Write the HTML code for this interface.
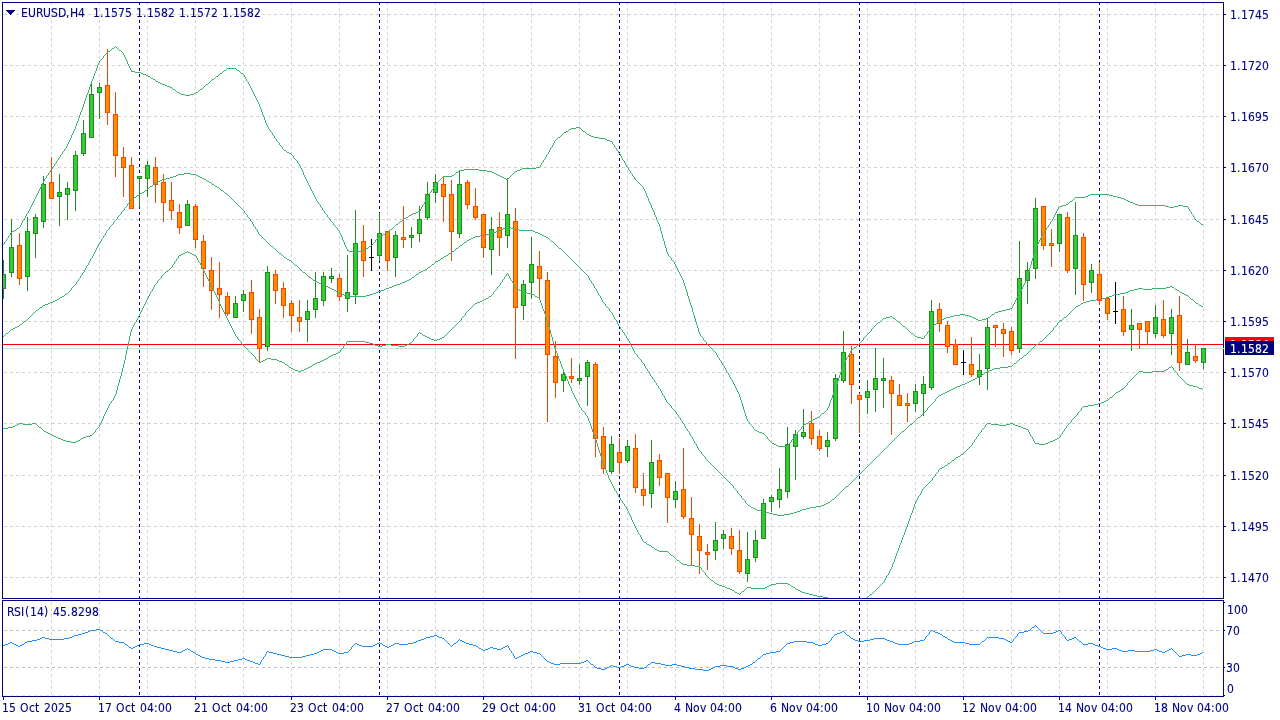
<!DOCTYPE html>
<html lang="en"><head><meta charset="utf-8"><title>EURUSD,H4</title>
<style>html,body{margin:0;padding:0;background:#fff;overflow:hidden}svg{display:block}</style>
</head><body><svg width="1280" height="720" viewBox="0 0 1280 720" shape-rendering="crispEdges"><rect width="1280" height="720" fill="#fff"/><path fill="#d3d3d3" d="M51 3h1v2h-1zM51 8h1v3h-1zM51 14h1v3h-1zM51 20h1v3h-1zM51 26h1v3h-1zM51 32h1v3h-1zM51 38h1v3h-1zM51 44h1v3h-1zM51 50h1v3h-1zM51 56h1v3h-1zM51 62h1v3h-1zM51 68h1v3h-1zM51 74h1v3h-1zM51 80h1v3h-1zM51 86h1v3h-1zM51 92h1v3h-1zM51 98h1v3h-1zM51 104h1v3h-1zM51 110h1v3h-1zM51 116h1v3h-1zM51 122h1v3h-1zM51 128h1v3h-1zM51 134h1v3h-1zM51 140h1v3h-1zM51 146h1v3h-1zM51 152h1v3h-1zM51 158h1v3h-1zM51 164h1v3h-1zM51 170h1v3h-1zM51 176h1v3h-1zM51 182h1v3h-1zM51 188h1v3h-1zM51 194h1v3h-1zM51 200h1v3h-1zM51 206h1v3h-1zM51 212h1v3h-1zM51 218h1v3h-1zM51 224h1v3h-1zM51 230h1v3h-1zM51 236h1v3h-1zM51 242h1v3h-1zM51 248h1v3h-1zM51 254h1v3h-1zM51 260h1v3h-1zM51 266h1v3h-1zM51 272h1v3h-1zM51 278h1v3h-1zM51 284h1v3h-1zM51 290h1v3h-1zM51 296h1v3h-1zM51 302h1v3h-1zM51 308h1v3h-1zM51 314h1v3h-1zM51 320h1v3h-1zM51 326h1v3h-1zM51 332h1v3h-1zM51 338h1v3h-1zM51 344h1v3h-1zM51 350h1v3h-1zM51 356h1v3h-1zM51 362h1v3h-1zM51 368h1v3h-1zM51 374h1v3h-1zM51 380h1v3h-1zM51 386h1v3h-1zM51 392h1v3h-1zM51 398h1v3h-1zM51 404h1v3h-1zM51 410h1v3h-1zM51 416h1v3h-1zM51 422h1v3h-1zM51 428h1v3h-1zM51 434h1v3h-1zM51 440h1v3h-1zM51 446h1v3h-1zM51 452h1v3h-1zM51 458h1v3h-1zM51 464h1v3h-1zM51 470h1v3h-1zM51 476h1v3h-1zM51 482h1v3h-1zM51 488h1v3h-1zM51 494h1v3h-1zM51 500h1v3h-1zM51 506h1v3h-1zM51 512h1v3h-1zM51 518h1v3h-1zM51 524h1v3h-1zM51 530h1v3h-1zM51 536h1v3h-1zM51 542h1v3h-1zM51 548h1v3h-1zM51 554h1v3h-1zM51 560h1v3h-1zM51 566h1v3h-1zM51 572h1v3h-1zM51 578h1v3h-1zM51 584h1v3h-1zM51 590h1v3h-1zM51 596h1v2h-1zM51 602h1v3h-1zM51 608h1v3h-1zM51 614h1v3h-1zM51 620h1v3h-1zM51 626h1v3h-1zM51 632h1v3h-1zM51 638h1v3h-1zM51 644h1v3h-1zM51 650h1v3h-1zM51 656h1v3h-1zM51 662h1v3h-1zM51 668h1v3h-1zM51 674h1v3h-1zM51 680h1v3h-1zM51 686h1v3h-1zM51 692h1v3h-1zM99 3h1v2h-1zM99 8h1v3h-1zM99 14h1v3h-1zM99 20h1v3h-1zM99 26h1v3h-1zM99 32h1v3h-1zM99 38h1v3h-1zM99 44h1v3h-1zM99 50h1v3h-1zM99 56h1v3h-1zM99 62h1v3h-1zM99 68h1v3h-1zM99 74h1v3h-1zM99 80h1v3h-1zM99 86h1v3h-1zM99 92h1v3h-1zM99 98h1v3h-1zM99 104h1v3h-1zM99 110h1v3h-1zM99 116h1v3h-1zM99 122h1v3h-1zM99 128h1v3h-1zM99 134h1v3h-1zM99 140h1v3h-1zM99 146h1v3h-1zM99 152h1v3h-1zM99 158h1v3h-1zM99 164h1v3h-1zM99 170h1v3h-1zM99 176h1v3h-1zM99 182h1v3h-1zM99 188h1v3h-1zM99 194h1v3h-1zM99 200h1v3h-1zM99 206h1v3h-1zM99 212h1v3h-1zM99 218h1v3h-1zM99 224h1v3h-1zM99 230h1v3h-1zM99 236h1v3h-1zM99 242h1v3h-1zM99 248h1v3h-1zM99 254h1v3h-1zM99 260h1v3h-1zM99 266h1v3h-1zM99 272h1v3h-1zM99 278h1v3h-1zM99 284h1v3h-1zM99 290h1v3h-1zM99 296h1v3h-1zM99 302h1v3h-1zM99 308h1v3h-1zM99 314h1v3h-1zM99 320h1v3h-1zM99 326h1v3h-1zM99 332h1v3h-1zM99 338h1v3h-1zM99 344h1v3h-1zM99 350h1v3h-1zM99 356h1v3h-1zM99 362h1v3h-1zM99 368h1v3h-1zM99 374h1v3h-1zM99 380h1v3h-1zM99 386h1v3h-1zM99 392h1v3h-1zM99 398h1v3h-1zM99 404h1v3h-1zM99 410h1v3h-1zM99 416h1v3h-1zM99 422h1v3h-1zM99 428h1v3h-1zM99 434h1v3h-1zM99 440h1v3h-1zM99 446h1v3h-1zM99 452h1v3h-1zM99 458h1v3h-1zM99 464h1v3h-1zM99 470h1v3h-1zM99 476h1v3h-1zM99 482h1v3h-1zM99 488h1v3h-1zM99 494h1v3h-1zM99 500h1v3h-1zM99 506h1v3h-1zM99 512h1v3h-1zM99 518h1v3h-1zM99 524h1v3h-1zM99 530h1v3h-1zM99 536h1v3h-1zM99 542h1v3h-1zM99 548h1v3h-1zM99 554h1v3h-1zM99 560h1v3h-1zM99 566h1v3h-1zM99 572h1v3h-1zM99 578h1v3h-1zM99 584h1v3h-1zM99 590h1v3h-1zM99 596h1v2h-1zM99 602h1v3h-1zM99 608h1v3h-1zM99 614h1v3h-1zM99 620h1v3h-1zM99 626h1v3h-1zM99 632h1v3h-1zM99 638h1v3h-1zM99 644h1v3h-1zM99 650h1v3h-1zM99 656h1v3h-1zM99 662h1v3h-1zM99 668h1v3h-1zM99 674h1v3h-1zM99 680h1v3h-1zM99 686h1v3h-1zM99 692h1v3h-1zM147 3h1v2h-1zM147 8h1v3h-1zM147 14h1v3h-1zM147 20h1v3h-1zM147 26h1v3h-1zM147 32h1v3h-1zM147 38h1v3h-1zM147 44h1v3h-1zM147 50h1v3h-1zM147 56h1v3h-1zM147 62h1v3h-1zM147 68h1v3h-1zM147 74h1v3h-1zM147 80h1v3h-1zM147 86h1v3h-1zM147 92h1v3h-1zM147 98h1v3h-1zM147 104h1v3h-1zM147 110h1v3h-1zM147 116h1v3h-1zM147 122h1v3h-1zM147 128h1v3h-1zM147 134h1v3h-1zM147 140h1v3h-1zM147 146h1v3h-1zM147 152h1v3h-1zM147 158h1v3h-1zM147 164h1v3h-1zM147 170h1v3h-1zM147 176h1v3h-1zM147 182h1v3h-1zM147 188h1v3h-1zM147 194h1v3h-1zM147 200h1v3h-1zM147 206h1v3h-1zM147 212h1v3h-1zM147 218h1v3h-1zM147 224h1v3h-1zM147 230h1v3h-1zM147 236h1v3h-1zM147 242h1v3h-1zM147 248h1v3h-1zM147 254h1v3h-1zM147 260h1v3h-1zM147 266h1v3h-1zM147 272h1v3h-1zM147 278h1v3h-1zM147 284h1v3h-1zM147 290h1v3h-1zM147 296h1v3h-1zM147 302h1v3h-1zM147 308h1v3h-1zM147 314h1v3h-1zM147 320h1v3h-1zM147 326h1v3h-1zM147 332h1v3h-1zM147 338h1v3h-1zM147 344h1v3h-1zM147 350h1v3h-1zM147 356h1v3h-1zM147 362h1v3h-1zM147 368h1v3h-1zM147 374h1v3h-1zM147 380h1v3h-1zM147 386h1v3h-1zM147 392h1v3h-1zM147 398h1v3h-1zM147 404h1v3h-1zM147 410h1v3h-1zM147 416h1v3h-1zM147 422h1v3h-1zM147 428h1v3h-1zM147 434h1v3h-1zM147 440h1v3h-1zM147 446h1v3h-1zM147 452h1v3h-1zM147 458h1v3h-1zM147 464h1v3h-1zM147 470h1v3h-1zM147 476h1v3h-1zM147 482h1v3h-1zM147 488h1v3h-1zM147 494h1v3h-1zM147 500h1v3h-1zM147 506h1v3h-1zM147 512h1v3h-1zM147 518h1v3h-1zM147 524h1v3h-1zM147 530h1v3h-1zM147 536h1v3h-1zM147 542h1v3h-1zM147 548h1v3h-1zM147 554h1v3h-1zM147 560h1v3h-1zM147 566h1v3h-1zM147 572h1v3h-1zM147 578h1v3h-1zM147 584h1v3h-1zM147 590h1v3h-1zM147 596h1v2h-1zM147 602h1v3h-1zM147 608h1v3h-1zM147 614h1v3h-1zM147 620h1v3h-1zM147 626h1v3h-1zM147 632h1v3h-1zM147 638h1v3h-1zM147 644h1v3h-1zM147 650h1v3h-1zM147 656h1v3h-1zM147 662h1v3h-1zM147 668h1v3h-1zM147 674h1v3h-1zM147 680h1v3h-1zM147 686h1v3h-1zM147 692h1v3h-1zM195 3h1v2h-1zM195 8h1v3h-1zM195 14h1v3h-1zM195 20h1v3h-1zM195 26h1v3h-1zM195 32h1v3h-1zM195 38h1v3h-1zM195 44h1v3h-1zM195 50h1v3h-1zM195 56h1v3h-1zM195 62h1v3h-1zM195 68h1v3h-1zM195 74h1v3h-1zM195 80h1v3h-1zM195 86h1v3h-1zM195 92h1v3h-1zM195 98h1v3h-1zM195 104h1v3h-1zM195 110h1v3h-1zM195 116h1v3h-1zM195 122h1v3h-1zM195 128h1v3h-1zM195 134h1v3h-1zM195 140h1v3h-1zM195 146h1v3h-1zM195 152h1v3h-1zM195 158h1v3h-1zM195 164h1v3h-1zM195 170h1v3h-1zM195 176h1v3h-1zM195 182h1v3h-1zM195 188h1v3h-1zM195 194h1v3h-1zM195 200h1v3h-1zM195 206h1v3h-1zM195 212h1v3h-1zM195 218h1v3h-1zM195 224h1v3h-1zM195 230h1v3h-1zM195 236h1v3h-1zM195 242h1v3h-1zM195 248h1v3h-1zM195 254h1v3h-1zM195 260h1v3h-1zM195 266h1v3h-1zM195 272h1v3h-1zM195 278h1v3h-1zM195 284h1v3h-1zM195 290h1v3h-1zM195 296h1v3h-1zM195 302h1v3h-1zM195 308h1v3h-1zM195 314h1v3h-1zM195 320h1v3h-1zM195 326h1v3h-1zM195 332h1v3h-1zM195 338h1v3h-1zM195 344h1v3h-1zM195 350h1v3h-1zM195 356h1v3h-1zM195 362h1v3h-1zM195 368h1v3h-1zM195 374h1v3h-1zM195 380h1v3h-1zM195 386h1v3h-1zM195 392h1v3h-1zM195 398h1v3h-1zM195 404h1v3h-1zM195 410h1v3h-1zM195 416h1v3h-1zM195 422h1v3h-1zM195 428h1v3h-1zM195 434h1v3h-1zM195 440h1v3h-1zM195 446h1v3h-1zM195 452h1v3h-1zM195 458h1v3h-1zM195 464h1v3h-1zM195 470h1v3h-1zM195 476h1v3h-1zM195 482h1v3h-1zM195 488h1v3h-1zM195 494h1v3h-1zM195 500h1v3h-1zM195 506h1v3h-1zM195 512h1v3h-1zM195 518h1v3h-1zM195 524h1v3h-1zM195 530h1v3h-1zM195 536h1v3h-1zM195 542h1v3h-1zM195 548h1v3h-1zM195 554h1v3h-1zM195 560h1v3h-1zM195 566h1v3h-1zM195 572h1v3h-1zM195 578h1v3h-1zM195 584h1v3h-1zM195 590h1v3h-1zM195 596h1v2h-1zM195 602h1v3h-1zM195 608h1v3h-1zM195 614h1v3h-1zM195 620h1v3h-1zM195 626h1v3h-1zM195 632h1v3h-1zM195 638h1v3h-1zM195 644h1v3h-1zM195 650h1v3h-1zM195 656h1v3h-1zM195 662h1v3h-1zM195 668h1v3h-1zM195 674h1v3h-1zM195 680h1v3h-1zM195 686h1v3h-1zM195 692h1v3h-1zM243 3h1v2h-1zM243 8h1v3h-1zM243 14h1v3h-1zM243 20h1v3h-1zM243 26h1v3h-1zM243 32h1v3h-1zM243 38h1v3h-1zM243 44h1v3h-1zM243 50h1v3h-1zM243 56h1v3h-1zM243 62h1v3h-1zM243 68h1v3h-1zM243 74h1v3h-1zM243 80h1v3h-1zM243 86h1v3h-1zM243 92h1v3h-1zM243 98h1v3h-1zM243 104h1v3h-1zM243 110h1v3h-1zM243 116h1v3h-1zM243 122h1v3h-1zM243 128h1v3h-1zM243 134h1v3h-1zM243 140h1v3h-1zM243 146h1v3h-1zM243 152h1v3h-1zM243 158h1v3h-1zM243 164h1v3h-1zM243 170h1v3h-1zM243 176h1v3h-1zM243 182h1v3h-1zM243 188h1v3h-1zM243 194h1v3h-1zM243 200h1v3h-1zM243 206h1v3h-1zM243 212h1v3h-1zM243 218h1v3h-1zM243 224h1v3h-1zM243 230h1v3h-1zM243 236h1v3h-1zM243 242h1v3h-1zM243 248h1v3h-1zM243 254h1v3h-1zM243 260h1v3h-1zM243 266h1v3h-1zM243 272h1v3h-1zM243 278h1v3h-1zM243 284h1v3h-1zM243 290h1v3h-1zM243 296h1v3h-1zM243 302h1v3h-1zM243 308h1v3h-1zM243 314h1v3h-1zM243 320h1v3h-1zM243 326h1v3h-1zM243 332h1v3h-1zM243 338h1v3h-1zM243 344h1v3h-1zM243 350h1v3h-1zM243 356h1v3h-1zM243 362h1v3h-1zM243 368h1v3h-1zM243 374h1v3h-1zM243 380h1v3h-1zM243 386h1v3h-1zM243 392h1v3h-1zM243 398h1v3h-1zM243 404h1v3h-1zM243 410h1v3h-1zM243 416h1v3h-1zM243 422h1v3h-1zM243 428h1v3h-1zM243 434h1v3h-1zM243 440h1v3h-1zM243 446h1v3h-1zM243 452h1v3h-1zM243 458h1v3h-1zM243 464h1v3h-1zM243 470h1v3h-1zM243 476h1v3h-1zM243 482h1v3h-1zM243 488h1v3h-1zM243 494h1v3h-1zM243 500h1v3h-1zM243 506h1v3h-1zM243 512h1v3h-1zM243 518h1v3h-1zM243 524h1v3h-1zM243 530h1v3h-1zM243 536h1v3h-1zM243 542h1v3h-1zM243 548h1v3h-1zM243 554h1v3h-1zM243 560h1v3h-1zM243 566h1v3h-1zM243 572h1v3h-1zM243 578h1v3h-1zM243 584h1v3h-1zM243 590h1v3h-1zM243 596h1v2h-1zM243 602h1v3h-1zM243 608h1v3h-1zM243 614h1v3h-1zM243 620h1v3h-1zM243 626h1v3h-1zM243 632h1v3h-1zM243 638h1v3h-1zM243 644h1v3h-1zM243 650h1v3h-1zM243 656h1v3h-1zM243 662h1v3h-1zM243 668h1v3h-1zM243 674h1v3h-1zM243 680h1v3h-1zM243 686h1v3h-1zM243 692h1v3h-1zM291 3h1v2h-1zM291 8h1v3h-1zM291 14h1v3h-1zM291 20h1v3h-1zM291 26h1v3h-1zM291 32h1v3h-1zM291 38h1v3h-1zM291 44h1v3h-1zM291 50h1v3h-1zM291 56h1v3h-1zM291 62h1v3h-1zM291 68h1v3h-1zM291 74h1v3h-1zM291 80h1v3h-1zM291 86h1v3h-1zM291 92h1v3h-1zM291 98h1v3h-1zM291 104h1v3h-1zM291 110h1v3h-1zM291 116h1v3h-1zM291 122h1v3h-1zM291 128h1v3h-1zM291 134h1v3h-1zM291 140h1v3h-1zM291 146h1v3h-1zM291 152h1v3h-1zM291 158h1v3h-1zM291 164h1v3h-1zM291 170h1v3h-1zM291 176h1v3h-1zM291 182h1v3h-1zM291 188h1v3h-1zM291 194h1v3h-1zM291 200h1v3h-1zM291 206h1v3h-1zM291 212h1v3h-1zM291 218h1v3h-1zM291 224h1v3h-1zM291 230h1v3h-1zM291 236h1v3h-1zM291 242h1v3h-1zM291 248h1v3h-1zM291 254h1v3h-1zM291 260h1v3h-1zM291 266h1v3h-1zM291 272h1v3h-1zM291 278h1v3h-1zM291 284h1v3h-1zM291 290h1v3h-1zM291 296h1v3h-1zM291 302h1v3h-1zM291 308h1v3h-1zM291 314h1v3h-1zM291 320h1v3h-1zM291 326h1v3h-1zM291 332h1v3h-1zM291 338h1v3h-1zM291 344h1v3h-1zM291 350h1v3h-1zM291 356h1v3h-1zM291 362h1v3h-1zM291 368h1v3h-1zM291 374h1v3h-1zM291 380h1v3h-1zM291 386h1v3h-1zM291 392h1v3h-1zM291 398h1v3h-1zM291 404h1v3h-1zM291 410h1v3h-1zM291 416h1v3h-1zM291 422h1v3h-1zM291 428h1v3h-1zM291 434h1v3h-1zM291 440h1v3h-1zM291 446h1v3h-1zM291 452h1v3h-1zM291 458h1v3h-1zM291 464h1v3h-1zM291 470h1v3h-1zM291 476h1v3h-1zM291 482h1v3h-1zM291 488h1v3h-1zM291 494h1v3h-1zM291 500h1v3h-1zM291 506h1v3h-1zM291 512h1v3h-1zM291 518h1v3h-1zM291 524h1v3h-1zM291 530h1v3h-1zM291 536h1v3h-1zM291 542h1v3h-1zM291 548h1v3h-1zM291 554h1v3h-1zM291 560h1v3h-1zM291 566h1v3h-1zM291 572h1v3h-1zM291 578h1v3h-1zM291 584h1v3h-1zM291 590h1v3h-1zM291 596h1v2h-1zM291 602h1v3h-1zM291 608h1v3h-1zM291 614h1v3h-1zM291 620h1v3h-1zM291 626h1v3h-1zM291 632h1v3h-1zM291 638h1v3h-1zM291 644h1v3h-1zM291 650h1v3h-1zM291 656h1v3h-1zM291 662h1v3h-1zM291 668h1v3h-1zM291 674h1v3h-1zM291 680h1v3h-1zM291 686h1v3h-1zM291 692h1v3h-1zM339 3h1v2h-1zM339 8h1v3h-1zM339 14h1v3h-1zM339 20h1v3h-1zM339 26h1v3h-1zM339 32h1v3h-1zM339 38h1v3h-1zM339 44h1v3h-1zM339 50h1v3h-1zM339 56h1v3h-1zM339 62h1v3h-1zM339 68h1v3h-1zM339 74h1v3h-1zM339 80h1v3h-1zM339 86h1v3h-1zM339 92h1v3h-1zM339 98h1v3h-1zM339 104h1v3h-1zM339 110h1v3h-1zM339 116h1v3h-1zM339 122h1v3h-1zM339 128h1v3h-1zM339 134h1v3h-1zM339 140h1v3h-1zM339 146h1v3h-1zM339 152h1v3h-1zM339 158h1v3h-1zM339 164h1v3h-1zM339 170h1v3h-1zM339 176h1v3h-1zM339 182h1v3h-1zM339 188h1v3h-1zM339 194h1v3h-1zM339 200h1v3h-1zM339 206h1v3h-1zM339 212h1v3h-1zM339 218h1v3h-1zM339 224h1v3h-1zM339 230h1v3h-1zM339 236h1v3h-1zM339 242h1v3h-1zM339 248h1v3h-1zM339 254h1v3h-1zM339 260h1v3h-1zM339 266h1v3h-1zM339 272h1v3h-1zM339 278h1v3h-1zM339 284h1v3h-1zM339 290h1v3h-1zM339 296h1v3h-1zM339 302h1v3h-1zM339 308h1v3h-1zM339 314h1v3h-1zM339 320h1v3h-1zM339 326h1v3h-1zM339 332h1v3h-1zM339 338h1v3h-1zM339 344h1v3h-1zM339 350h1v3h-1zM339 356h1v3h-1zM339 362h1v3h-1zM339 368h1v3h-1zM339 374h1v3h-1zM339 380h1v3h-1zM339 386h1v3h-1zM339 392h1v3h-1zM339 398h1v3h-1zM339 404h1v3h-1zM339 410h1v3h-1zM339 416h1v3h-1zM339 422h1v3h-1zM339 428h1v3h-1zM339 434h1v3h-1zM339 440h1v3h-1zM339 446h1v3h-1zM339 452h1v3h-1zM339 458h1v3h-1zM339 464h1v3h-1zM339 470h1v3h-1zM339 476h1v3h-1zM339 482h1v3h-1zM339 488h1v3h-1zM339 494h1v3h-1zM339 500h1v3h-1zM339 506h1v3h-1zM339 512h1v3h-1zM339 518h1v3h-1zM339 524h1v3h-1zM339 530h1v3h-1zM339 536h1v3h-1zM339 542h1v3h-1zM339 548h1v3h-1zM339 554h1v3h-1zM339 560h1v3h-1zM339 566h1v3h-1zM339 572h1v3h-1zM339 578h1v3h-1zM339 584h1v3h-1zM339 590h1v3h-1zM339 596h1v2h-1zM339 602h1v3h-1zM339 608h1v3h-1zM339 614h1v3h-1zM339 620h1v3h-1zM339 626h1v3h-1zM339 632h1v3h-1zM339 638h1v3h-1zM339 644h1v3h-1zM339 650h1v3h-1zM339 656h1v3h-1zM339 662h1v3h-1zM339 668h1v3h-1zM339 674h1v3h-1zM339 680h1v3h-1zM339 686h1v3h-1zM339 692h1v3h-1zM387 3h1v2h-1zM387 8h1v3h-1zM387 14h1v3h-1zM387 20h1v3h-1zM387 26h1v3h-1zM387 32h1v3h-1zM387 38h1v3h-1zM387 44h1v3h-1zM387 50h1v3h-1zM387 56h1v3h-1zM387 62h1v3h-1zM387 68h1v3h-1zM387 74h1v3h-1zM387 80h1v3h-1zM387 86h1v3h-1zM387 92h1v3h-1zM387 98h1v3h-1zM387 104h1v3h-1zM387 110h1v3h-1zM387 116h1v3h-1zM387 122h1v3h-1zM387 128h1v3h-1zM387 134h1v3h-1zM387 140h1v3h-1zM387 146h1v3h-1zM387 152h1v3h-1zM387 158h1v3h-1zM387 164h1v3h-1zM387 170h1v3h-1zM387 176h1v3h-1zM387 182h1v3h-1zM387 188h1v3h-1zM387 194h1v3h-1zM387 200h1v3h-1zM387 206h1v3h-1zM387 212h1v3h-1zM387 218h1v3h-1zM387 224h1v3h-1zM387 230h1v3h-1zM387 236h1v3h-1zM387 242h1v3h-1zM387 248h1v3h-1zM387 254h1v3h-1zM387 260h1v3h-1zM387 266h1v3h-1zM387 272h1v3h-1zM387 278h1v3h-1zM387 284h1v3h-1zM387 290h1v3h-1zM387 296h1v3h-1zM387 302h1v3h-1zM387 308h1v3h-1zM387 314h1v3h-1zM387 320h1v3h-1zM387 326h1v3h-1zM387 332h1v3h-1zM387 338h1v3h-1zM387 344h1v3h-1zM387 350h1v3h-1zM387 356h1v3h-1zM387 362h1v3h-1zM387 368h1v3h-1zM387 374h1v3h-1zM387 380h1v3h-1zM387 386h1v3h-1zM387 392h1v3h-1zM387 398h1v3h-1zM387 404h1v3h-1zM387 410h1v3h-1zM387 416h1v3h-1zM387 422h1v3h-1zM387 428h1v3h-1zM387 434h1v3h-1zM387 440h1v3h-1zM387 446h1v3h-1zM387 452h1v3h-1zM387 458h1v3h-1zM387 464h1v3h-1zM387 470h1v3h-1zM387 476h1v3h-1zM387 482h1v3h-1zM387 488h1v3h-1zM387 494h1v3h-1zM387 500h1v3h-1zM387 506h1v3h-1zM387 512h1v3h-1zM387 518h1v3h-1zM387 524h1v3h-1zM387 530h1v3h-1zM387 536h1v3h-1zM387 542h1v3h-1zM387 548h1v3h-1zM387 554h1v3h-1zM387 560h1v3h-1zM387 566h1v3h-1zM387 572h1v3h-1zM387 578h1v3h-1zM387 584h1v3h-1zM387 590h1v3h-1zM387 596h1v2h-1zM387 602h1v3h-1zM387 608h1v3h-1zM387 614h1v3h-1zM387 620h1v3h-1zM387 626h1v3h-1zM387 632h1v3h-1zM387 638h1v3h-1zM387 644h1v3h-1zM387 650h1v3h-1zM387 656h1v3h-1zM387 662h1v3h-1zM387 668h1v3h-1zM387 674h1v3h-1zM387 680h1v3h-1zM387 686h1v3h-1zM387 692h1v3h-1zM435 3h1v2h-1zM435 8h1v3h-1zM435 14h1v3h-1zM435 20h1v3h-1zM435 26h1v3h-1zM435 32h1v3h-1zM435 38h1v3h-1zM435 44h1v3h-1zM435 50h1v3h-1zM435 56h1v3h-1zM435 62h1v3h-1zM435 68h1v3h-1zM435 74h1v3h-1zM435 80h1v3h-1zM435 86h1v3h-1zM435 92h1v3h-1zM435 98h1v3h-1zM435 104h1v3h-1zM435 110h1v3h-1zM435 116h1v3h-1zM435 122h1v3h-1zM435 128h1v3h-1zM435 134h1v3h-1zM435 140h1v3h-1zM435 146h1v3h-1zM435 152h1v3h-1zM435 158h1v3h-1zM435 164h1v3h-1zM435 170h1v3h-1zM435 176h1v3h-1zM435 182h1v3h-1zM435 188h1v3h-1zM435 194h1v3h-1zM435 200h1v3h-1zM435 206h1v3h-1zM435 212h1v3h-1zM435 218h1v3h-1zM435 224h1v3h-1zM435 230h1v3h-1zM435 236h1v3h-1zM435 242h1v3h-1zM435 248h1v3h-1zM435 254h1v3h-1zM435 260h1v3h-1zM435 266h1v3h-1zM435 272h1v3h-1zM435 278h1v3h-1zM435 284h1v3h-1zM435 290h1v3h-1zM435 296h1v3h-1zM435 302h1v3h-1zM435 308h1v3h-1zM435 314h1v3h-1zM435 320h1v3h-1zM435 326h1v3h-1zM435 332h1v3h-1zM435 338h1v3h-1zM435 344h1v3h-1zM435 350h1v3h-1zM435 356h1v3h-1zM435 362h1v3h-1zM435 368h1v3h-1zM435 374h1v3h-1zM435 380h1v3h-1zM435 386h1v3h-1zM435 392h1v3h-1zM435 398h1v3h-1zM435 404h1v3h-1zM435 410h1v3h-1zM435 416h1v3h-1zM435 422h1v3h-1zM435 428h1v3h-1zM435 434h1v3h-1zM435 440h1v3h-1zM435 446h1v3h-1zM435 452h1v3h-1zM435 458h1v3h-1zM435 464h1v3h-1zM435 470h1v3h-1zM435 476h1v3h-1zM435 482h1v3h-1zM435 488h1v3h-1zM435 494h1v3h-1zM435 500h1v3h-1zM435 506h1v3h-1zM435 512h1v3h-1zM435 518h1v3h-1zM435 524h1v3h-1zM435 530h1v3h-1zM435 536h1v3h-1zM435 542h1v3h-1zM435 548h1v3h-1zM435 554h1v3h-1zM435 560h1v3h-1zM435 566h1v3h-1zM435 572h1v3h-1zM435 578h1v3h-1zM435 584h1v3h-1zM435 590h1v3h-1zM435 596h1v2h-1zM435 602h1v3h-1zM435 608h1v3h-1zM435 614h1v3h-1zM435 620h1v3h-1zM435 626h1v3h-1zM435 632h1v3h-1zM435 638h1v3h-1zM435 644h1v3h-1zM435 650h1v3h-1zM435 656h1v3h-1zM435 662h1v3h-1zM435 668h1v3h-1zM435 674h1v3h-1zM435 680h1v3h-1zM435 686h1v3h-1zM435 692h1v3h-1zM483 3h1v2h-1zM483 8h1v3h-1zM483 14h1v3h-1zM483 20h1v3h-1zM483 26h1v3h-1zM483 32h1v3h-1zM483 38h1v3h-1zM483 44h1v3h-1zM483 50h1v3h-1zM483 56h1v3h-1zM483 62h1v3h-1zM483 68h1v3h-1zM483 74h1v3h-1zM483 80h1v3h-1zM483 86h1v3h-1zM483 92h1v3h-1zM483 98h1v3h-1zM483 104h1v3h-1zM483 110h1v3h-1zM483 116h1v3h-1zM483 122h1v3h-1zM483 128h1v3h-1zM483 134h1v3h-1zM483 140h1v3h-1zM483 146h1v3h-1zM483 152h1v3h-1zM483 158h1v3h-1zM483 164h1v3h-1zM483 170h1v3h-1zM483 176h1v3h-1zM483 182h1v3h-1zM483 188h1v3h-1zM483 194h1v3h-1zM483 200h1v3h-1zM483 206h1v3h-1zM483 212h1v3h-1zM483 218h1v3h-1zM483 224h1v3h-1zM483 230h1v3h-1zM483 236h1v3h-1zM483 242h1v3h-1zM483 248h1v3h-1zM483 254h1v3h-1zM483 260h1v3h-1zM483 266h1v3h-1zM483 272h1v3h-1zM483 278h1v3h-1zM483 284h1v3h-1zM483 290h1v3h-1zM483 296h1v3h-1zM483 302h1v3h-1zM483 308h1v3h-1zM483 314h1v3h-1zM483 320h1v3h-1zM483 326h1v3h-1zM483 332h1v3h-1zM483 338h1v3h-1zM483 344h1v3h-1zM483 350h1v3h-1zM483 356h1v3h-1zM483 362h1v3h-1zM483 368h1v3h-1zM483 374h1v3h-1zM483 380h1v3h-1zM483 386h1v3h-1zM483 392h1v3h-1zM483 398h1v3h-1zM483 404h1v3h-1zM483 410h1v3h-1zM483 416h1v3h-1zM483 422h1v3h-1zM483 428h1v3h-1zM483 434h1v3h-1zM483 440h1v3h-1zM483 446h1v3h-1zM483 452h1v3h-1zM483 458h1v3h-1zM483 464h1v3h-1zM483 470h1v3h-1zM483 476h1v3h-1zM483 482h1v3h-1zM483 488h1v3h-1zM483 494h1v3h-1zM483 500h1v3h-1zM483 506h1v3h-1zM483 512h1v3h-1zM483 518h1v3h-1zM483 524h1v3h-1zM483 530h1v3h-1zM483 536h1v3h-1zM483 542h1v3h-1zM483 548h1v3h-1zM483 554h1v3h-1zM483 560h1v3h-1zM483 566h1v3h-1zM483 572h1v3h-1zM483 578h1v3h-1zM483 584h1v3h-1zM483 590h1v3h-1zM483 596h1v2h-1zM483 602h1v3h-1zM483 608h1v3h-1zM483 614h1v3h-1zM483 620h1v3h-1zM483 626h1v3h-1zM483 632h1v3h-1zM483 638h1v3h-1zM483 644h1v3h-1zM483 650h1v3h-1zM483 656h1v3h-1zM483 662h1v3h-1zM483 668h1v3h-1zM483 674h1v3h-1zM483 680h1v3h-1zM483 686h1v3h-1zM483 692h1v3h-1zM531 3h1v2h-1zM531 8h1v3h-1zM531 14h1v3h-1zM531 20h1v3h-1zM531 26h1v3h-1zM531 32h1v3h-1zM531 38h1v3h-1zM531 44h1v3h-1zM531 50h1v3h-1zM531 56h1v3h-1zM531 62h1v3h-1zM531 68h1v3h-1zM531 74h1v3h-1zM531 80h1v3h-1zM531 86h1v3h-1zM531 92h1v3h-1zM531 98h1v3h-1zM531 104h1v3h-1zM531 110h1v3h-1zM531 116h1v3h-1zM531 122h1v3h-1zM531 128h1v3h-1zM531 134h1v3h-1zM531 140h1v3h-1zM531 146h1v3h-1zM531 152h1v3h-1zM531 158h1v3h-1zM531 164h1v3h-1zM531 170h1v3h-1zM531 176h1v3h-1zM531 182h1v3h-1zM531 188h1v3h-1zM531 194h1v3h-1zM531 200h1v3h-1zM531 206h1v3h-1zM531 212h1v3h-1zM531 218h1v3h-1zM531 224h1v3h-1zM531 230h1v3h-1zM531 236h1v3h-1zM531 242h1v3h-1zM531 248h1v3h-1zM531 254h1v3h-1zM531 260h1v3h-1zM531 266h1v3h-1zM531 272h1v3h-1zM531 278h1v3h-1zM531 284h1v3h-1zM531 290h1v3h-1zM531 296h1v3h-1zM531 302h1v3h-1zM531 308h1v3h-1zM531 314h1v3h-1zM531 320h1v3h-1zM531 326h1v3h-1zM531 332h1v3h-1zM531 338h1v3h-1zM531 344h1v3h-1zM531 350h1v3h-1zM531 356h1v3h-1zM531 362h1v3h-1zM531 368h1v3h-1zM531 374h1v3h-1zM531 380h1v3h-1zM531 386h1v3h-1zM531 392h1v3h-1zM531 398h1v3h-1zM531 404h1v3h-1zM531 410h1v3h-1zM531 416h1v3h-1zM531 422h1v3h-1zM531 428h1v3h-1zM531 434h1v3h-1zM531 440h1v3h-1zM531 446h1v3h-1zM531 452h1v3h-1zM531 458h1v3h-1zM531 464h1v3h-1zM531 470h1v3h-1zM531 476h1v3h-1zM531 482h1v3h-1zM531 488h1v3h-1zM531 494h1v3h-1zM531 500h1v3h-1zM531 506h1v3h-1zM531 512h1v3h-1zM531 518h1v3h-1zM531 524h1v3h-1zM531 530h1v3h-1zM531 536h1v3h-1zM531 542h1v3h-1zM531 548h1v3h-1zM531 554h1v3h-1zM531 560h1v3h-1zM531 566h1v3h-1zM531 572h1v3h-1zM531 578h1v3h-1zM531 584h1v3h-1zM531 590h1v3h-1zM531 596h1v2h-1zM531 602h1v3h-1zM531 608h1v3h-1zM531 614h1v3h-1zM531 620h1v3h-1zM531 626h1v3h-1zM531 632h1v3h-1zM531 638h1v3h-1zM531 644h1v3h-1zM531 650h1v3h-1zM531 656h1v3h-1zM531 662h1v3h-1zM531 668h1v3h-1zM531 674h1v3h-1zM531 680h1v3h-1zM531 686h1v3h-1zM531 692h1v3h-1zM579 3h1v2h-1zM579 8h1v3h-1zM579 14h1v3h-1zM579 20h1v3h-1zM579 26h1v3h-1zM579 32h1v3h-1zM579 38h1v3h-1zM579 44h1v3h-1zM579 50h1v3h-1zM579 56h1v3h-1zM579 62h1v3h-1zM579 68h1v3h-1zM579 74h1v3h-1zM579 80h1v3h-1zM579 86h1v3h-1zM579 92h1v3h-1zM579 98h1v3h-1zM579 104h1v3h-1zM579 110h1v3h-1zM579 116h1v3h-1zM579 122h1v3h-1zM579 128h1v3h-1zM579 134h1v3h-1zM579 140h1v3h-1zM579 146h1v3h-1zM579 152h1v3h-1zM579 158h1v3h-1zM579 164h1v3h-1zM579 170h1v3h-1zM579 176h1v3h-1zM579 182h1v3h-1zM579 188h1v3h-1zM579 194h1v3h-1zM579 200h1v3h-1zM579 206h1v3h-1zM579 212h1v3h-1zM579 218h1v3h-1zM579 224h1v3h-1zM579 230h1v3h-1zM579 236h1v3h-1zM579 242h1v3h-1zM579 248h1v3h-1zM579 254h1v3h-1zM579 260h1v3h-1zM579 266h1v3h-1zM579 272h1v3h-1zM579 278h1v3h-1zM579 284h1v3h-1zM579 290h1v3h-1zM579 296h1v3h-1zM579 302h1v3h-1zM579 308h1v3h-1zM579 314h1v3h-1zM579 320h1v3h-1zM579 326h1v3h-1zM579 332h1v3h-1zM579 338h1v3h-1zM579 344h1v3h-1zM579 350h1v3h-1zM579 356h1v3h-1zM579 362h1v3h-1zM579 368h1v3h-1zM579 374h1v3h-1zM579 380h1v3h-1zM579 386h1v3h-1zM579 392h1v3h-1zM579 398h1v3h-1zM579 404h1v3h-1zM579 410h1v3h-1zM579 416h1v3h-1zM579 422h1v3h-1zM579 428h1v3h-1zM579 434h1v3h-1zM579 440h1v3h-1zM579 446h1v3h-1zM579 452h1v3h-1zM579 458h1v3h-1zM579 464h1v3h-1zM579 470h1v3h-1zM579 476h1v3h-1zM579 482h1v3h-1zM579 488h1v3h-1zM579 494h1v3h-1zM579 500h1v3h-1zM579 506h1v3h-1zM579 512h1v3h-1zM579 518h1v3h-1zM579 524h1v3h-1zM579 530h1v3h-1zM579 536h1v3h-1zM579 542h1v3h-1zM579 548h1v3h-1zM579 554h1v3h-1zM579 560h1v3h-1zM579 566h1v3h-1zM579 572h1v3h-1zM579 578h1v3h-1zM579 584h1v3h-1zM579 590h1v3h-1zM579 596h1v2h-1zM579 602h1v3h-1zM579 608h1v3h-1zM579 614h1v3h-1zM579 620h1v3h-1zM579 626h1v3h-1zM579 632h1v3h-1zM579 638h1v3h-1zM579 644h1v3h-1zM579 650h1v3h-1zM579 656h1v3h-1zM579 662h1v3h-1zM579 668h1v3h-1zM579 674h1v3h-1zM579 680h1v3h-1zM579 686h1v3h-1zM579 692h1v3h-1zM627 3h1v2h-1zM627 8h1v3h-1zM627 14h1v3h-1zM627 20h1v3h-1zM627 26h1v3h-1zM627 32h1v3h-1zM627 38h1v3h-1zM627 44h1v3h-1zM627 50h1v3h-1zM627 56h1v3h-1zM627 62h1v3h-1zM627 68h1v3h-1zM627 74h1v3h-1zM627 80h1v3h-1zM627 86h1v3h-1zM627 92h1v3h-1zM627 98h1v3h-1zM627 104h1v3h-1zM627 110h1v3h-1zM627 116h1v3h-1zM627 122h1v3h-1zM627 128h1v3h-1zM627 134h1v3h-1zM627 140h1v3h-1zM627 146h1v3h-1zM627 152h1v3h-1zM627 158h1v3h-1zM627 164h1v3h-1zM627 170h1v3h-1zM627 176h1v3h-1zM627 182h1v3h-1zM627 188h1v3h-1zM627 194h1v3h-1zM627 200h1v3h-1zM627 206h1v3h-1zM627 212h1v3h-1zM627 218h1v3h-1zM627 224h1v3h-1zM627 230h1v3h-1zM627 236h1v3h-1zM627 242h1v3h-1zM627 248h1v3h-1zM627 254h1v3h-1zM627 260h1v3h-1zM627 266h1v3h-1zM627 272h1v3h-1zM627 278h1v3h-1zM627 284h1v3h-1zM627 290h1v3h-1zM627 296h1v3h-1zM627 302h1v3h-1zM627 308h1v3h-1zM627 314h1v3h-1zM627 320h1v3h-1zM627 326h1v3h-1zM627 332h1v3h-1zM627 338h1v3h-1zM627 344h1v3h-1zM627 350h1v3h-1zM627 356h1v3h-1zM627 362h1v3h-1zM627 368h1v3h-1zM627 374h1v3h-1zM627 380h1v3h-1zM627 386h1v3h-1zM627 392h1v3h-1zM627 398h1v3h-1zM627 404h1v3h-1zM627 410h1v3h-1zM627 416h1v3h-1zM627 422h1v3h-1zM627 428h1v3h-1zM627 434h1v3h-1zM627 440h1v3h-1zM627 446h1v3h-1zM627 452h1v3h-1zM627 458h1v3h-1zM627 464h1v3h-1zM627 470h1v3h-1zM627 476h1v3h-1zM627 482h1v3h-1zM627 488h1v3h-1zM627 494h1v3h-1zM627 500h1v3h-1zM627 506h1v3h-1zM627 512h1v3h-1zM627 518h1v3h-1zM627 524h1v3h-1zM627 530h1v3h-1zM627 536h1v3h-1zM627 542h1v3h-1zM627 548h1v3h-1zM627 554h1v3h-1zM627 560h1v3h-1zM627 566h1v3h-1zM627 572h1v3h-1zM627 578h1v3h-1zM627 584h1v3h-1zM627 590h1v3h-1zM627 596h1v2h-1zM627 602h1v3h-1zM627 608h1v3h-1zM627 614h1v3h-1zM627 620h1v3h-1zM627 626h1v3h-1zM627 632h1v3h-1zM627 638h1v3h-1zM627 644h1v3h-1zM627 650h1v3h-1zM627 656h1v3h-1zM627 662h1v3h-1zM627 668h1v3h-1zM627 674h1v3h-1zM627 680h1v3h-1zM627 686h1v3h-1zM627 692h1v3h-1zM675 3h1v2h-1zM675 8h1v3h-1zM675 14h1v3h-1zM675 20h1v3h-1zM675 26h1v3h-1zM675 32h1v3h-1zM675 38h1v3h-1zM675 44h1v3h-1zM675 50h1v3h-1zM675 56h1v3h-1zM675 62h1v3h-1zM675 68h1v3h-1zM675 74h1v3h-1zM675 80h1v3h-1zM675 86h1v3h-1zM675 92h1v3h-1zM675 98h1v3h-1zM675 104h1v3h-1zM675 110h1v3h-1zM675 116h1v3h-1zM675 122h1v3h-1zM675 128h1v3h-1zM675 134h1v3h-1zM675 140h1v3h-1zM675 146h1v3h-1zM675 152h1v3h-1zM675 158h1v3h-1zM675 164h1v3h-1zM675 170h1v3h-1zM675 176h1v3h-1zM675 182h1v3h-1zM675 188h1v3h-1zM675 194h1v3h-1zM675 200h1v3h-1zM675 206h1v3h-1zM675 212h1v3h-1zM675 218h1v3h-1zM675 224h1v3h-1zM675 230h1v3h-1zM675 236h1v3h-1zM675 242h1v3h-1zM675 248h1v3h-1zM675 254h1v3h-1zM675 260h1v3h-1zM675 266h1v3h-1zM675 272h1v3h-1zM675 278h1v3h-1zM675 284h1v3h-1zM675 290h1v3h-1zM675 296h1v3h-1zM675 302h1v3h-1zM675 308h1v3h-1zM675 314h1v3h-1zM675 320h1v3h-1zM675 326h1v3h-1zM675 332h1v3h-1zM675 338h1v3h-1zM675 344h1v3h-1zM675 350h1v3h-1zM675 356h1v3h-1zM675 362h1v3h-1zM675 368h1v3h-1zM675 374h1v3h-1zM675 380h1v3h-1zM675 386h1v3h-1zM675 392h1v3h-1zM675 398h1v3h-1zM675 404h1v3h-1zM675 410h1v3h-1zM675 416h1v3h-1zM675 422h1v3h-1zM675 428h1v3h-1zM675 434h1v3h-1zM675 440h1v3h-1zM675 446h1v3h-1zM675 452h1v3h-1zM675 458h1v3h-1zM675 464h1v3h-1zM675 470h1v3h-1zM675 476h1v3h-1zM675 482h1v3h-1zM675 488h1v3h-1zM675 494h1v3h-1zM675 500h1v3h-1zM675 506h1v3h-1zM675 512h1v3h-1zM675 518h1v3h-1zM675 524h1v3h-1zM675 530h1v3h-1zM675 536h1v3h-1zM675 542h1v3h-1zM675 548h1v3h-1zM675 554h1v3h-1zM675 560h1v3h-1zM675 566h1v3h-1zM675 572h1v3h-1zM675 578h1v3h-1zM675 584h1v3h-1zM675 590h1v3h-1zM675 596h1v2h-1zM675 602h1v3h-1zM675 608h1v3h-1zM675 614h1v3h-1zM675 620h1v3h-1zM675 626h1v3h-1zM675 632h1v3h-1zM675 638h1v3h-1zM675 644h1v3h-1zM675 650h1v3h-1zM675 656h1v3h-1zM675 662h1v3h-1zM675 668h1v3h-1zM675 674h1v3h-1zM675 680h1v3h-1zM675 686h1v3h-1zM675 692h1v3h-1zM723 3h1v2h-1zM723 8h1v3h-1zM723 14h1v3h-1zM723 20h1v3h-1zM723 26h1v3h-1zM723 32h1v3h-1zM723 38h1v3h-1zM723 44h1v3h-1zM723 50h1v3h-1zM723 56h1v3h-1zM723 62h1v3h-1zM723 68h1v3h-1zM723 74h1v3h-1zM723 80h1v3h-1zM723 86h1v3h-1zM723 92h1v3h-1zM723 98h1v3h-1zM723 104h1v3h-1zM723 110h1v3h-1zM723 116h1v3h-1zM723 122h1v3h-1zM723 128h1v3h-1zM723 134h1v3h-1zM723 140h1v3h-1zM723 146h1v3h-1zM723 152h1v3h-1zM723 158h1v3h-1zM723 164h1v3h-1zM723 170h1v3h-1zM723 176h1v3h-1zM723 182h1v3h-1zM723 188h1v3h-1zM723 194h1v3h-1zM723 200h1v3h-1zM723 206h1v3h-1zM723 212h1v3h-1zM723 218h1v3h-1zM723 224h1v3h-1zM723 230h1v3h-1zM723 236h1v3h-1zM723 242h1v3h-1zM723 248h1v3h-1zM723 254h1v3h-1zM723 260h1v3h-1zM723 266h1v3h-1zM723 272h1v3h-1zM723 278h1v3h-1zM723 284h1v3h-1zM723 290h1v3h-1zM723 296h1v3h-1zM723 302h1v3h-1zM723 308h1v3h-1zM723 314h1v3h-1zM723 320h1v3h-1zM723 326h1v3h-1zM723 332h1v3h-1zM723 338h1v3h-1zM723 344h1v3h-1zM723 350h1v3h-1zM723 356h1v3h-1zM723 362h1v3h-1zM723 368h1v3h-1zM723 374h1v3h-1zM723 380h1v3h-1zM723 386h1v3h-1zM723 392h1v3h-1zM723 398h1v3h-1zM723 404h1v3h-1zM723 410h1v3h-1zM723 416h1v3h-1zM723 422h1v3h-1zM723 428h1v3h-1zM723 434h1v3h-1zM723 440h1v3h-1zM723 446h1v3h-1zM723 452h1v3h-1zM723 458h1v3h-1zM723 464h1v3h-1zM723 470h1v3h-1zM723 476h1v3h-1zM723 482h1v3h-1zM723 488h1v3h-1zM723 494h1v3h-1zM723 500h1v3h-1zM723 506h1v3h-1zM723 512h1v3h-1zM723 518h1v3h-1zM723 524h1v3h-1zM723 530h1v3h-1zM723 536h1v3h-1zM723 542h1v3h-1zM723 548h1v3h-1zM723 554h1v3h-1zM723 560h1v3h-1zM723 566h1v3h-1zM723 572h1v3h-1zM723 578h1v3h-1zM723 584h1v3h-1zM723 590h1v3h-1zM723 596h1v2h-1zM723 602h1v3h-1zM723 608h1v3h-1zM723 614h1v3h-1zM723 620h1v3h-1zM723 626h1v3h-1zM723 632h1v3h-1zM723 638h1v3h-1zM723 644h1v3h-1zM723 650h1v3h-1zM723 656h1v3h-1zM723 662h1v3h-1zM723 668h1v3h-1zM723 674h1v3h-1zM723 680h1v3h-1zM723 686h1v3h-1zM723 692h1v3h-1zM771 3h1v2h-1zM771 8h1v3h-1zM771 14h1v3h-1zM771 20h1v3h-1zM771 26h1v3h-1zM771 32h1v3h-1zM771 38h1v3h-1zM771 44h1v3h-1zM771 50h1v3h-1zM771 56h1v3h-1zM771 62h1v3h-1zM771 68h1v3h-1zM771 74h1v3h-1zM771 80h1v3h-1zM771 86h1v3h-1zM771 92h1v3h-1zM771 98h1v3h-1zM771 104h1v3h-1zM771 110h1v3h-1zM771 116h1v3h-1zM771 122h1v3h-1zM771 128h1v3h-1zM771 134h1v3h-1zM771 140h1v3h-1zM771 146h1v3h-1zM771 152h1v3h-1zM771 158h1v3h-1zM771 164h1v3h-1zM771 170h1v3h-1zM771 176h1v3h-1zM771 182h1v3h-1zM771 188h1v3h-1zM771 194h1v3h-1zM771 200h1v3h-1zM771 206h1v3h-1zM771 212h1v3h-1zM771 218h1v3h-1zM771 224h1v3h-1zM771 230h1v3h-1zM771 236h1v3h-1zM771 242h1v3h-1zM771 248h1v3h-1zM771 254h1v3h-1zM771 260h1v3h-1zM771 266h1v3h-1zM771 272h1v3h-1zM771 278h1v3h-1zM771 284h1v3h-1zM771 290h1v3h-1zM771 296h1v3h-1zM771 302h1v3h-1zM771 308h1v3h-1zM771 314h1v3h-1zM771 320h1v3h-1zM771 326h1v3h-1zM771 332h1v3h-1zM771 338h1v3h-1zM771 344h1v3h-1zM771 350h1v3h-1zM771 356h1v3h-1zM771 362h1v3h-1zM771 368h1v3h-1zM771 374h1v3h-1zM771 380h1v3h-1zM771 386h1v3h-1zM771 392h1v3h-1zM771 398h1v3h-1zM771 404h1v3h-1zM771 410h1v3h-1zM771 416h1v3h-1zM771 422h1v3h-1zM771 428h1v3h-1zM771 434h1v3h-1zM771 440h1v3h-1zM771 446h1v3h-1zM771 452h1v3h-1zM771 458h1v3h-1zM771 464h1v3h-1zM771 470h1v3h-1zM771 476h1v3h-1zM771 482h1v3h-1zM771 488h1v3h-1zM771 494h1v3h-1zM771 500h1v3h-1zM771 506h1v3h-1zM771 512h1v3h-1zM771 518h1v3h-1zM771 524h1v3h-1zM771 530h1v3h-1zM771 536h1v3h-1zM771 542h1v3h-1zM771 548h1v3h-1zM771 554h1v3h-1zM771 560h1v3h-1zM771 566h1v3h-1zM771 572h1v3h-1zM771 578h1v3h-1zM771 584h1v3h-1zM771 590h1v3h-1zM771 596h1v2h-1zM771 602h1v3h-1zM771 608h1v3h-1zM771 614h1v3h-1zM771 620h1v3h-1zM771 626h1v3h-1zM771 632h1v3h-1zM771 638h1v3h-1zM771 644h1v3h-1zM771 650h1v3h-1zM771 656h1v3h-1zM771 662h1v3h-1zM771 668h1v3h-1zM771 674h1v3h-1zM771 680h1v3h-1zM771 686h1v3h-1zM771 692h1v3h-1zM819 3h1v2h-1zM819 8h1v3h-1zM819 14h1v3h-1zM819 20h1v3h-1zM819 26h1v3h-1zM819 32h1v3h-1zM819 38h1v3h-1zM819 44h1v3h-1zM819 50h1v3h-1zM819 56h1v3h-1zM819 62h1v3h-1zM819 68h1v3h-1zM819 74h1v3h-1zM819 80h1v3h-1zM819 86h1v3h-1zM819 92h1v3h-1zM819 98h1v3h-1zM819 104h1v3h-1zM819 110h1v3h-1zM819 116h1v3h-1zM819 122h1v3h-1zM819 128h1v3h-1zM819 134h1v3h-1zM819 140h1v3h-1zM819 146h1v3h-1zM819 152h1v3h-1zM819 158h1v3h-1zM819 164h1v3h-1zM819 170h1v3h-1zM819 176h1v3h-1zM819 182h1v3h-1zM819 188h1v3h-1zM819 194h1v3h-1zM819 200h1v3h-1zM819 206h1v3h-1zM819 212h1v3h-1zM819 218h1v3h-1zM819 224h1v3h-1zM819 230h1v3h-1zM819 236h1v3h-1zM819 242h1v3h-1zM819 248h1v3h-1zM819 254h1v3h-1zM819 260h1v3h-1zM819 266h1v3h-1zM819 272h1v3h-1zM819 278h1v3h-1zM819 284h1v3h-1zM819 290h1v3h-1zM819 296h1v3h-1zM819 302h1v3h-1zM819 308h1v3h-1zM819 314h1v3h-1zM819 320h1v3h-1zM819 326h1v3h-1zM819 332h1v3h-1zM819 338h1v3h-1zM819 344h1v3h-1zM819 350h1v3h-1zM819 356h1v3h-1zM819 362h1v3h-1zM819 368h1v3h-1zM819 374h1v3h-1zM819 380h1v3h-1zM819 386h1v3h-1zM819 392h1v3h-1zM819 398h1v3h-1zM819 404h1v3h-1zM819 410h1v3h-1zM819 416h1v3h-1zM819 422h1v3h-1zM819 428h1v3h-1zM819 434h1v3h-1zM819 440h1v3h-1zM819 446h1v3h-1zM819 452h1v3h-1zM819 458h1v3h-1zM819 464h1v3h-1zM819 470h1v3h-1zM819 476h1v3h-1zM819 482h1v3h-1zM819 488h1v3h-1zM819 494h1v3h-1zM819 500h1v3h-1zM819 506h1v3h-1zM819 512h1v3h-1zM819 518h1v3h-1zM819 524h1v3h-1zM819 530h1v3h-1zM819 536h1v3h-1zM819 542h1v3h-1zM819 548h1v3h-1zM819 554h1v3h-1zM819 560h1v3h-1zM819 566h1v3h-1zM819 572h1v3h-1zM819 578h1v3h-1zM819 584h1v3h-1zM819 590h1v3h-1zM819 596h1v2h-1zM819 602h1v3h-1zM819 608h1v3h-1zM819 614h1v3h-1zM819 620h1v3h-1zM819 626h1v3h-1zM819 632h1v3h-1zM819 638h1v3h-1zM819 644h1v3h-1zM819 650h1v3h-1zM819 656h1v3h-1zM819 662h1v3h-1zM819 668h1v3h-1zM819 674h1v3h-1zM819 680h1v3h-1zM819 686h1v3h-1zM819 692h1v3h-1zM867 3h1v2h-1zM867 8h1v3h-1zM867 14h1v3h-1zM867 20h1v3h-1zM867 26h1v3h-1zM867 32h1v3h-1zM867 38h1v3h-1zM867 44h1v3h-1zM867 50h1v3h-1zM867 56h1v3h-1zM867 62h1v3h-1zM867 68h1v3h-1zM867 74h1v3h-1zM867 80h1v3h-1zM867 86h1v3h-1zM867 92h1v3h-1zM867 98h1v3h-1zM867 104h1v3h-1zM867 110h1v3h-1zM867 116h1v3h-1zM867 122h1v3h-1zM867 128h1v3h-1zM867 134h1v3h-1zM867 140h1v3h-1zM867 146h1v3h-1zM867 152h1v3h-1zM867 158h1v3h-1zM867 164h1v3h-1zM867 170h1v3h-1zM867 176h1v3h-1zM867 182h1v3h-1zM867 188h1v3h-1zM867 194h1v3h-1zM867 200h1v3h-1zM867 206h1v3h-1zM867 212h1v3h-1zM867 218h1v3h-1zM867 224h1v3h-1zM867 230h1v3h-1zM867 236h1v3h-1zM867 242h1v3h-1zM867 248h1v3h-1zM867 254h1v3h-1zM867 260h1v3h-1zM867 266h1v3h-1zM867 272h1v3h-1zM867 278h1v3h-1zM867 284h1v3h-1zM867 290h1v3h-1zM867 296h1v3h-1zM867 302h1v3h-1zM867 308h1v3h-1zM867 314h1v3h-1zM867 320h1v3h-1zM867 326h1v3h-1zM867 332h1v3h-1zM867 338h1v3h-1zM867 344h1v3h-1zM867 350h1v3h-1zM867 356h1v3h-1zM867 362h1v3h-1zM867 368h1v3h-1zM867 374h1v3h-1zM867 380h1v3h-1zM867 386h1v3h-1zM867 392h1v3h-1zM867 398h1v3h-1zM867 404h1v3h-1zM867 410h1v3h-1zM867 416h1v3h-1zM867 422h1v3h-1zM867 428h1v3h-1zM867 434h1v3h-1zM867 440h1v3h-1zM867 446h1v3h-1zM867 452h1v3h-1zM867 458h1v3h-1zM867 464h1v3h-1zM867 470h1v3h-1zM867 476h1v3h-1zM867 482h1v3h-1zM867 488h1v3h-1zM867 494h1v3h-1zM867 500h1v3h-1zM867 506h1v3h-1zM867 512h1v3h-1zM867 518h1v3h-1zM867 524h1v3h-1zM867 530h1v3h-1zM867 536h1v3h-1zM867 542h1v3h-1zM867 548h1v3h-1zM867 554h1v3h-1zM867 560h1v3h-1zM867 566h1v3h-1zM867 572h1v3h-1zM867 578h1v3h-1zM867 584h1v3h-1zM867 590h1v3h-1zM867 596h1v2h-1zM867 602h1v3h-1zM867 608h1v3h-1zM867 614h1v3h-1zM867 620h1v3h-1zM867 626h1v3h-1zM867 632h1v3h-1zM867 638h1v3h-1zM867 644h1v3h-1zM867 650h1v3h-1zM867 656h1v3h-1zM867 662h1v3h-1zM867 668h1v3h-1zM867 674h1v3h-1zM867 680h1v3h-1zM867 686h1v3h-1zM867 692h1v3h-1zM915 3h1v2h-1zM915 8h1v3h-1zM915 14h1v3h-1zM915 20h1v3h-1zM915 26h1v3h-1zM915 32h1v3h-1zM915 38h1v3h-1zM915 44h1v3h-1zM915 50h1v3h-1zM915 56h1v3h-1zM915 62h1v3h-1zM915 68h1v3h-1zM915 74h1v3h-1zM915 80h1v3h-1zM915 86h1v3h-1zM915 92h1v3h-1zM915 98h1v3h-1zM915 104h1v3h-1zM915 110h1v3h-1zM915 116h1v3h-1zM915 122h1v3h-1zM915 128h1v3h-1zM915 134h1v3h-1zM915 140h1v3h-1zM915 146h1v3h-1zM915 152h1v3h-1zM915 158h1v3h-1zM915 164h1v3h-1zM915 170h1v3h-1zM915 176h1v3h-1zM915 182h1v3h-1zM915 188h1v3h-1zM915 194h1v3h-1zM915 200h1v3h-1zM915 206h1v3h-1zM915 212h1v3h-1zM915 218h1v3h-1zM915 224h1v3h-1zM915 230h1v3h-1zM915 236h1v3h-1zM915 242h1v3h-1zM915 248h1v3h-1zM915 254h1v3h-1zM915 260h1v3h-1zM915 266h1v3h-1zM915 272h1v3h-1zM915 278h1v3h-1zM915 284h1v3h-1zM915 290h1v3h-1zM915 296h1v3h-1zM915 302h1v3h-1zM915 308h1v3h-1zM915 314h1v3h-1zM915 320h1v3h-1zM915 326h1v3h-1zM915 332h1v3h-1zM915 338h1v3h-1zM915 344h1v3h-1zM915 350h1v3h-1zM915 356h1v3h-1zM915 362h1v3h-1zM915 368h1v3h-1zM915 374h1v3h-1zM915 380h1v3h-1zM915 386h1v3h-1zM915 392h1v3h-1zM915 398h1v3h-1zM915 404h1v3h-1zM915 410h1v3h-1zM915 416h1v3h-1zM915 422h1v3h-1zM915 428h1v3h-1zM915 434h1v3h-1zM915 440h1v3h-1zM915 446h1v3h-1zM915 452h1v3h-1zM915 458h1v3h-1zM915 464h1v3h-1zM915 470h1v3h-1zM915 476h1v3h-1zM915 482h1v3h-1zM915 488h1v3h-1zM915 494h1v3h-1zM915 500h1v3h-1zM915 506h1v3h-1zM915 512h1v3h-1zM915 518h1v3h-1zM915 524h1v3h-1zM915 530h1v3h-1zM915 536h1v3h-1zM915 542h1v3h-1zM915 548h1v3h-1zM915 554h1v3h-1zM915 560h1v3h-1zM915 566h1v3h-1zM915 572h1v3h-1zM915 578h1v3h-1zM915 584h1v3h-1zM915 590h1v3h-1zM915 596h1v2h-1zM915 602h1v3h-1zM915 608h1v3h-1zM915 614h1v3h-1zM915 620h1v3h-1zM915 626h1v3h-1zM915 632h1v3h-1zM915 638h1v3h-1zM915 644h1v3h-1zM915 650h1v3h-1zM915 656h1v3h-1zM915 662h1v3h-1zM915 668h1v3h-1zM915 674h1v3h-1zM915 680h1v3h-1zM915 686h1v3h-1zM915 692h1v3h-1zM963 3h1v2h-1zM963 8h1v3h-1zM963 14h1v3h-1zM963 20h1v3h-1zM963 26h1v3h-1zM963 32h1v3h-1zM963 38h1v3h-1zM963 44h1v3h-1zM963 50h1v3h-1zM963 56h1v3h-1zM963 62h1v3h-1zM963 68h1v3h-1zM963 74h1v3h-1zM963 80h1v3h-1zM963 86h1v3h-1zM963 92h1v3h-1zM963 98h1v3h-1zM963 104h1v3h-1zM963 110h1v3h-1zM963 116h1v3h-1zM963 122h1v3h-1zM963 128h1v3h-1zM963 134h1v3h-1zM963 140h1v3h-1zM963 146h1v3h-1zM963 152h1v3h-1zM963 158h1v3h-1zM963 164h1v3h-1zM963 170h1v3h-1zM963 176h1v3h-1zM963 182h1v3h-1zM963 188h1v3h-1zM963 194h1v3h-1zM963 200h1v3h-1zM963 206h1v3h-1zM963 212h1v3h-1zM963 218h1v3h-1zM963 224h1v3h-1zM963 230h1v3h-1zM963 236h1v3h-1zM963 242h1v3h-1zM963 248h1v3h-1zM963 254h1v3h-1zM963 260h1v3h-1zM963 266h1v3h-1zM963 272h1v3h-1zM963 278h1v3h-1zM963 284h1v3h-1zM963 290h1v3h-1zM963 296h1v3h-1zM963 302h1v3h-1zM963 308h1v3h-1zM963 314h1v3h-1zM963 320h1v3h-1zM963 326h1v3h-1zM963 332h1v3h-1zM963 338h1v3h-1zM963 344h1v3h-1zM963 350h1v3h-1zM963 356h1v3h-1zM963 362h1v3h-1zM963 368h1v3h-1zM963 374h1v3h-1zM963 380h1v3h-1zM963 386h1v3h-1zM963 392h1v3h-1zM963 398h1v3h-1zM963 404h1v3h-1zM963 410h1v3h-1zM963 416h1v3h-1zM963 422h1v3h-1zM963 428h1v3h-1zM963 434h1v3h-1zM963 440h1v3h-1zM963 446h1v3h-1zM963 452h1v3h-1zM963 458h1v3h-1zM963 464h1v3h-1zM963 470h1v3h-1zM963 476h1v3h-1zM963 482h1v3h-1zM963 488h1v3h-1zM963 494h1v3h-1zM963 500h1v3h-1zM963 506h1v3h-1zM963 512h1v3h-1zM963 518h1v3h-1zM963 524h1v3h-1zM963 530h1v3h-1zM963 536h1v3h-1zM963 542h1v3h-1zM963 548h1v3h-1zM963 554h1v3h-1zM963 560h1v3h-1zM963 566h1v3h-1zM963 572h1v3h-1zM963 578h1v3h-1zM963 584h1v3h-1zM963 590h1v3h-1zM963 596h1v2h-1zM963 602h1v3h-1zM963 608h1v3h-1zM963 614h1v3h-1zM963 620h1v3h-1zM963 626h1v3h-1zM963 632h1v3h-1zM963 638h1v3h-1zM963 644h1v3h-1zM963 650h1v3h-1zM963 656h1v3h-1zM963 662h1v3h-1zM963 668h1v3h-1zM963 674h1v3h-1zM963 680h1v3h-1zM963 686h1v3h-1zM963 692h1v3h-1zM1011 3h1v2h-1zM1011 8h1v3h-1zM1011 14h1v3h-1zM1011 20h1v3h-1zM1011 26h1v3h-1zM1011 32h1v3h-1zM1011 38h1v3h-1zM1011 44h1v3h-1zM1011 50h1v3h-1zM1011 56h1v3h-1zM1011 62h1v3h-1zM1011 68h1v3h-1zM1011 74h1v3h-1zM1011 80h1v3h-1zM1011 86h1v3h-1zM1011 92h1v3h-1zM1011 98h1v3h-1zM1011 104h1v3h-1zM1011 110h1v3h-1zM1011 116h1v3h-1zM1011 122h1v3h-1zM1011 128h1v3h-1zM1011 134h1v3h-1zM1011 140h1v3h-1zM1011 146h1v3h-1zM1011 152h1v3h-1zM1011 158h1v3h-1zM1011 164h1v3h-1zM1011 170h1v3h-1zM1011 176h1v3h-1zM1011 182h1v3h-1zM1011 188h1v3h-1zM1011 194h1v3h-1zM1011 200h1v3h-1zM1011 206h1v3h-1zM1011 212h1v3h-1zM1011 218h1v3h-1zM1011 224h1v3h-1zM1011 230h1v3h-1zM1011 236h1v3h-1zM1011 242h1v3h-1zM1011 248h1v3h-1zM1011 254h1v3h-1zM1011 260h1v3h-1zM1011 266h1v3h-1zM1011 272h1v3h-1zM1011 278h1v3h-1zM1011 284h1v3h-1zM1011 290h1v3h-1zM1011 296h1v3h-1zM1011 302h1v3h-1zM1011 308h1v3h-1zM1011 314h1v3h-1zM1011 320h1v3h-1zM1011 326h1v3h-1zM1011 332h1v3h-1zM1011 338h1v3h-1zM1011 344h1v3h-1zM1011 350h1v3h-1zM1011 356h1v3h-1zM1011 362h1v3h-1zM1011 368h1v3h-1zM1011 374h1v3h-1zM1011 380h1v3h-1zM1011 386h1v3h-1zM1011 392h1v3h-1zM1011 398h1v3h-1zM1011 404h1v3h-1zM1011 410h1v3h-1zM1011 416h1v3h-1zM1011 422h1v3h-1zM1011 428h1v3h-1zM1011 434h1v3h-1zM1011 440h1v3h-1zM1011 446h1v3h-1zM1011 452h1v3h-1zM1011 458h1v3h-1zM1011 464h1v3h-1zM1011 470h1v3h-1zM1011 476h1v3h-1zM1011 482h1v3h-1zM1011 488h1v3h-1zM1011 494h1v3h-1zM1011 500h1v3h-1zM1011 506h1v3h-1zM1011 512h1v3h-1zM1011 518h1v3h-1zM1011 524h1v3h-1zM1011 530h1v3h-1zM1011 536h1v3h-1zM1011 542h1v3h-1zM1011 548h1v3h-1zM1011 554h1v3h-1zM1011 560h1v3h-1zM1011 566h1v3h-1zM1011 572h1v3h-1zM1011 578h1v3h-1zM1011 584h1v3h-1zM1011 590h1v3h-1zM1011 596h1v2h-1zM1011 602h1v3h-1zM1011 608h1v3h-1zM1011 614h1v3h-1zM1011 620h1v3h-1zM1011 626h1v3h-1zM1011 632h1v3h-1zM1011 638h1v3h-1zM1011 644h1v3h-1zM1011 650h1v3h-1zM1011 656h1v3h-1zM1011 662h1v3h-1zM1011 668h1v3h-1zM1011 674h1v3h-1zM1011 680h1v3h-1zM1011 686h1v3h-1zM1011 692h1v3h-1zM1059 3h1v2h-1zM1059 8h1v3h-1zM1059 14h1v3h-1zM1059 20h1v3h-1zM1059 26h1v3h-1zM1059 32h1v3h-1zM1059 38h1v3h-1zM1059 44h1v3h-1zM1059 50h1v3h-1zM1059 56h1v3h-1zM1059 62h1v3h-1zM1059 68h1v3h-1zM1059 74h1v3h-1zM1059 80h1v3h-1zM1059 86h1v3h-1zM1059 92h1v3h-1zM1059 98h1v3h-1zM1059 104h1v3h-1zM1059 110h1v3h-1zM1059 116h1v3h-1zM1059 122h1v3h-1zM1059 128h1v3h-1zM1059 134h1v3h-1zM1059 140h1v3h-1zM1059 146h1v3h-1zM1059 152h1v3h-1zM1059 158h1v3h-1zM1059 164h1v3h-1zM1059 170h1v3h-1zM1059 176h1v3h-1zM1059 182h1v3h-1zM1059 188h1v3h-1zM1059 194h1v3h-1zM1059 200h1v3h-1zM1059 206h1v3h-1zM1059 212h1v3h-1zM1059 218h1v3h-1zM1059 224h1v3h-1zM1059 230h1v3h-1zM1059 236h1v3h-1zM1059 242h1v3h-1zM1059 248h1v3h-1zM1059 254h1v3h-1zM1059 260h1v3h-1zM1059 266h1v3h-1zM1059 272h1v3h-1zM1059 278h1v3h-1zM1059 284h1v3h-1zM1059 290h1v3h-1zM1059 296h1v3h-1zM1059 302h1v3h-1zM1059 308h1v3h-1zM1059 314h1v3h-1zM1059 320h1v3h-1zM1059 326h1v3h-1zM1059 332h1v3h-1zM1059 338h1v3h-1zM1059 344h1v3h-1zM1059 350h1v3h-1zM1059 356h1v3h-1zM1059 362h1v3h-1zM1059 368h1v3h-1zM1059 374h1v3h-1zM1059 380h1v3h-1zM1059 386h1v3h-1zM1059 392h1v3h-1zM1059 398h1v3h-1zM1059 404h1v3h-1zM1059 410h1v3h-1zM1059 416h1v3h-1zM1059 422h1v3h-1zM1059 428h1v3h-1zM1059 434h1v3h-1zM1059 440h1v3h-1zM1059 446h1v3h-1zM1059 452h1v3h-1zM1059 458h1v3h-1zM1059 464h1v3h-1zM1059 470h1v3h-1zM1059 476h1v3h-1zM1059 482h1v3h-1zM1059 488h1v3h-1zM1059 494h1v3h-1zM1059 500h1v3h-1zM1059 506h1v3h-1zM1059 512h1v3h-1zM1059 518h1v3h-1zM1059 524h1v3h-1zM1059 530h1v3h-1zM1059 536h1v3h-1zM1059 542h1v3h-1zM1059 548h1v3h-1zM1059 554h1v3h-1zM1059 560h1v3h-1zM1059 566h1v3h-1zM1059 572h1v3h-1zM1059 578h1v3h-1zM1059 584h1v3h-1zM1059 590h1v3h-1zM1059 596h1v2h-1zM1059 602h1v3h-1zM1059 608h1v3h-1zM1059 614h1v3h-1zM1059 620h1v3h-1zM1059 626h1v3h-1zM1059 632h1v3h-1zM1059 638h1v3h-1zM1059 644h1v3h-1zM1059 650h1v3h-1zM1059 656h1v3h-1zM1059 662h1v3h-1zM1059 668h1v3h-1zM1059 674h1v3h-1zM1059 680h1v3h-1zM1059 686h1v3h-1zM1059 692h1v3h-1zM1107 3h1v2h-1zM1107 8h1v3h-1zM1107 14h1v3h-1zM1107 20h1v3h-1zM1107 26h1v3h-1zM1107 32h1v3h-1zM1107 38h1v3h-1zM1107 44h1v3h-1zM1107 50h1v3h-1zM1107 56h1v3h-1zM1107 62h1v3h-1zM1107 68h1v3h-1zM1107 74h1v3h-1zM1107 80h1v3h-1zM1107 86h1v3h-1zM1107 92h1v3h-1zM1107 98h1v3h-1zM1107 104h1v3h-1zM1107 110h1v3h-1zM1107 116h1v3h-1zM1107 122h1v3h-1zM1107 128h1v3h-1zM1107 134h1v3h-1zM1107 140h1v3h-1zM1107 146h1v3h-1zM1107 152h1v3h-1zM1107 158h1v3h-1zM1107 164h1v3h-1zM1107 170h1v3h-1zM1107 176h1v3h-1zM1107 182h1v3h-1zM1107 188h1v3h-1zM1107 194h1v3h-1zM1107 200h1v3h-1zM1107 206h1v3h-1zM1107 212h1v3h-1zM1107 218h1v3h-1zM1107 224h1v3h-1zM1107 230h1v3h-1zM1107 236h1v3h-1zM1107 242h1v3h-1zM1107 248h1v3h-1zM1107 254h1v3h-1zM1107 260h1v3h-1zM1107 266h1v3h-1zM1107 272h1v3h-1zM1107 278h1v3h-1zM1107 284h1v3h-1zM1107 290h1v3h-1zM1107 296h1v3h-1zM1107 302h1v3h-1zM1107 308h1v3h-1zM1107 314h1v3h-1zM1107 320h1v3h-1zM1107 326h1v3h-1zM1107 332h1v3h-1zM1107 338h1v3h-1zM1107 344h1v3h-1zM1107 350h1v3h-1zM1107 356h1v3h-1zM1107 362h1v3h-1zM1107 368h1v3h-1zM1107 374h1v3h-1zM1107 380h1v3h-1zM1107 386h1v3h-1zM1107 392h1v3h-1zM1107 398h1v3h-1zM1107 404h1v3h-1zM1107 410h1v3h-1zM1107 416h1v3h-1zM1107 422h1v3h-1zM1107 428h1v3h-1zM1107 434h1v3h-1zM1107 440h1v3h-1zM1107 446h1v3h-1zM1107 452h1v3h-1zM1107 458h1v3h-1zM1107 464h1v3h-1zM1107 470h1v3h-1zM1107 476h1v3h-1zM1107 482h1v3h-1zM1107 488h1v3h-1zM1107 494h1v3h-1zM1107 500h1v3h-1zM1107 506h1v3h-1zM1107 512h1v3h-1zM1107 518h1v3h-1zM1107 524h1v3h-1zM1107 530h1v3h-1zM1107 536h1v3h-1zM1107 542h1v3h-1zM1107 548h1v3h-1zM1107 554h1v3h-1zM1107 560h1v3h-1zM1107 566h1v3h-1zM1107 572h1v3h-1zM1107 578h1v3h-1zM1107 584h1v3h-1zM1107 590h1v3h-1zM1107 596h1v2h-1zM1107 602h1v3h-1zM1107 608h1v3h-1zM1107 614h1v3h-1zM1107 620h1v3h-1zM1107 626h1v3h-1zM1107 632h1v3h-1zM1107 638h1v3h-1zM1107 644h1v3h-1zM1107 650h1v3h-1zM1107 656h1v3h-1zM1107 662h1v3h-1zM1107 668h1v3h-1zM1107 674h1v3h-1zM1107 680h1v3h-1zM1107 686h1v3h-1zM1107 692h1v3h-1zM1155 3h1v2h-1zM1155 8h1v3h-1zM1155 14h1v3h-1zM1155 20h1v3h-1zM1155 26h1v3h-1zM1155 32h1v3h-1zM1155 38h1v3h-1zM1155 44h1v3h-1zM1155 50h1v3h-1zM1155 56h1v3h-1zM1155 62h1v3h-1zM1155 68h1v3h-1zM1155 74h1v3h-1zM1155 80h1v3h-1zM1155 86h1v3h-1zM1155 92h1v3h-1zM1155 98h1v3h-1zM1155 104h1v3h-1zM1155 110h1v3h-1zM1155 116h1v3h-1zM1155 122h1v3h-1zM1155 128h1v3h-1zM1155 134h1v3h-1zM1155 140h1v3h-1zM1155 146h1v3h-1zM1155 152h1v3h-1zM1155 158h1v3h-1zM1155 164h1v3h-1zM1155 170h1v3h-1zM1155 176h1v3h-1zM1155 182h1v3h-1zM1155 188h1v3h-1zM1155 194h1v3h-1zM1155 200h1v3h-1zM1155 206h1v3h-1zM1155 212h1v3h-1zM1155 218h1v3h-1zM1155 224h1v3h-1zM1155 230h1v3h-1zM1155 236h1v3h-1zM1155 242h1v3h-1zM1155 248h1v3h-1zM1155 254h1v3h-1zM1155 260h1v3h-1zM1155 266h1v3h-1zM1155 272h1v3h-1zM1155 278h1v3h-1zM1155 284h1v3h-1zM1155 290h1v3h-1zM1155 296h1v3h-1zM1155 302h1v3h-1zM1155 308h1v3h-1zM1155 314h1v3h-1zM1155 320h1v3h-1zM1155 326h1v3h-1zM1155 332h1v3h-1zM1155 338h1v3h-1zM1155 344h1v3h-1zM1155 350h1v3h-1zM1155 356h1v3h-1zM1155 362h1v3h-1zM1155 368h1v3h-1zM1155 374h1v3h-1zM1155 380h1v3h-1zM1155 386h1v3h-1zM1155 392h1v3h-1zM1155 398h1v3h-1zM1155 404h1v3h-1zM1155 410h1v3h-1zM1155 416h1v3h-1zM1155 422h1v3h-1zM1155 428h1v3h-1zM1155 434h1v3h-1zM1155 440h1v3h-1zM1155 446h1v3h-1zM1155 452h1v3h-1zM1155 458h1v3h-1zM1155 464h1v3h-1zM1155 470h1v3h-1zM1155 476h1v3h-1zM1155 482h1v3h-1zM1155 488h1v3h-1zM1155 494h1v3h-1zM1155 500h1v3h-1zM1155 506h1v3h-1zM1155 512h1v3h-1zM1155 518h1v3h-1zM1155 524h1v3h-1zM1155 530h1v3h-1zM1155 536h1v3h-1zM1155 542h1v3h-1zM1155 548h1v3h-1zM1155 554h1v3h-1zM1155 560h1v3h-1zM1155 566h1v3h-1zM1155 572h1v3h-1zM1155 578h1v3h-1zM1155 584h1v3h-1zM1155 590h1v3h-1zM1155 596h1v2h-1zM1155 602h1v3h-1zM1155 608h1v3h-1zM1155 614h1v3h-1zM1155 620h1v3h-1zM1155 626h1v3h-1zM1155 632h1v3h-1zM1155 638h1v3h-1zM1155 644h1v3h-1zM1155 650h1v3h-1zM1155 656h1v3h-1zM1155 662h1v3h-1zM1155 668h1v3h-1zM1155 674h1v3h-1zM1155 680h1v3h-1zM1155 686h1v3h-1zM1155 692h1v3h-1zM1203 3h1v2h-1zM1203 8h1v3h-1zM1203 14h1v3h-1zM1203 20h1v3h-1zM1203 26h1v3h-1zM1203 32h1v3h-1zM1203 38h1v3h-1zM1203 44h1v3h-1zM1203 50h1v3h-1zM1203 56h1v3h-1zM1203 62h1v3h-1zM1203 68h1v3h-1zM1203 74h1v3h-1zM1203 80h1v3h-1zM1203 86h1v3h-1zM1203 92h1v3h-1zM1203 98h1v3h-1zM1203 104h1v3h-1zM1203 110h1v3h-1zM1203 116h1v3h-1zM1203 122h1v3h-1zM1203 128h1v3h-1zM1203 134h1v3h-1zM1203 140h1v3h-1zM1203 146h1v3h-1zM1203 152h1v3h-1zM1203 158h1v3h-1zM1203 164h1v3h-1zM1203 170h1v3h-1zM1203 176h1v3h-1zM1203 182h1v3h-1zM1203 188h1v3h-1zM1203 194h1v3h-1zM1203 200h1v3h-1zM1203 206h1v3h-1zM1203 212h1v3h-1zM1203 218h1v3h-1zM1203 224h1v3h-1zM1203 230h1v3h-1zM1203 236h1v3h-1zM1203 242h1v3h-1zM1203 248h1v3h-1zM1203 254h1v3h-1zM1203 260h1v3h-1zM1203 266h1v3h-1zM1203 272h1v3h-1zM1203 278h1v3h-1zM1203 284h1v3h-1zM1203 290h1v3h-1zM1203 296h1v3h-1zM1203 302h1v3h-1zM1203 308h1v3h-1zM1203 314h1v3h-1zM1203 320h1v3h-1zM1203 326h1v3h-1zM1203 332h1v3h-1zM1203 338h1v3h-1zM1203 344h1v3h-1zM1203 350h1v3h-1zM1203 356h1v3h-1zM1203 362h1v3h-1zM1203 368h1v3h-1zM1203 374h1v3h-1zM1203 380h1v3h-1zM1203 386h1v3h-1zM1203 392h1v3h-1zM1203 398h1v3h-1zM1203 404h1v3h-1zM1203 410h1v3h-1zM1203 416h1v3h-1zM1203 422h1v3h-1zM1203 428h1v3h-1zM1203 434h1v3h-1zM1203 440h1v3h-1zM1203 446h1v3h-1zM1203 452h1v3h-1zM1203 458h1v3h-1zM1203 464h1v3h-1zM1203 470h1v3h-1zM1203 476h1v3h-1zM1203 482h1v3h-1zM1203 488h1v3h-1zM1203 494h1v3h-1zM1203 500h1v3h-1zM1203 506h1v3h-1zM1203 512h1v3h-1zM1203 518h1v3h-1zM1203 524h1v3h-1zM1203 530h1v3h-1zM1203 536h1v3h-1zM1203 542h1v3h-1zM1203 548h1v3h-1zM1203 554h1v3h-1zM1203 560h1v3h-1zM1203 566h1v3h-1zM1203 572h1v3h-1zM1203 578h1v3h-1zM1203 584h1v3h-1zM1203 590h1v3h-1zM1203 596h1v2h-1zM1203 602h1v3h-1zM1203 608h1v3h-1zM1203 614h1v3h-1zM1203 620h1v3h-1zM1203 626h1v3h-1zM1203 632h1v3h-1zM1203 638h1v3h-1zM1203 644h1v3h-1zM1203 650h1v3h-1zM1203 656h1v3h-1zM1203 662h1v3h-1zM1203 668h1v3h-1zM1203 674h1v3h-1zM1203 680h1v3h-1zM1203 686h1v3h-1zM1203 692h1v3h-1zM4 14h3v1h-3zM10 14h3v1h-3zM16 14h3v1h-3zM22 14h3v1h-3zM28 14h3v1h-3zM34 14h3v1h-3zM40 14h3v1h-3zM46 14h3v1h-3zM52 14h3v1h-3zM58 14h3v1h-3zM64 14h3v1h-3zM70 14h3v1h-3zM76 14h3v1h-3zM82 14h3v1h-3zM88 14h3v1h-3zM94 14h3v1h-3zM100 14h3v1h-3zM106 14h3v1h-3zM112 14h3v1h-3zM118 14h3v1h-3zM124 14h3v1h-3zM130 14h3v1h-3zM136 14h3v1h-3zM142 14h3v1h-3zM148 14h3v1h-3zM154 14h3v1h-3zM160 14h3v1h-3zM166 14h3v1h-3zM172 14h3v1h-3zM178 14h3v1h-3zM184 14h3v1h-3zM190 14h3v1h-3zM196 14h3v1h-3zM202 14h3v1h-3zM208 14h3v1h-3zM214 14h3v1h-3zM220 14h3v1h-3zM226 14h3v1h-3zM232 14h3v1h-3zM238 14h3v1h-3zM244 14h3v1h-3zM250 14h3v1h-3zM256 14h3v1h-3zM262 14h3v1h-3zM268 14h3v1h-3zM274 14h3v1h-3zM280 14h3v1h-3zM286 14h3v1h-3zM292 14h3v1h-3zM298 14h3v1h-3zM304 14h3v1h-3zM310 14h3v1h-3zM316 14h3v1h-3zM322 14h3v1h-3zM328 14h3v1h-3zM334 14h3v1h-3zM340 14h3v1h-3zM346 14h3v1h-3zM352 14h3v1h-3zM358 14h3v1h-3zM364 14h3v1h-3zM370 14h3v1h-3zM376 14h3v1h-3zM382 14h3v1h-3zM388 14h3v1h-3zM394 14h3v1h-3zM400 14h3v1h-3zM406 14h3v1h-3zM412 14h3v1h-3zM418 14h3v1h-3zM424 14h3v1h-3zM430 14h3v1h-3zM436 14h3v1h-3zM442 14h3v1h-3zM448 14h3v1h-3zM454 14h3v1h-3zM460 14h3v1h-3zM466 14h3v1h-3zM472 14h3v1h-3zM478 14h3v1h-3zM484 14h3v1h-3zM490 14h3v1h-3zM496 14h3v1h-3zM502 14h3v1h-3zM508 14h3v1h-3zM514 14h3v1h-3zM520 14h3v1h-3zM526 14h3v1h-3zM532 14h3v1h-3zM538 14h3v1h-3zM544 14h3v1h-3zM550 14h3v1h-3zM556 14h3v1h-3zM562 14h3v1h-3zM568 14h3v1h-3zM574 14h3v1h-3zM580 14h3v1h-3zM586 14h3v1h-3zM592 14h3v1h-3zM598 14h3v1h-3zM604 14h3v1h-3zM610 14h3v1h-3zM616 14h3v1h-3zM622 14h3v1h-3zM628 14h3v1h-3zM634 14h3v1h-3zM640 14h3v1h-3zM646 14h3v1h-3zM652 14h3v1h-3zM658 14h3v1h-3zM664 14h3v1h-3zM670 14h3v1h-3zM676 14h3v1h-3zM682 14h3v1h-3zM688 14h3v1h-3zM694 14h3v1h-3zM700 14h3v1h-3zM706 14h3v1h-3zM712 14h3v1h-3zM718 14h3v1h-3zM724 14h3v1h-3zM730 14h3v1h-3zM736 14h3v1h-3zM742 14h3v1h-3zM748 14h3v1h-3zM754 14h3v1h-3zM760 14h3v1h-3zM766 14h3v1h-3zM772 14h3v1h-3zM778 14h3v1h-3zM784 14h3v1h-3zM790 14h3v1h-3zM796 14h3v1h-3zM802 14h3v1h-3zM808 14h3v1h-3zM814 14h3v1h-3zM820 14h3v1h-3zM826 14h3v1h-3zM832 14h3v1h-3zM838 14h3v1h-3zM844 14h3v1h-3zM850 14h3v1h-3zM856 14h3v1h-3zM862 14h3v1h-3zM868 14h3v1h-3zM874 14h3v1h-3zM880 14h3v1h-3zM886 14h3v1h-3zM892 14h3v1h-3zM898 14h3v1h-3zM904 14h3v1h-3zM910 14h3v1h-3zM916 14h3v1h-3zM922 14h3v1h-3zM928 14h3v1h-3zM934 14h3v1h-3zM940 14h3v1h-3zM946 14h3v1h-3zM952 14h3v1h-3zM958 14h3v1h-3zM964 14h3v1h-3zM970 14h3v1h-3zM976 14h3v1h-3zM982 14h3v1h-3zM988 14h3v1h-3zM994 14h3v1h-3zM1000 14h3v1h-3zM1006 14h3v1h-3zM1012 14h3v1h-3zM1018 14h3v1h-3zM1024 14h3v1h-3zM1030 14h3v1h-3zM1036 14h3v1h-3zM1042 14h3v1h-3zM1048 14h3v1h-3zM1054 14h3v1h-3zM1060 14h3v1h-3zM1066 14h3v1h-3zM1072 14h3v1h-3zM1078 14h3v1h-3zM1084 14h3v1h-3zM1090 14h3v1h-3zM1096 14h3v1h-3zM1102 14h3v1h-3zM1108 14h3v1h-3zM1114 14h3v1h-3zM1120 14h3v1h-3zM1126 14h3v1h-3zM1132 14h3v1h-3zM1138 14h3v1h-3zM1144 14h3v1h-3zM1150 14h3v1h-3zM1156 14h3v1h-3zM1162 14h3v1h-3zM1168 14h3v1h-3zM1174 14h3v1h-3zM1180 14h3v1h-3zM1186 14h3v1h-3zM1192 14h3v1h-3zM1198 14h3v1h-3zM1204 14h3v1h-3zM1210 14h3v1h-3zM1216 14h3v1h-3zM4 65h3v1h-3zM10 65h3v1h-3zM16 65h3v1h-3zM22 65h3v1h-3zM28 65h3v1h-3zM34 65h3v1h-3zM40 65h3v1h-3zM46 65h3v1h-3zM52 65h3v1h-3zM58 65h3v1h-3zM64 65h3v1h-3zM70 65h3v1h-3zM76 65h3v1h-3zM82 65h3v1h-3zM88 65h3v1h-3zM94 65h3v1h-3zM100 65h3v1h-3zM106 65h3v1h-3zM112 65h3v1h-3zM118 65h3v1h-3zM124 65h3v1h-3zM130 65h3v1h-3zM136 65h3v1h-3zM142 65h3v1h-3zM148 65h3v1h-3zM154 65h3v1h-3zM160 65h3v1h-3zM166 65h3v1h-3zM172 65h3v1h-3zM178 65h3v1h-3zM184 65h3v1h-3zM190 65h3v1h-3zM196 65h3v1h-3zM202 65h3v1h-3zM208 65h3v1h-3zM214 65h3v1h-3zM220 65h3v1h-3zM226 65h3v1h-3zM232 65h3v1h-3zM238 65h3v1h-3zM244 65h3v1h-3zM250 65h3v1h-3zM256 65h3v1h-3zM262 65h3v1h-3zM268 65h3v1h-3zM274 65h3v1h-3zM280 65h3v1h-3zM286 65h3v1h-3zM292 65h3v1h-3zM298 65h3v1h-3zM304 65h3v1h-3zM310 65h3v1h-3zM316 65h3v1h-3zM322 65h3v1h-3zM328 65h3v1h-3zM334 65h3v1h-3zM340 65h3v1h-3zM346 65h3v1h-3zM352 65h3v1h-3zM358 65h3v1h-3zM364 65h3v1h-3zM370 65h3v1h-3zM376 65h3v1h-3zM382 65h3v1h-3zM388 65h3v1h-3zM394 65h3v1h-3zM400 65h3v1h-3zM406 65h3v1h-3zM412 65h3v1h-3zM418 65h3v1h-3zM424 65h3v1h-3zM430 65h3v1h-3zM436 65h3v1h-3zM442 65h3v1h-3zM448 65h3v1h-3zM454 65h3v1h-3zM460 65h3v1h-3zM466 65h3v1h-3zM472 65h3v1h-3zM478 65h3v1h-3zM484 65h3v1h-3zM490 65h3v1h-3zM496 65h3v1h-3zM502 65h3v1h-3zM508 65h3v1h-3zM514 65h3v1h-3zM520 65h3v1h-3zM526 65h3v1h-3zM532 65h3v1h-3zM538 65h3v1h-3zM544 65h3v1h-3zM550 65h3v1h-3zM556 65h3v1h-3zM562 65h3v1h-3zM568 65h3v1h-3zM574 65h3v1h-3zM580 65h3v1h-3zM586 65h3v1h-3zM592 65h3v1h-3zM598 65h3v1h-3zM604 65h3v1h-3zM610 65h3v1h-3zM616 65h3v1h-3zM622 65h3v1h-3zM628 65h3v1h-3zM634 65h3v1h-3zM640 65h3v1h-3zM646 65h3v1h-3zM652 65h3v1h-3zM658 65h3v1h-3zM664 65h3v1h-3zM670 65h3v1h-3zM676 65h3v1h-3zM682 65h3v1h-3zM688 65h3v1h-3zM694 65h3v1h-3zM700 65h3v1h-3zM706 65h3v1h-3zM712 65h3v1h-3zM718 65h3v1h-3zM724 65h3v1h-3zM730 65h3v1h-3zM736 65h3v1h-3zM742 65h3v1h-3zM748 65h3v1h-3zM754 65h3v1h-3zM760 65h3v1h-3zM766 65h3v1h-3zM772 65h3v1h-3zM778 65h3v1h-3zM784 65h3v1h-3zM790 65h3v1h-3zM796 65h3v1h-3zM802 65h3v1h-3zM808 65h3v1h-3zM814 65h3v1h-3zM820 65h3v1h-3zM826 65h3v1h-3zM832 65h3v1h-3zM838 65h3v1h-3zM844 65h3v1h-3zM850 65h3v1h-3zM856 65h3v1h-3zM862 65h3v1h-3zM868 65h3v1h-3zM874 65h3v1h-3zM880 65h3v1h-3zM886 65h3v1h-3zM892 65h3v1h-3zM898 65h3v1h-3zM904 65h3v1h-3zM910 65h3v1h-3zM916 65h3v1h-3zM922 65h3v1h-3zM928 65h3v1h-3zM934 65h3v1h-3zM940 65h3v1h-3zM946 65h3v1h-3zM952 65h3v1h-3zM958 65h3v1h-3zM964 65h3v1h-3zM970 65h3v1h-3zM976 65h3v1h-3zM982 65h3v1h-3zM988 65h3v1h-3zM994 65h3v1h-3zM1000 65h3v1h-3zM1006 65h3v1h-3zM1012 65h3v1h-3zM1018 65h3v1h-3zM1024 65h3v1h-3zM1030 65h3v1h-3zM1036 65h3v1h-3zM1042 65h3v1h-3zM1048 65h3v1h-3zM1054 65h3v1h-3zM1060 65h3v1h-3zM1066 65h3v1h-3zM1072 65h3v1h-3zM1078 65h3v1h-3zM1084 65h3v1h-3zM1090 65h3v1h-3zM1096 65h3v1h-3zM1102 65h3v1h-3zM1108 65h3v1h-3zM1114 65h3v1h-3zM1120 65h3v1h-3zM1126 65h3v1h-3zM1132 65h3v1h-3zM1138 65h3v1h-3zM1144 65h3v1h-3zM1150 65h3v1h-3zM1156 65h3v1h-3zM1162 65h3v1h-3zM1168 65h3v1h-3zM1174 65h3v1h-3zM1180 65h3v1h-3zM1186 65h3v1h-3zM1192 65h3v1h-3zM1198 65h3v1h-3zM1204 65h3v1h-3zM1210 65h3v1h-3zM1216 65h3v1h-3zM4 116h3v1h-3zM10 116h3v1h-3zM16 116h3v1h-3zM22 116h3v1h-3zM28 116h3v1h-3zM34 116h3v1h-3zM40 116h3v1h-3zM46 116h3v1h-3zM52 116h3v1h-3zM58 116h3v1h-3zM64 116h3v1h-3zM70 116h3v1h-3zM76 116h3v1h-3zM82 116h3v1h-3zM88 116h3v1h-3zM94 116h3v1h-3zM100 116h3v1h-3zM106 116h3v1h-3zM112 116h3v1h-3zM118 116h3v1h-3zM124 116h3v1h-3zM130 116h3v1h-3zM136 116h3v1h-3zM142 116h3v1h-3zM148 116h3v1h-3zM154 116h3v1h-3zM160 116h3v1h-3zM166 116h3v1h-3zM172 116h3v1h-3zM178 116h3v1h-3zM184 116h3v1h-3zM190 116h3v1h-3zM196 116h3v1h-3zM202 116h3v1h-3zM208 116h3v1h-3zM214 116h3v1h-3zM220 116h3v1h-3zM226 116h3v1h-3zM232 116h3v1h-3zM238 116h3v1h-3zM244 116h3v1h-3zM250 116h3v1h-3zM256 116h3v1h-3zM262 116h3v1h-3zM268 116h3v1h-3zM274 116h3v1h-3zM280 116h3v1h-3zM286 116h3v1h-3zM292 116h3v1h-3zM298 116h3v1h-3zM304 116h3v1h-3zM310 116h3v1h-3zM316 116h3v1h-3zM322 116h3v1h-3zM328 116h3v1h-3zM334 116h3v1h-3zM340 116h3v1h-3zM346 116h3v1h-3zM352 116h3v1h-3zM358 116h3v1h-3zM364 116h3v1h-3zM370 116h3v1h-3zM376 116h3v1h-3zM382 116h3v1h-3zM388 116h3v1h-3zM394 116h3v1h-3zM400 116h3v1h-3zM406 116h3v1h-3zM412 116h3v1h-3zM418 116h3v1h-3zM424 116h3v1h-3zM430 116h3v1h-3zM436 116h3v1h-3zM442 116h3v1h-3zM448 116h3v1h-3zM454 116h3v1h-3zM460 116h3v1h-3zM466 116h3v1h-3zM472 116h3v1h-3zM478 116h3v1h-3zM484 116h3v1h-3zM490 116h3v1h-3zM496 116h3v1h-3zM502 116h3v1h-3zM508 116h3v1h-3zM514 116h3v1h-3zM520 116h3v1h-3zM526 116h3v1h-3zM532 116h3v1h-3zM538 116h3v1h-3zM544 116h3v1h-3zM550 116h3v1h-3zM556 116h3v1h-3zM562 116h3v1h-3zM568 116h3v1h-3zM574 116h3v1h-3zM580 116h3v1h-3zM586 116h3v1h-3zM592 116h3v1h-3zM598 116h3v1h-3zM604 116h3v1h-3zM610 116h3v1h-3zM616 116h3v1h-3zM622 116h3v1h-3zM628 116h3v1h-3zM634 116h3v1h-3zM640 116h3v1h-3zM646 116h3v1h-3zM652 116h3v1h-3zM658 116h3v1h-3zM664 116h3v1h-3zM670 116h3v1h-3zM676 116h3v1h-3zM682 116h3v1h-3zM688 116h3v1h-3zM694 116h3v1h-3zM700 116h3v1h-3zM706 116h3v1h-3zM712 116h3v1h-3zM718 116h3v1h-3zM724 116h3v1h-3zM730 116h3v1h-3zM736 116h3v1h-3zM742 116h3v1h-3zM748 116h3v1h-3zM754 116h3v1h-3zM760 116h3v1h-3zM766 116h3v1h-3zM772 116h3v1h-3zM778 116h3v1h-3zM784 116h3v1h-3zM790 116h3v1h-3zM796 116h3v1h-3zM802 116h3v1h-3zM808 116h3v1h-3zM814 116h3v1h-3zM820 116h3v1h-3zM826 116h3v1h-3zM832 116h3v1h-3zM838 116h3v1h-3zM844 116h3v1h-3zM850 116h3v1h-3zM856 116h3v1h-3zM862 116h3v1h-3zM868 116h3v1h-3zM874 116h3v1h-3zM880 116h3v1h-3zM886 116h3v1h-3zM892 116h3v1h-3zM898 116h3v1h-3zM904 116h3v1h-3zM910 116h3v1h-3zM916 116h3v1h-3zM922 116h3v1h-3zM928 116h3v1h-3zM934 116h3v1h-3zM940 116h3v1h-3zM946 116h3v1h-3zM952 116h3v1h-3zM958 116h3v1h-3zM964 116h3v1h-3zM970 116h3v1h-3zM976 116h3v1h-3zM982 116h3v1h-3zM988 116h3v1h-3zM994 116h3v1h-3zM1000 116h3v1h-3zM1006 116h3v1h-3zM1012 116h3v1h-3zM1018 116h3v1h-3zM1024 116h3v1h-3zM1030 116h3v1h-3zM1036 116h3v1h-3zM1042 116h3v1h-3zM1048 116h3v1h-3zM1054 116h3v1h-3zM1060 116h3v1h-3zM1066 116h3v1h-3zM1072 116h3v1h-3zM1078 116h3v1h-3zM1084 116h3v1h-3zM1090 116h3v1h-3zM1096 116h3v1h-3zM1102 116h3v1h-3zM1108 116h3v1h-3zM1114 116h3v1h-3zM1120 116h3v1h-3zM1126 116h3v1h-3zM1132 116h3v1h-3zM1138 116h3v1h-3zM1144 116h3v1h-3zM1150 116h3v1h-3zM1156 116h3v1h-3zM1162 116h3v1h-3zM1168 116h3v1h-3zM1174 116h3v1h-3zM1180 116h3v1h-3zM1186 116h3v1h-3zM1192 116h3v1h-3zM1198 116h3v1h-3zM1204 116h3v1h-3zM1210 116h3v1h-3zM1216 116h3v1h-3zM4 167h3v1h-3zM10 167h3v1h-3zM16 167h3v1h-3zM22 167h3v1h-3zM28 167h3v1h-3zM34 167h3v1h-3zM40 167h3v1h-3zM46 167h3v1h-3zM52 167h3v1h-3zM58 167h3v1h-3zM64 167h3v1h-3zM70 167h3v1h-3zM76 167h3v1h-3zM82 167h3v1h-3zM88 167h3v1h-3zM94 167h3v1h-3zM100 167h3v1h-3zM106 167h3v1h-3zM112 167h3v1h-3zM118 167h3v1h-3zM124 167h3v1h-3zM130 167h3v1h-3zM136 167h3v1h-3zM142 167h3v1h-3zM148 167h3v1h-3zM154 167h3v1h-3zM160 167h3v1h-3zM166 167h3v1h-3zM172 167h3v1h-3zM178 167h3v1h-3zM184 167h3v1h-3zM190 167h3v1h-3zM196 167h3v1h-3zM202 167h3v1h-3zM208 167h3v1h-3zM214 167h3v1h-3zM220 167h3v1h-3zM226 167h3v1h-3zM232 167h3v1h-3zM238 167h3v1h-3zM244 167h3v1h-3zM250 167h3v1h-3zM256 167h3v1h-3zM262 167h3v1h-3zM268 167h3v1h-3zM274 167h3v1h-3zM280 167h3v1h-3zM286 167h3v1h-3zM292 167h3v1h-3zM298 167h3v1h-3zM304 167h3v1h-3zM310 167h3v1h-3zM316 167h3v1h-3zM322 167h3v1h-3zM328 167h3v1h-3zM334 167h3v1h-3zM340 167h3v1h-3zM346 167h3v1h-3zM352 167h3v1h-3zM358 167h3v1h-3zM364 167h3v1h-3zM370 167h3v1h-3zM376 167h3v1h-3zM382 167h3v1h-3zM388 167h3v1h-3zM394 167h3v1h-3zM400 167h3v1h-3zM406 167h3v1h-3zM412 167h3v1h-3zM418 167h3v1h-3zM424 167h3v1h-3zM430 167h3v1h-3zM436 167h3v1h-3zM442 167h3v1h-3zM448 167h3v1h-3zM454 167h3v1h-3zM460 167h3v1h-3zM466 167h3v1h-3zM472 167h3v1h-3zM478 167h3v1h-3zM484 167h3v1h-3zM490 167h3v1h-3zM496 167h3v1h-3zM502 167h3v1h-3zM508 167h3v1h-3zM514 167h3v1h-3zM520 167h3v1h-3zM526 167h3v1h-3zM532 167h3v1h-3zM538 167h3v1h-3zM544 167h3v1h-3zM550 167h3v1h-3zM556 167h3v1h-3zM562 167h3v1h-3zM568 167h3v1h-3zM574 167h3v1h-3zM580 167h3v1h-3zM586 167h3v1h-3zM592 167h3v1h-3zM598 167h3v1h-3zM604 167h3v1h-3zM610 167h3v1h-3zM616 167h3v1h-3zM622 167h3v1h-3zM628 167h3v1h-3zM634 167h3v1h-3zM640 167h3v1h-3zM646 167h3v1h-3zM652 167h3v1h-3zM658 167h3v1h-3zM664 167h3v1h-3zM670 167h3v1h-3zM676 167h3v1h-3zM682 167h3v1h-3zM688 167h3v1h-3zM694 167h3v1h-3zM700 167h3v1h-3zM706 167h3v1h-3zM712 167h3v1h-3zM718 167h3v1h-3zM724 167h3v1h-3zM730 167h3v1h-3zM736 167h3v1h-3zM742 167h3v1h-3zM748 167h3v1h-3zM754 167h3v1h-3zM760 167h3v1h-3zM766 167h3v1h-3zM772 167h3v1h-3zM778 167h3v1h-3zM784 167h3v1h-3zM790 167h3v1h-3zM796 167h3v1h-3zM802 167h3v1h-3zM808 167h3v1h-3zM814 167h3v1h-3zM820 167h3v1h-3zM826 167h3v1h-3zM832 167h3v1h-3zM838 167h3v1h-3zM844 167h3v1h-3zM850 167h3v1h-3zM856 167h3v1h-3zM862 167h3v1h-3zM868 167h3v1h-3zM874 167h3v1h-3zM880 167h3v1h-3zM886 167h3v1h-3zM892 167h3v1h-3zM898 167h3v1h-3zM904 167h3v1h-3zM910 167h3v1h-3zM916 167h3v1h-3zM922 167h3v1h-3zM928 167h3v1h-3zM934 167h3v1h-3zM940 167h3v1h-3zM946 167h3v1h-3zM952 167h3v1h-3zM958 167h3v1h-3zM964 167h3v1h-3zM970 167h3v1h-3zM976 167h3v1h-3zM982 167h3v1h-3zM988 167h3v1h-3zM994 167h3v1h-3zM1000 167h3v1h-3zM1006 167h3v1h-3zM1012 167h3v1h-3zM1018 167h3v1h-3zM1024 167h3v1h-3zM1030 167h3v1h-3zM1036 167h3v1h-3zM1042 167h3v1h-3zM1048 167h3v1h-3zM1054 167h3v1h-3zM1060 167h3v1h-3zM1066 167h3v1h-3zM1072 167h3v1h-3zM1078 167h3v1h-3zM1084 167h3v1h-3zM1090 167h3v1h-3zM1096 167h3v1h-3zM1102 167h3v1h-3zM1108 167h3v1h-3zM1114 167h3v1h-3zM1120 167h3v1h-3zM1126 167h3v1h-3zM1132 167h3v1h-3zM1138 167h3v1h-3zM1144 167h3v1h-3zM1150 167h3v1h-3zM1156 167h3v1h-3zM1162 167h3v1h-3zM1168 167h3v1h-3zM1174 167h3v1h-3zM1180 167h3v1h-3zM1186 167h3v1h-3zM1192 167h3v1h-3zM1198 167h3v1h-3zM1204 167h3v1h-3zM1210 167h3v1h-3zM1216 167h3v1h-3zM4 219h3v1h-3zM10 219h3v1h-3zM16 219h3v1h-3zM22 219h3v1h-3zM28 219h3v1h-3zM34 219h3v1h-3zM40 219h3v1h-3zM46 219h3v1h-3zM52 219h3v1h-3zM58 219h3v1h-3zM64 219h3v1h-3zM70 219h3v1h-3zM76 219h3v1h-3zM82 219h3v1h-3zM88 219h3v1h-3zM94 219h3v1h-3zM100 219h3v1h-3zM106 219h3v1h-3zM112 219h3v1h-3zM118 219h3v1h-3zM124 219h3v1h-3zM130 219h3v1h-3zM136 219h3v1h-3zM142 219h3v1h-3zM148 219h3v1h-3zM154 219h3v1h-3zM160 219h3v1h-3zM166 219h3v1h-3zM172 219h3v1h-3zM178 219h3v1h-3zM184 219h3v1h-3zM190 219h3v1h-3zM196 219h3v1h-3zM202 219h3v1h-3zM208 219h3v1h-3zM214 219h3v1h-3zM220 219h3v1h-3zM226 219h3v1h-3zM232 219h3v1h-3zM238 219h3v1h-3zM244 219h3v1h-3zM250 219h3v1h-3zM256 219h3v1h-3zM262 219h3v1h-3zM268 219h3v1h-3zM274 219h3v1h-3zM280 219h3v1h-3zM286 219h3v1h-3zM292 219h3v1h-3zM298 219h3v1h-3zM304 219h3v1h-3zM310 219h3v1h-3zM316 219h3v1h-3zM322 219h3v1h-3zM328 219h3v1h-3zM334 219h3v1h-3zM340 219h3v1h-3zM346 219h3v1h-3zM352 219h3v1h-3zM358 219h3v1h-3zM364 219h3v1h-3zM370 219h3v1h-3zM376 219h3v1h-3zM382 219h3v1h-3zM388 219h3v1h-3zM394 219h3v1h-3zM400 219h3v1h-3zM406 219h3v1h-3zM412 219h3v1h-3zM418 219h3v1h-3zM424 219h3v1h-3zM430 219h3v1h-3zM436 219h3v1h-3zM442 219h3v1h-3zM448 219h3v1h-3zM454 219h3v1h-3zM460 219h3v1h-3zM466 219h3v1h-3zM472 219h3v1h-3zM478 219h3v1h-3zM484 219h3v1h-3zM490 219h3v1h-3zM496 219h3v1h-3zM502 219h3v1h-3zM508 219h3v1h-3zM514 219h3v1h-3zM520 219h3v1h-3zM526 219h3v1h-3zM532 219h3v1h-3zM538 219h3v1h-3zM544 219h3v1h-3zM550 219h3v1h-3zM556 219h3v1h-3zM562 219h3v1h-3zM568 219h3v1h-3zM574 219h3v1h-3zM580 219h3v1h-3zM586 219h3v1h-3zM592 219h3v1h-3zM598 219h3v1h-3zM604 219h3v1h-3zM610 219h3v1h-3zM616 219h3v1h-3zM622 219h3v1h-3zM628 219h3v1h-3zM634 219h3v1h-3zM640 219h3v1h-3zM646 219h3v1h-3zM652 219h3v1h-3zM658 219h3v1h-3zM664 219h3v1h-3zM670 219h3v1h-3zM676 219h3v1h-3zM682 219h3v1h-3zM688 219h3v1h-3zM694 219h3v1h-3zM700 219h3v1h-3zM706 219h3v1h-3zM712 219h3v1h-3zM718 219h3v1h-3zM724 219h3v1h-3zM730 219h3v1h-3zM736 219h3v1h-3zM742 219h3v1h-3zM748 219h3v1h-3zM754 219h3v1h-3zM760 219h3v1h-3zM766 219h3v1h-3zM772 219h3v1h-3zM778 219h3v1h-3zM784 219h3v1h-3zM790 219h3v1h-3zM796 219h3v1h-3zM802 219h3v1h-3zM808 219h3v1h-3zM814 219h3v1h-3zM820 219h3v1h-3zM826 219h3v1h-3zM832 219h3v1h-3zM838 219h3v1h-3zM844 219h3v1h-3zM850 219h3v1h-3zM856 219h3v1h-3zM862 219h3v1h-3zM868 219h3v1h-3zM874 219h3v1h-3zM880 219h3v1h-3zM886 219h3v1h-3zM892 219h3v1h-3zM898 219h3v1h-3zM904 219h3v1h-3zM910 219h3v1h-3zM916 219h3v1h-3zM922 219h3v1h-3zM928 219h3v1h-3zM934 219h3v1h-3zM940 219h3v1h-3zM946 219h3v1h-3zM952 219h3v1h-3zM958 219h3v1h-3zM964 219h3v1h-3zM970 219h3v1h-3zM976 219h3v1h-3zM982 219h3v1h-3zM988 219h3v1h-3zM994 219h3v1h-3zM1000 219h3v1h-3zM1006 219h3v1h-3zM1012 219h3v1h-3zM1018 219h3v1h-3zM1024 219h3v1h-3zM1030 219h3v1h-3zM1036 219h3v1h-3zM1042 219h3v1h-3zM1048 219h3v1h-3zM1054 219h3v1h-3zM1060 219h3v1h-3zM1066 219h3v1h-3zM1072 219h3v1h-3zM1078 219h3v1h-3zM1084 219h3v1h-3zM1090 219h3v1h-3zM1096 219h3v1h-3zM1102 219h3v1h-3zM1108 219h3v1h-3zM1114 219h3v1h-3zM1120 219h3v1h-3zM1126 219h3v1h-3zM1132 219h3v1h-3zM1138 219h3v1h-3zM1144 219h3v1h-3zM1150 219h3v1h-3zM1156 219h3v1h-3zM1162 219h3v1h-3zM1168 219h3v1h-3zM1174 219h3v1h-3zM1180 219h3v1h-3zM1186 219h3v1h-3zM1192 219h3v1h-3zM1198 219h3v1h-3zM1204 219h3v1h-3zM1210 219h3v1h-3zM1216 219h3v1h-3zM4 270h3v1h-3zM10 270h3v1h-3zM16 270h3v1h-3zM22 270h3v1h-3zM28 270h3v1h-3zM34 270h3v1h-3zM40 270h3v1h-3zM46 270h3v1h-3zM52 270h3v1h-3zM58 270h3v1h-3zM64 270h3v1h-3zM70 270h3v1h-3zM76 270h3v1h-3zM82 270h3v1h-3zM88 270h3v1h-3zM94 270h3v1h-3zM100 270h3v1h-3zM106 270h3v1h-3zM112 270h3v1h-3zM118 270h3v1h-3zM124 270h3v1h-3zM130 270h3v1h-3zM136 270h3v1h-3zM142 270h3v1h-3zM148 270h3v1h-3zM154 270h3v1h-3zM160 270h3v1h-3zM166 270h3v1h-3zM172 270h3v1h-3zM178 270h3v1h-3zM184 270h3v1h-3zM190 270h3v1h-3zM196 270h3v1h-3zM202 270h3v1h-3zM208 270h3v1h-3zM214 270h3v1h-3zM220 270h3v1h-3zM226 270h3v1h-3zM232 270h3v1h-3zM238 270h3v1h-3zM244 270h3v1h-3zM250 270h3v1h-3zM256 270h3v1h-3zM262 270h3v1h-3zM268 270h3v1h-3zM274 270h3v1h-3zM280 270h3v1h-3zM286 270h3v1h-3zM292 270h3v1h-3zM298 270h3v1h-3zM304 270h3v1h-3zM310 270h3v1h-3zM316 270h3v1h-3zM322 270h3v1h-3zM328 270h3v1h-3zM334 270h3v1h-3zM340 270h3v1h-3zM346 270h3v1h-3zM352 270h3v1h-3zM358 270h3v1h-3zM364 270h3v1h-3zM370 270h3v1h-3zM376 270h3v1h-3zM382 270h3v1h-3zM388 270h3v1h-3zM394 270h3v1h-3zM400 270h3v1h-3zM406 270h3v1h-3zM412 270h3v1h-3zM418 270h3v1h-3zM424 270h3v1h-3zM430 270h3v1h-3zM436 270h3v1h-3zM442 270h3v1h-3zM448 270h3v1h-3zM454 270h3v1h-3zM460 270h3v1h-3zM466 270h3v1h-3zM472 270h3v1h-3zM478 270h3v1h-3zM484 270h3v1h-3zM490 270h3v1h-3zM496 270h3v1h-3zM502 270h3v1h-3zM508 270h3v1h-3zM514 270h3v1h-3zM520 270h3v1h-3zM526 270h3v1h-3zM532 270h3v1h-3zM538 270h3v1h-3zM544 270h3v1h-3zM550 270h3v1h-3zM556 270h3v1h-3zM562 270h3v1h-3zM568 270h3v1h-3zM574 270h3v1h-3zM580 270h3v1h-3zM586 270h3v1h-3zM592 270h3v1h-3zM598 270h3v1h-3zM604 270h3v1h-3zM610 270h3v1h-3zM616 270h3v1h-3zM622 270h3v1h-3zM628 270h3v1h-3zM634 270h3v1h-3zM640 270h3v1h-3zM646 270h3v1h-3zM652 270h3v1h-3zM658 270h3v1h-3zM664 270h3v1h-3zM670 270h3v1h-3zM676 270h3v1h-3zM682 270h3v1h-3zM688 270h3v1h-3zM694 270h3v1h-3zM700 270h3v1h-3zM706 270h3v1h-3zM712 270h3v1h-3zM718 270h3v1h-3zM724 270h3v1h-3zM730 270h3v1h-3zM736 270h3v1h-3zM742 270h3v1h-3zM748 270h3v1h-3zM754 270h3v1h-3zM760 270h3v1h-3zM766 270h3v1h-3zM772 270h3v1h-3zM778 270h3v1h-3zM784 270h3v1h-3zM790 270h3v1h-3zM796 270h3v1h-3zM802 270h3v1h-3zM808 270h3v1h-3zM814 270h3v1h-3zM820 270h3v1h-3zM826 270h3v1h-3zM832 270h3v1h-3zM838 270h3v1h-3zM844 270h3v1h-3zM850 270h3v1h-3zM856 270h3v1h-3zM862 270h3v1h-3zM868 270h3v1h-3zM874 270h3v1h-3zM880 270h3v1h-3zM886 270h3v1h-3zM892 270h3v1h-3zM898 270h3v1h-3zM904 270h3v1h-3zM910 270h3v1h-3zM916 270h3v1h-3zM922 270h3v1h-3zM928 270h3v1h-3zM934 270h3v1h-3zM940 270h3v1h-3zM946 270h3v1h-3zM952 270h3v1h-3zM958 270h3v1h-3zM964 270h3v1h-3zM970 270h3v1h-3zM976 270h3v1h-3zM982 270h3v1h-3zM988 270h3v1h-3zM994 270h3v1h-3zM1000 270h3v1h-3zM1006 270h3v1h-3zM1012 270h3v1h-3zM1018 270h3v1h-3zM1024 270h3v1h-3zM1030 270h3v1h-3zM1036 270h3v1h-3zM1042 270h3v1h-3zM1048 270h3v1h-3zM1054 270h3v1h-3zM1060 270h3v1h-3zM1066 270h3v1h-3zM1072 270h3v1h-3zM1078 270h3v1h-3zM1084 270h3v1h-3zM1090 270h3v1h-3zM1096 270h3v1h-3zM1102 270h3v1h-3zM1108 270h3v1h-3zM1114 270h3v1h-3zM1120 270h3v1h-3zM1126 270h3v1h-3zM1132 270h3v1h-3zM1138 270h3v1h-3zM1144 270h3v1h-3zM1150 270h3v1h-3zM1156 270h3v1h-3zM1162 270h3v1h-3zM1168 270h3v1h-3zM1174 270h3v1h-3zM1180 270h3v1h-3zM1186 270h3v1h-3zM1192 270h3v1h-3zM1198 270h3v1h-3zM1204 270h3v1h-3zM1210 270h3v1h-3zM1216 270h3v1h-3zM4 321h3v1h-3zM10 321h3v1h-3zM16 321h3v1h-3zM22 321h3v1h-3zM28 321h3v1h-3zM34 321h3v1h-3zM40 321h3v1h-3zM46 321h3v1h-3zM52 321h3v1h-3zM58 321h3v1h-3zM64 321h3v1h-3zM70 321h3v1h-3zM76 321h3v1h-3zM82 321h3v1h-3zM88 321h3v1h-3zM94 321h3v1h-3zM100 321h3v1h-3zM106 321h3v1h-3zM112 321h3v1h-3zM118 321h3v1h-3zM124 321h3v1h-3zM130 321h3v1h-3zM136 321h3v1h-3zM142 321h3v1h-3zM148 321h3v1h-3zM154 321h3v1h-3zM160 321h3v1h-3zM166 321h3v1h-3zM172 321h3v1h-3zM178 321h3v1h-3zM184 321h3v1h-3zM190 321h3v1h-3zM196 321h3v1h-3zM202 321h3v1h-3zM208 321h3v1h-3zM214 321h3v1h-3zM220 321h3v1h-3zM226 321h3v1h-3zM232 321h3v1h-3zM238 321h3v1h-3zM244 321h3v1h-3zM250 321h3v1h-3zM256 321h3v1h-3zM262 321h3v1h-3zM268 321h3v1h-3zM274 321h3v1h-3zM280 321h3v1h-3zM286 321h3v1h-3zM292 321h3v1h-3zM298 321h3v1h-3zM304 321h3v1h-3zM310 321h3v1h-3zM316 321h3v1h-3zM322 321h3v1h-3zM328 321h3v1h-3zM334 321h3v1h-3zM340 321h3v1h-3zM346 321h3v1h-3zM352 321h3v1h-3zM358 321h3v1h-3zM364 321h3v1h-3zM370 321h3v1h-3zM376 321h3v1h-3zM382 321h3v1h-3zM388 321h3v1h-3zM394 321h3v1h-3zM400 321h3v1h-3zM406 321h3v1h-3zM412 321h3v1h-3zM418 321h3v1h-3zM424 321h3v1h-3zM430 321h3v1h-3zM436 321h3v1h-3zM442 321h3v1h-3zM448 321h3v1h-3zM454 321h3v1h-3zM460 321h3v1h-3zM466 321h3v1h-3zM472 321h3v1h-3zM478 321h3v1h-3zM484 321h3v1h-3zM490 321h3v1h-3zM496 321h3v1h-3zM502 321h3v1h-3zM508 321h3v1h-3zM514 321h3v1h-3zM520 321h3v1h-3zM526 321h3v1h-3zM532 321h3v1h-3zM538 321h3v1h-3zM544 321h3v1h-3zM550 321h3v1h-3zM556 321h3v1h-3zM562 321h3v1h-3zM568 321h3v1h-3zM574 321h3v1h-3zM580 321h3v1h-3zM586 321h3v1h-3zM592 321h3v1h-3zM598 321h3v1h-3zM604 321h3v1h-3zM610 321h3v1h-3zM616 321h3v1h-3zM622 321h3v1h-3zM628 321h3v1h-3zM634 321h3v1h-3zM640 321h3v1h-3zM646 321h3v1h-3zM652 321h3v1h-3zM658 321h3v1h-3zM664 321h3v1h-3zM670 321h3v1h-3zM676 321h3v1h-3zM682 321h3v1h-3zM688 321h3v1h-3zM694 321h3v1h-3zM700 321h3v1h-3zM706 321h3v1h-3zM712 321h3v1h-3zM718 321h3v1h-3zM724 321h3v1h-3zM730 321h3v1h-3zM736 321h3v1h-3zM742 321h3v1h-3zM748 321h3v1h-3zM754 321h3v1h-3zM760 321h3v1h-3zM766 321h3v1h-3zM772 321h3v1h-3zM778 321h3v1h-3zM784 321h3v1h-3zM790 321h3v1h-3zM796 321h3v1h-3zM802 321h3v1h-3zM808 321h3v1h-3zM814 321h3v1h-3zM820 321h3v1h-3zM826 321h3v1h-3zM832 321h3v1h-3zM838 321h3v1h-3zM844 321h3v1h-3zM850 321h3v1h-3zM856 321h3v1h-3zM862 321h3v1h-3zM868 321h3v1h-3zM874 321h3v1h-3zM880 321h3v1h-3zM886 321h3v1h-3zM892 321h3v1h-3zM898 321h3v1h-3zM904 321h3v1h-3zM910 321h3v1h-3zM916 321h3v1h-3zM922 321h3v1h-3zM928 321h3v1h-3zM934 321h3v1h-3zM940 321h3v1h-3zM946 321h3v1h-3zM952 321h3v1h-3zM958 321h3v1h-3zM964 321h3v1h-3zM970 321h3v1h-3zM976 321h3v1h-3zM982 321h3v1h-3zM988 321h3v1h-3zM994 321h3v1h-3zM1000 321h3v1h-3zM1006 321h3v1h-3zM1012 321h3v1h-3zM1018 321h3v1h-3zM1024 321h3v1h-3zM1030 321h3v1h-3zM1036 321h3v1h-3zM1042 321h3v1h-3zM1048 321h3v1h-3zM1054 321h3v1h-3zM1060 321h3v1h-3zM1066 321h3v1h-3zM1072 321h3v1h-3zM1078 321h3v1h-3zM1084 321h3v1h-3zM1090 321h3v1h-3zM1096 321h3v1h-3zM1102 321h3v1h-3zM1108 321h3v1h-3zM1114 321h3v1h-3zM1120 321h3v1h-3zM1126 321h3v1h-3zM1132 321h3v1h-3zM1138 321h3v1h-3zM1144 321h3v1h-3zM1150 321h3v1h-3zM1156 321h3v1h-3zM1162 321h3v1h-3zM1168 321h3v1h-3zM1174 321h3v1h-3zM1180 321h3v1h-3zM1186 321h3v1h-3zM1192 321h3v1h-3zM1198 321h3v1h-3zM1204 321h3v1h-3zM1210 321h3v1h-3zM1216 321h3v1h-3zM4 372h3v1h-3zM10 372h3v1h-3zM16 372h3v1h-3zM22 372h3v1h-3zM28 372h3v1h-3zM34 372h3v1h-3zM40 372h3v1h-3zM46 372h3v1h-3zM52 372h3v1h-3zM58 372h3v1h-3zM64 372h3v1h-3zM70 372h3v1h-3zM76 372h3v1h-3zM82 372h3v1h-3zM88 372h3v1h-3zM94 372h3v1h-3zM100 372h3v1h-3zM106 372h3v1h-3zM112 372h3v1h-3zM118 372h3v1h-3zM124 372h3v1h-3zM130 372h3v1h-3zM136 372h3v1h-3zM142 372h3v1h-3zM148 372h3v1h-3zM154 372h3v1h-3zM160 372h3v1h-3zM166 372h3v1h-3zM172 372h3v1h-3zM178 372h3v1h-3zM184 372h3v1h-3zM190 372h3v1h-3zM196 372h3v1h-3zM202 372h3v1h-3zM208 372h3v1h-3zM214 372h3v1h-3zM220 372h3v1h-3zM226 372h3v1h-3zM232 372h3v1h-3zM238 372h3v1h-3zM244 372h3v1h-3zM250 372h3v1h-3zM256 372h3v1h-3zM262 372h3v1h-3zM268 372h3v1h-3zM274 372h3v1h-3zM280 372h3v1h-3zM286 372h3v1h-3zM292 372h3v1h-3zM298 372h3v1h-3zM304 372h3v1h-3zM310 372h3v1h-3zM316 372h3v1h-3zM322 372h3v1h-3zM328 372h3v1h-3zM334 372h3v1h-3zM340 372h3v1h-3zM346 372h3v1h-3zM352 372h3v1h-3zM358 372h3v1h-3zM364 372h3v1h-3zM370 372h3v1h-3zM376 372h3v1h-3zM382 372h3v1h-3zM388 372h3v1h-3zM394 372h3v1h-3zM400 372h3v1h-3zM406 372h3v1h-3zM412 372h3v1h-3zM418 372h3v1h-3zM424 372h3v1h-3zM430 372h3v1h-3zM436 372h3v1h-3zM442 372h3v1h-3zM448 372h3v1h-3zM454 372h3v1h-3zM460 372h3v1h-3zM466 372h3v1h-3zM472 372h3v1h-3zM478 372h3v1h-3zM484 372h3v1h-3zM490 372h3v1h-3zM496 372h3v1h-3zM502 372h3v1h-3zM508 372h3v1h-3zM514 372h3v1h-3zM520 372h3v1h-3zM526 372h3v1h-3zM532 372h3v1h-3zM538 372h3v1h-3zM544 372h3v1h-3zM550 372h3v1h-3zM556 372h3v1h-3zM562 372h3v1h-3zM568 372h3v1h-3zM574 372h3v1h-3zM580 372h3v1h-3zM586 372h3v1h-3zM592 372h3v1h-3zM598 372h3v1h-3zM604 372h3v1h-3zM610 372h3v1h-3zM616 372h3v1h-3zM622 372h3v1h-3zM628 372h3v1h-3zM634 372h3v1h-3zM640 372h3v1h-3zM646 372h3v1h-3zM652 372h3v1h-3zM658 372h3v1h-3zM664 372h3v1h-3zM670 372h3v1h-3zM676 372h3v1h-3zM682 372h3v1h-3zM688 372h3v1h-3zM694 372h3v1h-3zM700 372h3v1h-3zM706 372h3v1h-3zM712 372h3v1h-3zM718 372h3v1h-3zM724 372h3v1h-3zM730 372h3v1h-3zM736 372h3v1h-3zM742 372h3v1h-3zM748 372h3v1h-3zM754 372h3v1h-3zM760 372h3v1h-3zM766 372h3v1h-3zM772 372h3v1h-3zM778 372h3v1h-3zM784 372h3v1h-3zM790 372h3v1h-3zM796 372h3v1h-3zM802 372h3v1h-3zM808 372h3v1h-3zM814 372h3v1h-3zM820 372h3v1h-3zM826 372h3v1h-3zM832 372h3v1h-3zM838 372h3v1h-3zM844 372h3v1h-3zM850 372h3v1h-3zM856 372h3v1h-3zM862 372h3v1h-3zM868 372h3v1h-3zM874 372h3v1h-3zM880 372h3v1h-3zM886 372h3v1h-3zM892 372h3v1h-3zM898 372h3v1h-3zM904 372h3v1h-3zM910 372h3v1h-3zM916 372h3v1h-3zM922 372h3v1h-3zM928 372h3v1h-3zM934 372h3v1h-3zM940 372h3v1h-3zM946 372h3v1h-3zM952 372h3v1h-3zM958 372h3v1h-3zM964 372h3v1h-3zM970 372h3v1h-3zM976 372h3v1h-3zM982 372h3v1h-3zM988 372h3v1h-3zM994 372h3v1h-3zM1000 372h3v1h-3zM1006 372h3v1h-3zM1012 372h3v1h-3zM1018 372h3v1h-3zM1024 372h3v1h-3zM1030 372h3v1h-3zM1036 372h3v1h-3zM1042 372h3v1h-3zM1048 372h3v1h-3zM1054 372h3v1h-3zM1060 372h3v1h-3zM1066 372h3v1h-3zM1072 372h3v1h-3zM1078 372h3v1h-3zM1084 372h3v1h-3zM1090 372h3v1h-3zM1096 372h3v1h-3zM1102 372h3v1h-3zM1108 372h3v1h-3zM1114 372h3v1h-3zM1120 372h3v1h-3zM1126 372h3v1h-3zM1132 372h3v1h-3zM1138 372h3v1h-3zM1144 372h3v1h-3zM1150 372h3v1h-3zM1156 372h3v1h-3zM1162 372h3v1h-3zM1168 372h3v1h-3zM1174 372h3v1h-3zM1180 372h3v1h-3zM1186 372h3v1h-3zM1192 372h3v1h-3zM1198 372h3v1h-3zM1204 372h3v1h-3zM1210 372h3v1h-3zM1216 372h3v1h-3zM4 423h3v1h-3zM10 423h3v1h-3zM16 423h3v1h-3zM22 423h3v1h-3zM28 423h3v1h-3zM34 423h3v1h-3zM40 423h3v1h-3zM46 423h3v1h-3zM52 423h3v1h-3zM58 423h3v1h-3zM64 423h3v1h-3zM70 423h3v1h-3zM76 423h3v1h-3zM82 423h3v1h-3zM88 423h3v1h-3zM94 423h3v1h-3zM100 423h3v1h-3zM106 423h3v1h-3zM112 423h3v1h-3zM118 423h3v1h-3zM124 423h3v1h-3zM130 423h3v1h-3zM136 423h3v1h-3zM142 423h3v1h-3zM148 423h3v1h-3zM154 423h3v1h-3zM160 423h3v1h-3zM166 423h3v1h-3zM172 423h3v1h-3zM178 423h3v1h-3zM184 423h3v1h-3zM190 423h3v1h-3zM196 423h3v1h-3zM202 423h3v1h-3zM208 423h3v1h-3zM214 423h3v1h-3zM220 423h3v1h-3zM226 423h3v1h-3zM232 423h3v1h-3zM238 423h3v1h-3zM244 423h3v1h-3zM250 423h3v1h-3zM256 423h3v1h-3zM262 423h3v1h-3zM268 423h3v1h-3zM274 423h3v1h-3zM280 423h3v1h-3zM286 423h3v1h-3zM292 423h3v1h-3zM298 423h3v1h-3zM304 423h3v1h-3zM310 423h3v1h-3zM316 423h3v1h-3zM322 423h3v1h-3zM328 423h3v1h-3zM334 423h3v1h-3zM340 423h3v1h-3zM346 423h3v1h-3zM352 423h3v1h-3zM358 423h3v1h-3zM364 423h3v1h-3zM370 423h3v1h-3zM376 423h3v1h-3zM382 423h3v1h-3zM388 423h3v1h-3zM394 423h3v1h-3zM400 423h3v1h-3zM406 423h3v1h-3zM412 423h3v1h-3zM418 423h3v1h-3zM424 423h3v1h-3zM430 423h3v1h-3zM436 423h3v1h-3zM442 423h3v1h-3zM448 423h3v1h-3zM454 423h3v1h-3zM460 423h3v1h-3zM466 423h3v1h-3zM472 423h3v1h-3zM478 423h3v1h-3zM484 423h3v1h-3zM490 423h3v1h-3zM496 423h3v1h-3zM502 423h3v1h-3zM508 423h3v1h-3zM514 423h3v1h-3zM520 423h3v1h-3zM526 423h3v1h-3zM532 423h3v1h-3zM538 423h3v1h-3zM544 423h3v1h-3zM550 423h3v1h-3zM556 423h3v1h-3zM562 423h3v1h-3zM568 423h3v1h-3zM574 423h3v1h-3zM580 423h3v1h-3zM586 423h3v1h-3zM592 423h3v1h-3zM598 423h3v1h-3zM604 423h3v1h-3zM610 423h3v1h-3zM616 423h3v1h-3zM622 423h3v1h-3zM628 423h3v1h-3zM634 423h3v1h-3zM640 423h3v1h-3zM646 423h3v1h-3zM652 423h3v1h-3zM658 423h3v1h-3zM664 423h3v1h-3zM670 423h3v1h-3zM676 423h3v1h-3zM682 423h3v1h-3zM688 423h3v1h-3zM694 423h3v1h-3zM700 423h3v1h-3zM706 423h3v1h-3zM712 423h3v1h-3zM718 423h3v1h-3zM724 423h3v1h-3zM730 423h3v1h-3zM736 423h3v1h-3zM742 423h3v1h-3zM748 423h3v1h-3zM754 423h3v1h-3zM760 423h3v1h-3zM766 423h3v1h-3zM772 423h3v1h-3zM778 423h3v1h-3zM784 423h3v1h-3zM790 423h3v1h-3zM796 423h3v1h-3zM802 423h3v1h-3zM808 423h3v1h-3zM814 423h3v1h-3zM820 423h3v1h-3zM826 423h3v1h-3zM832 423h3v1h-3zM838 423h3v1h-3zM844 423h3v1h-3zM850 423h3v1h-3zM856 423h3v1h-3zM862 423h3v1h-3zM868 423h3v1h-3zM874 423h3v1h-3zM880 423h3v1h-3zM886 423h3v1h-3zM892 423h3v1h-3zM898 423h3v1h-3zM904 423h3v1h-3zM910 423h3v1h-3zM916 423h3v1h-3zM922 423h3v1h-3zM928 423h3v1h-3zM934 423h3v1h-3zM940 423h3v1h-3zM946 423h3v1h-3zM952 423h3v1h-3zM958 423h3v1h-3zM964 423h3v1h-3zM970 423h3v1h-3zM976 423h3v1h-3zM982 423h3v1h-3zM988 423h3v1h-3zM994 423h3v1h-3zM1000 423h3v1h-3zM1006 423h3v1h-3zM1012 423h3v1h-3zM1018 423h3v1h-3zM1024 423h3v1h-3zM1030 423h3v1h-3zM1036 423h3v1h-3zM1042 423h3v1h-3zM1048 423h3v1h-3zM1054 423h3v1h-3zM1060 423h3v1h-3zM1066 423h3v1h-3zM1072 423h3v1h-3zM1078 423h3v1h-3zM1084 423h3v1h-3zM1090 423h3v1h-3zM1096 423h3v1h-3zM1102 423h3v1h-3zM1108 423h3v1h-3zM1114 423h3v1h-3zM1120 423h3v1h-3zM1126 423h3v1h-3zM1132 423h3v1h-3zM1138 423h3v1h-3zM1144 423h3v1h-3zM1150 423h3v1h-3zM1156 423h3v1h-3zM1162 423h3v1h-3zM1168 423h3v1h-3zM1174 423h3v1h-3zM1180 423h3v1h-3zM1186 423h3v1h-3zM1192 423h3v1h-3zM1198 423h3v1h-3zM1204 423h3v1h-3zM1210 423h3v1h-3zM1216 423h3v1h-3zM4 475h3v1h-3zM10 475h3v1h-3zM16 475h3v1h-3zM22 475h3v1h-3zM28 475h3v1h-3zM34 475h3v1h-3zM40 475h3v1h-3zM46 475h3v1h-3zM52 475h3v1h-3zM58 475h3v1h-3zM64 475h3v1h-3zM70 475h3v1h-3zM76 475h3v1h-3zM82 475h3v1h-3zM88 475h3v1h-3zM94 475h3v1h-3zM100 475h3v1h-3zM106 475h3v1h-3zM112 475h3v1h-3zM118 475h3v1h-3zM124 475h3v1h-3zM130 475h3v1h-3zM136 475h3v1h-3zM142 475h3v1h-3zM148 475h3v1h-3zM154 475h3v1h-3zM160 475h3v1h-3zM166 475h3v1h-3zM172 475h3v1h-3zM178 475h3v1h-3zM184 475h3v1h-3zM190 475h3v1h-3zM196 475h3v1h-3zM202 475h3v1h-3zM208 475h3v1h-3zM214 475h3v1h-3zM220 475h3v1h-3zM226 475h3v1h-3zM232 475h3v1h-3zM238 475h3v1h-3zM244 475h3v1h-3zM250 475h3v1h-3zM256 475h3v1h-3zM262 475h3v1h-3zM268 475h3v1h-3zM274 475h3v1h-3zM280 475h3v1h-3zM286 475h3v1h-3zM292 475h3v1h-3zM298 475h3v1h-3zM304 475h3v1h-3zM310 475h3v1h-3zM316 475h3v1h-3zM322 475h3v1h-3zM328 475h3v1h-3zM334 475h3v1h-3zM340 475h3v1h-3zM346 475h3v1h-3zM352 475h3v1h-3zM358 475h3v1h-3zM364 475h3v1h-3zM370 475h3v1h-3zM376 475h3v1h-3zM382 475h3v1h-3zM388 475h3v1h-3zM394 475h3v1h-3zM400 475h3v1h-3zM406 475h3v1h-3zM412 475h3v1h-3zM418 475h3v1h-3zM424 475h3v1h-3zM430 475h3v1h-3zM436 475h3v1h-3zM442 475h3v1h-3zM448 475h3v1h-3zM454 475h3v1h-3zM460 475h3v1h-3zM466 475h3v1h-3zM472 475h3v1h-3zM478 475h3v1h-3zM484 475h3v1h-3zM490 475h3v1h-3zM496 475h3v1h-3zM502 475h3v1h-3zM508 475h3v1h-3zM514 475h3v1h-3zM520 475h3v1h-3zM526 475h3v1h-3zM532 475h3v1h-3zM538 475h3v1h-3zM544 475h3v1h-3zM550 475h3v1h-3zM556 475h3v1h-3zM562 475h3v1h-3zM568 475h3v1h-3zM574 475h3v1h-3zM580 475h3v1h-3zM586 475h3v1h-3zM592 475h3v1h-3zM598 475h3v1h-3zM604 475h3v1h-3zM610 475h3v1h-3zM616 475h3v1h-3zM622 475h3v1h-3zM628 475h3v1h-3zM634 475h3v1h-3zM640 475h3v1h-3zM646 475h3v1h-3zM652 475h3v1h-3zM658 475h3v1h-3zM664 475h3v1h-3zM670 475h3v1h-3zM676 475h3v1h-3zM682 475h3v1h-3zM688 475h3v1h-3zM694 475h3v1h-3zM700 475h3v1h-3zM706 475h3v1h-3zM712 475h3v1h-3zM718 475h3v1h-3zM724 475h3v1h-3zM730 475h3v1h-3zM736 475h3v1h-3zM742 475h3v1h-3zM748 475h3v1h-3zM754 475h3v1h-3zM760 475h3v1h-3zM766 475h3v1h-3zM772 475h3v1h-3zM778 475h3v1h-3zM784 475h3v1h-3zM790 475h3v1h-3zM796 475h3v1h-3zM802 475h3v1h-3zM808 475h3v1h-3zM814 475h3v1h-3zM820 475h3v1h-3zM826 475h3v1h-3zM832 475h3v1h-3zM838 475h3v1h-3zM844 475h3v1h-3zM850 475h3v1h-3zM856 475h3v1h-3zM862 475h3v1h-3zM868 475h3v1h-3zM874 475h3v1h-3zM880 475h3v1h-3zM886 475h3v1h-3zM892 475h3v1h-3zM898 475h3v1h-3zM904 475h3v1h-3zM910 475h3v1h-3zM916 475h3v1h-3zM922 475h3v1h-3zM928 475h3v1h-3zM934 475h3v1h-3zM940 475h3v1h-3zM946 475h3v1h-3zM952 475h3v1h-3zM958 475h3v1h-3zM964 475h3v1h-3zM970 475h3v1h-3zM976 475h3v1h-3zM982 475h3v1h-3zM988 475h3v1h-3zM994 475h3v1h-3zM1000 475h3v1h-3zM1006 475h3v1h-3zM1012 475h3v1h-3zM1018 475h3v1h-3zM1024 475h3v1h-3zM1030 475h3v1h-3zM1036 475h3v1h-3zM1042 475h3v1h-3zM1048 475h3v1h-3zM1054 475h3v1h-3zM1060 475h3v1h-3zM1066 475h3v1h-3zM1072 475h3v1h-3zM1078 475h3v1h-3zM1084 475h3v1h-3zM1090 475h3v1h-3zM1096 475h3v1h-3zM1102 475h3v1h-3zM1108 475h3v1h-3zM1114 475h3v1h-3zM1120 475h3v1h-3zM1126 475h3v1h-3zM1132 475h3v1h-3zM1138 475h3v1h-3zM1144 475h3v1h-3zM1150 475h3v1h-3zM1156 475h3v1h-3zM1162 475h3v1h-3zM1168 475h3v1h-3zM1174 475h3v1h-3zM1180 475h3v1h-3zM1186 475h3v1h-3zM1192 475h3v1h-3zM1198 475h3v1h-3zM1204 475h3v1h-3zM1210 475h3v1h-3zM1216 475h3v1h-3zM4 526h3v1h-3zM10 526h3v1h-3zM16 526h3v1h-3zM22 526h3v1h-3zM28 526h3v1h-3zM34 526h3v1h-3zM40 526h3v1h-3zM46 526h3v1h-3zM52 526h3v1h-3zM58 526h3v1h-3zM64 526h3v1h-3zM70 526h3v1h-3zM76 526h3v1h-3zM82 526h3v1h-3zM88 526h3v1h-3zM94 526h3v1h-3zM100 526h3v1h-3zM106 526h3v1h-3zM112 526h3v1h-3zM118 526h3v1h-3zM124 526h3v1h-3zM130 526h3v1h-3zM136 526h3v1h-3zM142 526h3v1h-3zM148 526h3v1h-3zM154 526h3v1h-3zM160 526h3v1h-3zM166 526h3v1h-3zM172 526h3v1h-3zM178 526h3v1h-3zM184 526h3v1h-3zM190 526h3v1h-3zM196 526h3v1h-3zM202 526h3v1h-3zM208 526h3v1h-3zM214 526h3v1h-3zM220 526h3v1h-3zM226 526h3v1h-3zM232 526h3v1h-3zM238 526h3v1h-3zM244 526h3v1h-3zM250 526h3v1h-3zM256 526h3v1h-3zM262 526h3v1h-3zM268 526h3v1h-3zM274 526h3v1h-3zM280 526h3v1h-3zM286 526h3v1h-3zM292 526h3v1h-3zM298 526h3v1h-3zM304 526h3v1h-3zM310 526h3v1h-3zM316 526h3v1h-3zM322 526h3v1h-3zM328 526h3v1h-3zM334 526h3v1h-3zM340 526h3v1h-3zM346 526h3v1h-3zM352 526h3v1h-3zM358 526h3v1h-3zM364 526h3v1h-3zM370 526h3v1h-3zM376 526h3v1h-3zM382 526h3v1h-3zM388 526h3v1h-3zM394 526h3v1h-3zM400 526h3v1h-3zM406 526h3v1h-3zM412 526h3v1h-3zM418 526h3v1h-3zM424 526h3v1h-3zM430 526h3v1h-3zM436 526h3v1h-3zM442 526h3v1h-3zM448 526h3v1h-3zM454 526h3v1h-3zM460 526h3v1h-3zM466 526h3v1h-3zM472 526h3v1h-3zM478 526h3v1h-3zM484 526h3v1h-3zM490 526h3v1h-3zM496 526h3v1h-3zM502 526h3v1h-3zM508 526h3v1h-3zM514 526h3v1h-3zM520 526h3v1h-3zM526 526h3v1h-3zM532 526h3v1h-3zM538 526h3v1h-3zM544 526h3v1h-3zM550 526h3v1h-3zM556 526h3v1h-3zM562 526h3v1h-3zM568 526h3v1h-3zM574 526h3v1h-3zM580 526h3v1h-3zM586 526h3v1h-3zM592 526h3v1h-3zM598 526h3v1h-3zM604 526h3v1h-3zM610 526h3v1h-3zM616 526h3v1h-3zM622 526h3v1h-3zM628 526h3v1h-3zM634 526h3v1h-3zM640 526h3v1h-3zM646 526h3v1h-3zM652 526h3v1h-3zM658 526h3v1h-3zM664 526h3v1h-3zM670 526h3v1h-3zM676 526h3v1h-3zM682 526h3v1h-3zM688 526h3v1h-3zM694 526h3v1h-3zM700 526h3v1h-3zM706 526h3v1h-3zM712 526h3v1h-3zM718 526h3v1h-3zM724 526h3v1h-3zM730 526h3v1h-3zM736 526h3v1h-3zM742 526h3v1h-3zM748 526h3v1h-3zM754 526h3v1h-3zM760 526h3v1h-3zM766 526h3v1h-3zM772 526h3v1h-3zM778 526h3v1h-3zM784 526h3v1h-3zM790 526h3v1h-3zM796 526h3v1h-3zM802 526h3v1h-3zM808 526h3v1h-3zM814 526h3v1h-3zM820 526h3v1h-3zM826 526h3v1h-3zM832 526h3v1h-3zM838 526h3v1h-3zM844 526h3v1h-3zM850 526h3v1h-3zM856 526h3v1h-3zM862 526h3v1h-3zM868 526h3v1h-3zM874 526h3v1h-3zM880 526h3v1h-3zM886 526h3v1h-3zM892 526h3v1h-3zM898 526h3v1h-3zM904 526h3v1h-3zM910 526h3v1h-3zM916 526h3v1h-3zM922 526h3v1h-3zM928 526h3v1h-3zM934 526h3v1h-3zM940 526h3v1h-3zM946 526h3v1h-3zM952 526h3v1h-3zM958 526h3v1h-3zM964 526h3v1h-3zM970 526h3v1h-3zM976 526h3v1h-3zM982 526h3v1h-3zM988 526h3v1h-3zM994 526h3v1h-3zM1000 526h3v1h-3zM1006 526h3v1h-3zM1012 526h3v1h-3zM1018 526h3v1h-3zM1024 526h3v1h-3zM1030 526h3v1h-3zM1036 526h3v1h-3zM1042 526h3v1h-3zM1048 526h3v1h-3zM1054 526h3v1h-3zM1060 526h3v1h-3zM1066 526h3v1h-3zM1072 526h3v1h-3zM1078 526h3v1h-3zM1084 526h3v1h-3zM1090 526h3v1h-3zM1096 526h3v1h-3zM1102 526h3v1h-3zM1108 526h3v1h-3zM1114 526h3v1h-3zM1120 526h3v1h-3zM1126 526h3v1h-3zM1132 526h3v1h-3zM1138 526h3v1h-3zM1144 526h3v1h-3zM1150 526h3v1h-3zM1156 526h3v1h-3zM1162 526h3v1h-3zM1168 526h3v1h-3zM1174 526h3v1h-3zM1180 526h3v1h-3zM1186 526h3v1h-3zM1192 526h3v1h-3zM1198 526h3v1h-3zM1204 526h3v1h-3zM1210 526h3v1h-3zM1216 526h3v1h-3zM4 577h3v1h-3zM10 577h3v1h-3zM16 577h3v1h-3zM22 577h3v1h-3zM28 577h3v1h-3zM34 577h3v1h-3zM40 577h3v1h-3zM46 577h3v1h-3zM52 577h3v1h-3zM58 577h3v1h-3zM64 577h3v1h-3zM70 577h3v1h-3zM76 577h3v1h-3zM82 577h3v1h-3zM88 577h3v1h-3zM94 577h3v1h-3zM100 577h3v1h-3zM106 577h3v1h-3zM112 577h3v1h-3zM118 577h3v1h-3zM124 577h3v1h-3zM130 577h3v1h-3zM136 577h3v1h-3zM142 577h3v1h-3zM148 577h3v1h-3zM154 577h3v1h-3zM160 577h3v1h-3zM166 577h3v1h-3zM172 577h3v1h-3zM178 577h3v1h-3zM184 577h3v1h-3zM190 577h3v1h-3zM196 577h3v1h-3zM202 577h3v1h-3zM208 577h3v1h-3zM214 577h3v1h-3zM220 577h3v1h-3zM226 577h3v1h-3zM232 577h3v1h-3zM238 577h3v1h-3zM244 577h3v1h-3zM250 577h3v1h-3zM256 577h3v1h-3zM262 577h3v1h-3zM268 577h3v1h-3zM274 577h3v1h-3zM280 577h3v1h-3zM286 577h3v1h-3zM292 577h3v1h-3zM298 577h3v1h-3zM304 577h3v1h-3zM310 577h3v1h-3zM316 577h3v1h-3zM322 577h3v1h-3zM328 577h3v1h-3zM334 577h3v1h-3zM340 577h3v1h-3zM346 577h3v1h-3zM352 577h3v1h-3zM358 577h3v1h-3zM364 577h3v1h-3zM370 577h3v1h-3zM376 577h3v1h-3zM382 577h3v1h-3zM388 577h3v1h-3zM394 577h3v1h-3zM400 577h3v1h-3zM406 577h3v1h-3zM412 577h3v1h-3zM418 577h3v1h-3zM424 577h3v1h-3zM430 577h3v1h-3zM436 577h3v1h-3zM442 577h3v1h-3zM448 577h3v1h-3zM454 577h3v1h-3zM460 577h3v1h-3zM466 577h3v1h-3zM472 577h3v1h-3zM478 577h3v1h-3zM484 577h3v1h-3zM490 577h3v1h-3zM496 577h3v1h-3zM502 577h3v1h-3zM508 577h3v1h-3zM514 577h3v1h-3zM520 577h3v1h-3zM526 577h3v1h-3zM532 577h3v1h-3zM538 577h3v1h-3zM544 577h3v1h-3zM550 577h3v1h-3zM556 577h3v1h-3zM562 577h3v1h-3zM568 577h3v1h-3zM574 577h3v1h-3zM580 577h3v1h-3zM586 577h3v1h-3zM592 577h3v1h-3zM598 577h3v1h-3zM604 577h3v1h-3zM610 577h3v1h-3zM616 577h3v1h-3zM622 577h3v1h-3zM628 577h3v1h-3zM634 577h3v1h-3zM640 577h3v1h-3zM646 577h3v1h-3zM652 577h3v1h-3zM658 577h3v1h-3zM664 577h3v1h-3zM670 577h3v1h-3zM676 577h3v1h-3zM682 577h3v1h-3zM688 577h3v1h-3zM694 577h3v1h-3zM700 577h3v1h-3zM706 577h3v1h-3zM712 577h3v1h-3zM718 577h3v1h-3zM724 577h3v1h-3zM730 577h3v1h-3zM736 577h3v1h-3zM742 577h3v1h-3zM748 577h3v1h-3zM754 577h3v1h-3zM760 577h3v1h-3zM766 577h3v1h-3zM772 577h3v1h-3zM778 577h3v1h-3zM784 577h3v1h-3zM790 577h3v1h-3zM796 577h3v1h-3zM802 577h3v1h-3zM808 577h3v1h-3zM814 577h3v1h-3zM820 577h3v1h-3zM826 577h3v1h-3zM832 577h3v1h-3zM838 577h3v1h-3zM844 577h3v1h-3zM850 577h3v1h-3zM856 577h3v1h-3zM862 577h3v1h-3zM868 577h3v1h-3zM874 577h3v1h-3zM880 577h3v1h-3zM886 577h3v1h-3zM892 577h3v1h-3zM898 577h3v1h-3zM904 577h3v1h-3zM910 577h3v1h-3zM916 577h3v1h-3zM922 577h3v1h-3zM928 577h3v1h-3zM934 577h3v1h-3zM940 577h3v1h-3zM946 577h3v1h-3zM952 577h3v1h-3zM958 577h3v1h-3zM964 577h3v1h-3zM970 577h3v1h-3zM976 577h3v1h-3zM982 577h3v1h-3zM988 577h3v1h-3zM994 577h3v1h-3zM1000 577h3v1h-3zM1006 577h3v1h-3zM1012 577h3v1h-3zM1018 577h3v1h-3zM1024 577h3v1h-3zM1030 577h3v1h-3zM1036 577h3v1h-3zM1042 577h3v1h-3zM1048 577h3v1h-3zM1054 577h3v1h-3zM1060 577h3v1h-3zM1066 577h3v1h-3zM1072 577h3v1h-3zM1078 577h3v1h-3zM1084 577h3v1h-3zM1090 577h3v1h-3zM1096 577h3v1h-3zM1102 577h3v1h-3zM1108 577h3v1h-3zM1114 577h3v1h-3zM1120 577h3v1h-3zM1126 577h3v1h-3zM1132 577h3v1h-3zM1138 577h3v1h-3zM1144 577h3v1h-3zM1150 577h3v1h-3zM1156 577h3v1h-3zM1162 577h3v1h-3zM1168 577h3v1h-3zM1174 577h3v1h-3zM1180 577h3v1h-3zM1186 577h3v1h-3zM1192 577h3v1h-3zM1198 577h3v1h-3zM1204 577h3v1h-3zM1210 577h3v1h-3zM1216 577h3v1h-3z"/><path fill="#c0c0c0" d="M4 630h3v1h-3zM10 630h3v1h-3zM16 630h3v1h-3zM22 630h3v1h-3zM28 630h3v1h-3zM34 630h3v1h-3zM40 630h3v1h-3zM46 630h3v1h-3zM52 630h3v1h-3zM58 630h3v1h-3zM64 630h3v1h-3zM70 630h3v1h-3zM76 630h3v1h-3zM82 630h3v1h-3zM88 630h3v1h-3zM94 630h3v1h-3zM100 630h3v1h-3zM106 630h3v1h-3zM112 630h3v1h-3zM118 630h3v1h-3zM124 630h3v1h-3zM130 630h3v1h-3zM136 630h3v1h-3zM142 630h3v1h-3zM148 630h3v1h-3zM154 630h3v1h-3zM160 630h3v1h-3zM166 630h3v1h-3zM172 630h3v1h-3zM178 630h3v1h-3zM184 630h3v1h-3zM190 630h3v1h-3zM196 630h3v1h-3zM202 630h3v1h-3zM208 630h3v1h-3zM214 630h3v1h-3zM220 630h3v1h-3zM226 630h3v1h-3zM232 630h3v1h-3zM238 630h3v1h-3zM244 630h3v1h-3zM250 630h3v1h-3zM256 630h3v1h-3zM262 630h3v1h-3zM268 630h3v1h-3zM274 630h3v1h-3zM280 630h3v1h-3zM286 630h3v1h-3zM292 630h3v1h-3zM298 630h3v1h-3zM304 630h3v1h-3zM310 630h3v1h-3zM316 630h3v1h-3zM322 630h3v1h-3zM328 630h3v1h-3zM334 630h3v1h-3zM340 630h3v1h-3zM346 630h3v1h-3zM352 630h3v1h-3zM358 630h3v1h-3zM364 630h3v1h-3zM370 630h3v1h-3zM376 630h3v1h-3zM382 630h3v1h-3zM388 630h3v1h-3zM394 630h3v1h-3zM400 630h3v1h-3zM406 630h3v1h-3zM412 630h3v1h-3zM418 630h3v1h-3zM424 630h3v1h-3zM430 630h3v1h-3zM436 630h3v1h-3zM442 630h3v1h-3zM448 630h3v1h-3zM454 630h3v1h-3zM460 630h3v1h-3zM466 630h3v1h-3zM472 630h3v1h-3zM478 630h3v1h-3zM484 630h3v1h-3zM490 630h3v1h-3zM496 630h3v1h-3zM502 630h3v1h-3zM508 630h3v1h-3zM514 630h3v1h-3zM520 630h3v1h-3zM526 630h3v1h-3zM532 630h3v1h-3zM538 630h3v1h-3zM544 630h3v1h-3zM550 630h3v1h-3zM556 630h3v1h-3zM562 630h3v1h-3zM568 630h3v1h-3zM574 630h3v1h-3zM580 630h3v1h-3zM586 630h3v1h-3zM592 630h3v1h-3zM598 630h3v1h-3zM604 630h3v1h-3zM610 630h3v1h-3zM616 630h3v1h-3zM622 630h3v1h-3zM628 630h3v1h-3zM634 630h3v1h-3zM640 630h3v1h-3zM646 630h3v1h-3zM652 630h3v1h-3zM658 630h3v1h-3zM664 630h3v1h-3zM670 630h3v1h-3zM676 630h3v1h-3zM682 630h3v1h-3zM688 630h3v1h-3zM694 630h3v1h-3zM700 630h3v1h-3zM706 630h3v1h-3zM712 630h3v1h-3zM718 630h3v1h-3zM724 630h3v1h-3zM730 630h3v1h-3zM736 630h3v1h-3zM742 630h3v1h-3zM748 630h3v1h-3zM754 630h3v1h-3zM760 630h3v1h-3zM766 630h3v1h-3zM772 630h3v1h-3zM778 630h3v1h-3zM784 630h3v1h-3zM790 630h3v1h-3zM796 630h3v1h-3zM802 630h3v1h-3zM808 630h3v1h-3zM814 630h3v1h-3zM820 630h3v1h-3zM826 630h3v1h-3zM832 630h3v1h-3zM838 630h3v1h-3zM844 630h3v1h-3zM850 630h3v1h-3zM856 630h3v1h-3zM862 630h3v1h-3zM868 630h3v1h-3zM874 630h3v1h-3zM880 630h3v1h-3zM886 630h3v1h-3zM892 630h3v1h-3zM898 630h3v1h-3zM904 630h3v1h-3zM910 630h3v1h-3zM916 630h3v1h-3zM922 630h3v1h-3zM928 630h3v1h-3zM934 630h3v1h-3zM940 630h3v1h-3zM946 630h3v1h-3zM952 630h3v1h-3zM958 630h3v1h-3zM964 630h3v1h-3zM970 630h3v1h-3zM976 630h3v1h-3zM982 630h3v1h-3zM988 630h3v1h-3zM994 630h3v1h-3zM1000 630h3v1h-3zM1006 630h3v1h-3zM1012 630h3v1h-3zM1018 630h3v1h-3zM1024 630h3v1h-3zM1030 630h3v1h-3zM1036 630h3v1h-3zM1042 630h3v1h-3zM1048 630h3v1h-3zM1054 630h3v1h-3zM1060 630h3v1h-3zM1066 630h3v1h-3zM1072 630h3v1h-3zM1078 630h3v1h-3zM1084 630h3v1h-3zM1090 630h3v1h-3zM1096 630h3v1h-3zM1102 630h3v1h-3zM1108 630h3v1h-3zM1114 630h3v1h-3zM1120 630h3v1h-3zM1126 630h3v1h-3zM1132 630h3v1h-3zM1138 630h3v1h-3zM1144 630h3v1h-3zM1150 630h3v1h-3zM1156 630h3v1h-3zM1162 630h3v1h-3zM1168 630h3v1h-3zM1174 630h3v1h-3zM1180 630h3v1h-3zM1186 630h3v1h-3zM1192 630h3v1h-3zM1198 630h3v1h-3zM1204 630h3v1h-3zM1210 630h3v1h-3zM1216 630h3v1h-3zM4 667h3v1h-3zM10 667h3v1h-3zM16 667h3v1h-3zM22 667h3v1h-3zM28 667h3v1h-3zM34 667h3v1h-3zM40 667h3v1h-3zM46 667h3v1h-3zM52 667h3v1h-3zM58 667h3v1h-3zM64 667h3v1h-3zM70 667h3v1h-3zM76 667h3v1h-3zM82 667h3v1h-3zM88 667h3v1h-3zM94 667h3v1h-3zM100 667h3v1h-3zM106 667h3v1h-3zM112 667h3v1h-3zM118 667h3v1h-3zM124 667h3v1h-3zM130 667h3v1h-3zM136 667h3v1h-3zM142 667h3v1h-3zM148 667h3v1h-3zM154 667h3v1h-3zM160 667h3v1h-3zM166 667h3v1h-3zM172 667h3v1h-3zM178 667h3v1h-3zM184 667h3v1h-3zM190 667h3v1h-3zM196 667h3v1h-3zM202 667h3v1h-3zM208 667h3v1h-3zM214 667h3v1h-3zM220 667h3v1h-3zM226 667h3v1h-3zM232 667h3v1h-3zM238 667h3v1h-3zM244 667h3v1h-3zM250 667h3v1h-3zM256 667h3v1h-3zM262 667h3v1h-3zM268 667h3v1h-3zM274 667h3v1h-3zM280 667h3v1h-3zM286 667h3v1h-3zM292 667h3v1h-3zM298 667h3v1h-3zM304 667h3v1h-3zM310 667h3v1h-3zM316 667h3v1h-3zM322 667h3v1h-3zM328 667h3v1h-3zM334 667h3v1h-3zM340 667h3v1h-3zM346 667h3v1h-3zM352 667h3v1h-3zM358 667h3v1h-3zM364 667h3v1h-3zM370 667h3v1h-3zM376 667h3v1h-3zM382 667h3v1h-3zM388 667h3v1h-3zM394 667h3v1h-3zM400 667h3v1h-3zM406 667h3v1h-3zM412 667h3v1h-3zM418 667h3v1h-3zM424 667h3v1h-3zM430 667h3v1h-3zM436 667h3v1h-3zM442 667h3v1h-3zM448 667h3v1h-3zM454 667h3v1h-3zM460 667h3v1h-3zM466 667h3v1h-3zM472 667h3v1h-3zM478 667h3v1h-3zM484 667h3v1h-3zM490 667h3v1h-3zM496 667h3v1h-3zM502 667h3v1h-3zM508 667h3v1h-3zM514 667h3v1h-3zM520 667h3v1h-3zM526 667h3v1h-3zM532 667h3v1h-3zM538 667h3v1h-3zM544 667h3v1h-3zM550 667h3v1h-3zM556 667h3v1h-3zM562 667h3v1h-3zM568 667h3v1h-3zM574 667h3v1h-3zM580 667h3v1h-3zM586 667h3v1h-3zM592 667h3v1h-3zM598 667h3v1h-3zM604 667h3v1h-3zM610 667h3v1h-3zM616 667h3v1h-3zM622 667h3v1h-3zM628 667h3v1h-3zM634 667h3v1h-3zM640 667h3v1h-3zM646 667h3v1h-3zM652 667h3v1h-3zM658 667h3v1h-3zM664 667h3v1h-3zM670 667h3v1h-3zM676 667h3v1h-3zM682 667h3v1h-3zM688 667h3v1h-3zM694 667h3v1h-3zM700 667h3v1h-3zM706 667h3v1h-3zM712 667h3v1h-3zM718 667h3v1h-3zM724 667h3v1h-3zM730 667h3v1h-3zM736 667h3v1h-3zM742 667h3v1h-3zM748 667h3v1h-3zM754 667h3v1h-3zM760 667h3v1h-3zM766 667h3v1h-3zM772 667h3v1h-3zM778 667h3v1h-3zM784 667h3v1h-3zM790 667h3v1h-3zM796 667h3v1h-3zM802 667h3v1h-3zM808 667h3v1h-3zM814 667h3v1h-3zM820 667h3v1h-3zM826 667h3v1h-3zM832 667h3v1h-3zM838 667h3v1h-3zM844 667h3v1h-3zM850 667h3v1h-3zM856 667h3v1h-3zM862 667h3v1h-3zM868 667h3v1h-3zM874 667h3v1h-3zM880 667h3v1h-3zM886 667h3v1h-3zM892 667h3v1h-3zM898 667h3v1h-3zM904 667h3v1h-3zM910 667h3v1h-3zM916 667h3v1h-3zM922 667h3v1h-3zM928 667h3v1h-3zM934 667h3v1h-3zM940 667h3v1h-3zM946 667h3v1h-3zM952 667h3v1h-3zM958 667h3v1h-3zM964 667h3v1h-3zM970 667h3v1h-3zM976 667h3v1h-3zM982 667h3v1h-3zM988 667h3v1h-3zM994 667h3v1h-3zM1000 667h3v1h-3zM1006 667h3v1h-3zM1012 667h3v1h-3zM1018 667h3v1h-3zM1024 667h3v1h-3zM1030 667h3v1h-3zM1036 667h3v1h-3zM1042 667h3v1h-3zM1048 667h3v1h-3zM1054 667h3v1h-3zM1060 667h3v1h-3zM1066 667h3v1h-3zM1072 667h3v1h-3zM1078 667h3v1h-3zM1084 667h3v1h-3zM1090 667h3v1h-3zM1096 667h3v1h-3zM1102 667h3v1h-3zM1108 667h3v1h-3zM1114 667h3v1h-3zM1120 667h3v1h-3zM1126 667h3v1h-3zM1132 667h3v1h-3zM1138 667h3v1h-3zM1144 667h3v1h-3zM1150 667h3v1h-3zM1156 667h3v1h-3zM1162 667h3v1h-3zM1168 667h3v1h-3zM1174 667h3v1h-3zM1180 667h3v1h-3zM1186 667h3v1h-3zM1192 667h3v1h-3zM1198 667h3v1h-3zM1204 667h3v1h-3zM1210 667h3v1h-3zM1216 667h3v1h-3z"/><path fill="#e6e6e6" d="M4 695h3v1h-3zM10 695h3v1h-3zM16 695h3v1h-3zM22 695h3v1h-3zM28 695h3v1h-3zM34 695h3v1h-3zM40 695h3v1h-3zM46 695h3v1h-3zM52 695h3v1h-3zM58 695h3v1h-3zM64 695h3v1h-3zM70 695h3v1h-3zM76 695h3v1h-3zM82 695h3v1h-3zM88 695h3v1h-3zM94 695h3v1h-3zM100 695h3v1h-3zM106 695h3v1h-3zM112 695h3v1h-3zM118 695h3v1h-3zM124 695h3v1h-3zM130 695h3v1h-3zM136 695h3v1h-3zM142 695h3v1h-3zM148 695h3v1h-3zM154 695h3v1h-3zM160 695h3v1h-3zM166 695h3v1h-3zM172 695h3v1h-3zM178 695h3v1h-3zM184 695h3v1h-3zM190 695h3v1h-3zM196 695h3v1h-3zM202 695h3v1h-3zM208 695h3v1h-3zM214 695h3v1h-3zM220 695h3v1h-3zM226 695h3v1h-3zM232 695h3v1h-3zM238 695h3v1h-3zM244 695h3v1h-3zM250 695h3v1h-3zM256 695h3v1h-3zM262 695h3v1h-3zM268 695h3v1h-3zM274 695h3v1h-3zM280 695h3v1h-3zM286 695h3v1h-3zM292 695h3v1h-3zM298 695h3v1h-3zM304 695h3v1h-3zM310 695h3v1h-3zM316 695h3v1h-3zM322 695h3v1h-3zM328 695h3v1h-3zM334 695h3v1h-3zM340 695h3v1h-3zM346 695h3v1h-3zM352 695h3v1h-3zM358 695h3v1h-3zM364 695h3v1h-3zM370 695h3v1h-3zM376 695h3v1h-3zM382 695h3v1h-3zM388 695h3v1h-3zM394 695h3v1h-3zM400 695h3v1h-3zM406 695h3v1h-3zM412 695h3v1h-3zM418 695h3v1h-3zM424 695h3v1h-3zM430 695h3v1h-3zM436 695h3v1h-3zM442 695h3v1h-3zM448 695h3v1h-3zM454 695h3v1h-3zM460 695h3v1h-3zM466 695h3v1h-3zM472 695h3v1h-3zM478 695h3v1h-3zM484 695h3v1h-3zM490 695h3v1h-3zM496 695h3v1h-3zM502 695h3v1h-3zM508 695h3v1h-3zM514 695h3v1h-3zM520 695h3v1h-3zM526 695h3v1h-3zM532 695h3v1h-3zM538 695h3v1h-3zM544 695h3v1h-3zM550 695h3v1h-3zM556 695h3v1h-3zM562 695h3v1h-3zM568 695h3v1h-3zM574 695h3v1h-3zM580 695h3v1h-3zM586 695h3v1h-3zM592 695h3v1h-3zM598 695h3v1h-3zM604 695h3v1h-3zM610 695h3v1h-3zM616 695h3v1h-3zM622 695h3v1h-3zM628 695h3v1h-3zM634 695h3v1h-3zM640 695h3v1h-3zM646 695h3v1h-3zM652 695h3v1h-3zM658 695h3v1h-3zM664 695h3v1h-3zM670 695h3v1h-3zM676 695h3v1h-3zM682 695h3v1h-3zM688 695h3v1h-3zM694 695h3v1h-3zM700 695h3v1h-3zM706 695h3v1h-3zM712 695h3v1h-3zM718 695h3v1h-3zM724 695h3v1h-3zM730 695h3v1h-3zM736 695h3v1h-3zM742 695h3v1h-3zM748 695h3v1h-3zM754 695h3v1h-3zM760 695h3v1h-3zM766 695h3v1h-3zM772 695h3v1h-3zM778 695h3v1h-3zM784 695h3v1h-3zM790 695h3v1h-3zM796 695h3v1h-3zM802 695h3v1h-3zM808 695h3v1h-3zM814 695h3v1h-3zM820 695h3v1h-3zM826 695h3v1h-3zM832 695h3v1h-3zM838 695h3v1h-3zM844 695h3v1h-3zM850 695h3v1h-3zM856 695h3v1h-3zM862 695h3v1h-3zM868 695h3v1h-3zM874 695h3v1h-3zM880 695h3v1h-3zM886 695h3v1h-3zM892 695h3v1h-3zM898 695h3v1h-3zM904 695h3v1h-3zM910 695h3v1h-3zM916 695h3v1h-3zM922 695h3v1h-3zM928 695h3v1h-3zM934 695h3v1h-3zM940 695h3v1h-3zM946 695h3v1h-3zM952 695h3v1h-3zM958 695h3v1h-3zM964 695h3v1h-3zM970 695h3v1h-3zM976 695h3v1h-3zM982 695h3v1h-3zM988 695h3v1h-3zM994 695h3v1h-3zM1000 695h3v1h-3zM1006 695h3v1h-3zM1012 695h3v1h-3zM1018 695h3v1h-3zM1024 695h3v1h-3zM1030 695h3v1h-3zM1036 695h3v1h-3zM1042 695h3v1h-3zM1048 695h3v1h-3zM1054 695h3v1h-3zM1060 695h3v1h-3zM1066 695h3v1h-3zM1072 695h3v1h-3zM1078 695h3v1h-3zM1084 695h3v1h-3zM1090 695h3v1h-3zM1096 695h3v1h-3zM1102 695h3v1h-3zM1108 695h3v1h-3zM1114 695h3v1h-3zM1120 695h3v1h-3zM1126 695h3v1h-3zM1132 695h3v1h-3zM1138 695h3v1h-3zM1144 695h3v1h-3zM1150 695h3v1h-3zM1156 695h3v1h-3zM1162 695h3v1h-3zM1168 695h3v1h-3zM1174 695h3v1h-3zM1180 695h3v1h-3zM1186 695h3v1h-3zM1192 695h3v1h-3zM1198 695h3v1h-3zM1204 695h3v1h-3zM1210 695h3v1h-3zM1216 695h3v1h-3z"/><path fill="#000080" d="M139 3h1v2h-1zM139 8h1v3h-1zM139 14h1v3h-1zM139 20h1v3h-1zM139 26h1v3h-1zM139 32h1v3h-1zM139 38h1v3h-1zM139 44h1v3h-1zM139 50h1v3h-1zM139 56h1v3h-1zM139 62h1v3h-1zM139 68h1v3h-1zM139 74h1v3h-1zM139 80h1v3h-1zM139 86h1v3h-1zM139 92h1v3h-1zM139 98h1v3h-1zM139 104h1v3h-1zM139 110h1v3h-1zM139 116h1v3h-1zM139 122h1v3h-1zM139 128h1v3h-1zM139 134h1v3h-1zM139 140h1v3h-1zM139 146h1v3h-1zM139 152h1v3h-1zM139 158h1v3h-1zM139 164h1v3h-1zM139 170h1v3h-1zM139 176h1v3h-1zM139 182h1v3h-1zM139 188h1v3h-1zM139 194h1v3h-1zM139 200h1v3h-1zM139 206h1v3h-1zM139 212h1v3h-1zM139 218h1v3h-1zM139 224h1v3h-1zM139 230h1v3h-1zM139 236h1v3h-1zM139 242h1v3h-1zM139 248h1v3h-1zM139 254h1v3h-1zM139 260h1v3h-1zM139 266h1v3h-1zM139 272h1v3h-1zM139 278h1v3h-1zM139 284h1v3h-1zM139 290h1v3h-1zM139 296h1v3h-1zM139 302h1v3h-1zM139 308h1v3h-1zM139 314h1v3h-1zM139 320h1v3h-1zM139 326h1v3h-1zM139 332h1v3h-1zM139 338h1v3h-1zM139 344h1v3h-1zM139 350h1v3h-1zM139 356h1v3h-1zM139 362h1v3h-1zM139 368h1v3h-1zM139 374h1v3h-1zM139 380h1v3h-1zM139 386h1v3h-1zM139 392h1v3h-1zM139 398h1v3h-1zM139 404h1v3h-1zM139 410h1v3h-1zM139 416h1v3h-1zM139 422h1v3h-1zM139 428h1v3h-1zM139 434h1v3h-1zM139 440h1v3h-1zM139 446h1v3h-1zM139 452h1v3h-1zM139 458h1v3h-1zM139 464h1v3h-1zM139 470h1v3h-1zM139 476h1v3h-1zM139 482h1v3h-1zM139 488h1v3h-1zM139 494h1v3h-1zM139 500h1v3h-1zM139 506h1v3h-1zM139 512h1v3h-1zM139 518h1v3h-1zM139 524h1v3h-1zM139 530h1v3h-1zM139 536h1v3h-1zM139 542h1v3h-1zM139 548h1v3h-1zM139 554h1v3h-1zM139 560h1v3h-1zM139 566h1v3h-1zM139 572h1v3h-1zM139 578h1v3h-1zM139 584h1v3h-1zM139 590h1v3h-1zM139 596h1v2h-1zM139 602h1v3h-1zM139 608h1v3h-1zM139 614h1v3h-1zM139 620h1v3h-1zM139 626h1v3h-1zM139 632h1v3h-1zM139 638h1v3h-1zM139 644h1v3h-1zM139 650h1v3h-1zM139 656h1v3h-1zM139 662h1v3h-1zM139 668h1v3h-1zM139 674h1v3h-1zM139 680h1v3h-1zM139 686h1v3h-1zM139 692h1v3h-1zM379 3h1v2h-1zM379 8h1v3h-1zM379 14h1v3h-1zM379 20h1v3h-1zM379 26h1v3h-1zM379 32h1v3h-1zM379 38h1v3h-1zM379 44h1v3h-1zM379 50h1v3h-1zM379 56h1v3h-1zM379 62h1v3h-1zM379 68h1v3h-1zM379 74h1v3h-1zM379 80h1v3h-1zM379 86h1v3h-1zM379 92h1v3h-1zM379 98h1v3h-1zM379 104h1v3h-1zM379 110h1v3h-1zM379 116h1v3h-1zM379 122h1v3h-1zM379 128h1v3h-1zM379 134h1v3h-1zM379 140h1v3h-1zM379 146h1v3h-1zM379 152h1v3h-1zM379 158h1v3h-1zM379 164h1v3h-1zM379 170h1v3h-1zM379 176h1v3h-1zM379 182h1v3h-1zM379 188h1v3h-1zM379 194h1v3h-1zM379 200h1v3h-1zM379 206h1v3h-1zM379 212h1v3h-1zM379 218h1v3h-1zM379 224h1v3h-1zM379 230h1v3h-1zM379 236h1v3h-1zM379 242h1v3h-1zM379 248h1v3h-1zM379 254h1v3h-1zM379 260h1v3h-1zM379 266h1v3h-1zM379 272h1v3h-1zM379 278h1v3h-1zM379 284h1v3h-1zM379 290h1v3h-1zM379 296h1v3h-1zM379 302h1v3h-1zM379 308h1v3h-1zM379 314h1v3h-1zM379 320h1v3h-1zM379 326h1v3h-1zM379 332h1v3h-1zM379 338h1v3h-1zM379 344h1v3h-1zM379 350h1v3h-1zM379 356h1v3h-1zM379 362h1v3h-1zM379 368h1v3h-1zM379 374h1v3h-1zM379 380h1v3h-1zM379 386h1v3h-1zM379 392h1v3h-1zM379 398h1v3h-1zM379 404h1v3h-1zM379 410h1v3h-1zM379 416h1v3h-1zM379 422h1v3h-1zM379 428h1v3h-1zM379 434h1v3h-1zM379 440h1v3h-1zM379 446h1v3h-1zM379 452h1v3h-1zM379 458h1v3h-1zM379 464h1v3h-1zM379 470h1v3h-1zM379 476h1v3h-1zM379 482h1v3h-1zM379 488h1v3h-1zM379 494h1v3h-1zM379 500h1v3h-1zM379 506h1v3h-1zM379 512h1v3h-1zM379 518h1v3h-1zM379 524h1v3h-1zM379 530h1v3h-1zM379 536h1v3h-1zM379 542h1v3h-1zM379 548h1v3h-1zM379 554h1v3h-1zM379 560h1v3h-1zM379 566h1v3h-1zM379 572h1v3h-1zM379 578h1v3h-1zM379 584h1v3h-1zM379 590h1v3h-1zM379 596h1v2h-1zM379 602h1v3h-1zM379 608h1v3h-1zM379 614h1v3h-1zM379 620h1v3h-1zM379 626h1v3h-1zM379 632h1v3h-1zM379 638h1v3h-1zM379 644h1v3h-1zM379 650h1v3h-1zM379 656h1v3h-1zM379 662h1v3h-1zM379 668h1v3h-1zM379 674h1v3h-1zM379 680h1v3h-1zM379 686h1v3h-1zM379 692h1v3h-1zM619 3h1v2h-1zM619 8h1v3h-1zM619 14h1v3h-1zM619 20h1v3h-1zM619 26h1v3h-1zM619 32h1v3h-1zM619 38h1v3h-1zM619 44h1v3h-1zM619 50h1v3h-1zM619 56h1v3h-1zM619 62h1v3h-1zM619 68h1v3h-1zM619 74h1v3h-1zM619 80h1v3h-1zM619 86h1v3h-1zM619 92h1v3h-1zM619 98h1v3h-1zM619 104h1v3h-1zM619 110h1v3h-1zM619 116h1v3h-1zM619 122h1v3h-1zM619 128h1v3h-1zM619 134h1v3h-1zM619 140h1v3h-1zM619 146h1v3h-1zM619 152h1v3h-1zM619 158h1v3h-1zM619 164h1v3h-1zM619 170h1v3h-1zM619 176h1v3h-1zM619 182h1v3h-1zM619 188h1v3h-1zM619 194h1v3h-1zM619 200h1v3h-1zM619 206h1v3h-1zM619 212h1v3h-1zM619 218h1v3h-1zM619 224h1v3h-1zM619 230h1v3h-1zM619 236h1v3h-1zM619 242h1v3h-1zM619 248h1v3h-1zM619 254h1v3h-1zM619 260h1v3h-1zM619 266h1v3h-1zM619 272h1v3h-1zM619 278h1v3h-1zM619 284h1v3h-1zM619 290h1v3h-1zM619 296h1v3h-1zM619 302h1v3h-1zM619 308h1v3h-1zM619 314h1v3h-1zM619 320h1v3h-1zM619 326h1v3h-1zM619 332h1v3h-1zM619 338h1v3h-1zM619 344h1v3h-1zM619 350h1v3h-1zM619 356h1v3h-1zM619 362h1v3h-1zM619 368h1v3h-1zM619 374h1v3h-1zM619 380h1v3h-1zM619 386h1v3h-1zM619 392h1v3h-1zM619 398h1v3h-1zM619 404h1v3h-1zM619 410h1v3h-1zM619 416h1v3h-1zM619 422h1v3h-1zM619 428h1v3h-1zM619 434h1v3h-1zM619 440h1v3h-1zM619 446h1v3h-1zM619 452h1v3h-1zM619 458h1v3h-1zM619 464h1v3h-1zM619 470h1v3h-1zM619 476h1v3h-1zM619 482h1v3h-1zM619 488h1v3h-1zM619 494h1v3h-1zM619 500h1v3h-1zM619 506h1v3h-1zM619 512h1v3h-1zM619 518h1v3h-1zM619 524h1v3h-1zM619 530h1v3h-1zM619 536h1v3h-1zM619 542h1v3h-1zM619 548h1v3h-1zM619 554h1v3h-1zM619 560h1v3h-1zM619 566h1v3h-1zM619 572h1v3h-1zM619 578h1v3h-1zM619 584h1v3h-1zM619 590h1v3h-1zM619 596h1v2h-1zM619 602h1v3h-1zM619 608h1v3h-1zM619 614h1v3h-1zM619 620h1v3h-1zM619 626h1v3h-1zM619 632h1v3h-1zM619 638h1v3h-1zM619 644h1v3h-1zM619 650h1v3h-1zM619 656h1v3h-1zM619 662h1v3h-1zM619 668h1v3h-1zM619 674h1v3h-1zM619 680h1v3h-1zM619 686h1v3h-1zM619 692h1v3h-1zM859 3h1v2h-1zM859 8h1v3h-1zM859 14h1v3h-1zM859 20h1v3h-1zM859 26h1v3h-1zM859 32h1v3h-1zM859 38h1v3h-1zM859 44h1v3h-1zM859 50h1v3h-1zM859 56h1v3h-1zM859 62h1v3h-1zM859 68h1v3h-1zM859 74h1v3h-1zM859 80h1v3h-1zM859 86h1v3h-1zM859 92h1v3h-1zM859 98h1v3h-1zM859 104h1v3h-1zM859 110h1v3h-1zM859 116h1v3h-1zM859 122h1v3h-1zM859 128h1v3h-1zM859 134h1v3h-1zM859 140h1v3h-1zM859 146h1v3h-1zM859 152h1v3h-1zM859 158h1v3h-1zM859 164h1v3h-1zM859 170h1v3h-1zM859 176h1v3h-1zM859 182h1v3h-1zM859 188h1v3h-1zM859 194h1v3h-1zM859 200h1v3h-1zM859 206h1v3h-1zM859 212h1v3h-1zM859 218h1v3h-1zM859 224h1v3h-1zM859 230h1v3h-1zM859 236h1v3h-1zM859 242h1v3h-1zM859 248h1v3h-1zM859 254h1v3h-1zM859 260h1v3h-1zM859 266h1v3h-1zM859 272h1v3h-1zM859 278h1v3h-1zM859 284h1v3h-1zM859 290h1v3h-1zM859 296h1v3h-1zM859 302h1v3h-1zM859 308h1v3h-1zM859 314h1v3h-1zM859 320h1v3h-1zM859 326h1v3h-1zM859 332h1v3h-1zM859 338h1v3h-1zM859 344h1v3h-1zM859 350h1v3h-1zM859 356h1v3h-1zM859 362h1v3h-1zM859 368h1v3h-1zM859 374h1v3h-1zM859 380h1v3h-1zM859 386h1v3h-1zM859 392h1v3h-1zM859 398h1v3h-1zM859 404h1v3h-1zM859 410h1v3h-1zM859 416h1v3h-1zM859 422h1v3h-1zM859 428h1v3h-1zM859 434h1v3h-1zM859 440h1v3h-1zM859 446h1v3h-1zM859 452h1v3h-1zM859 458h1v3h-1zM859 464h1v3h-1zM859 470h1v3h-1zM859 476h1v3h-1zM859 482h1v3h-1zM859 488h1v3h-1zM859 494h1v3h-1zM859 500h1v3h-1zM859 506h1v3h-1zM859 512h1v3h-1zM859 518h1v3h-1zM859 524h1v3h-1zM859 530h1v3h-1zM859 536h1v3h-1zM859 542h1v3h-1zM859 548h1v3h-1zM859 554h1v3h-1zM859 560h1v3h-1zM859 566h1v3h-1zM859 572h1v3h-1zM859 578h1v3h-1zM859 584h1v3h-1zM859 590h1v3h-1zM859 596h1v2h-1zM859 602h1v3h-1zM859 608h1v3h-1zM859 614h1v3h-1zM859 620h1v3h-1zM859 626h1v3h-1zM859 632h1v3h-1zM859 638h1v3h-1zM859 644h1v3h-1zM859 650h1v3h-1zM859 656h1v3h-1zM859 662h1v3h-1zM859 668h1v3h-1zM859 674h1v3h-1zM859 680h1v3h-1zM859 686h1v3h-1zM859 692h1v3h-1zM1099 3h1v2h-1zM1099 8h1v3h-1zM1099 14h1v3h-1zM1099 20h1v3h-1zM1099 26h1v3h-1zM1099 32h1v3h-1zM1099 38h1v3h-1zM1099 44h1v3h-1zM1099 50h1v3h-1zM1099 56h1v3h-1zM1099 62h1v3h-1zM1099 68h1v3h-1zM1099 74h1v3h-1zM1099 80h1v3h-1zM1099 86h1v3h-1zM1099 92h1v3h-1zM1099 98h1v3h-1zM1099 104h1v3h-1zM1099 110h1v3h-1zM1099 116h1v3h-1zM1099 122h1v3h-1zM1099 128h1v3h-1zM1099 134h1v3h-1zM1099 140h1v3h-1zM1099 146h1v3h-1zM1099 152h1v3h-1zM1099 158h1v3h-1zM1099 164h1v3h-1zM1099 170h1v3h-1zM1099 176h1v3h-1zM1099 182h1v3h-1zM1099 188h1v3h-1zM1099 194h1v3h-1zM1099 200h1v3h-1zM1099 206h1v3h-1zM1099 212h1v3h-1zM1099 218h1v3h-1zM1099 224h1v3h-1zM1099 230h1v3h-1zM1099 236h1v3h-1zM1099 242h1v3h-1zM1099 248h1v3h-1zM1099 254h1v3h-1zM1099 260h1v3h-1zM1099 266h1v3h-1zM1099 272h1v3h-1zM1099 278h1v3h-1zM1099 284h1v3h-1zM1099 290h1v3h-1zM1099 296h1v3h-1zM1099 302h1v3h-1zM1099 308h1v3h-1zM1099 314h1v3h-1zM1099 320h1v3h-1zM1099 326h1v3h-1zM1099 332h1v3h-1zM1099 338h1v3h-1zM1099 344h1v3h-1zM1099 350h1v3h-1zM1099 356h1v3h-1zM1099 362h1v3h-1zM1099 368h1v3h-1zM1099 374h1v3h-1zM1099 380h1v3h-1zM1099 386h1v3h-1zM1099 392h1v3h-1zM1099 398h1v3h-1zM1099 404h1v3h-1zM1099 410h1v3h-1zM1099 416h1v3h-1zM1099 422h1v3h-1zM1099 428h1v3h-1zM1099 434h1v3h-1zM1099 440h1v3h-1zM1099 446h1v3h-1zM1099 452h1v3h-1zM1099 458h1v3h-1zM1099 464h1v3h-1zM1099 470h1v3h-1zM1099 476h1v3h-1zM1099 482h1v3h-1zM1099 488h1v3h-1zM1099 494h1v3h-1zM1099 500h1v3h-1zM1099 506h1v3h-1zM1099 512h1v3h-1zM1099 518h1v3h-1zM1099 524h1v3h-1zM1099 530h1v3h-1zM1099 536h1v3h-1zM1099 542h1v3h-1zM1099 548h1v3h-1zM1099 554h1v3h-1zM1099 560h1v3h-1zM1099 566h1v3h-1zM1099 572h1v3h-1zM1099 578h1v3h-1zM1099 584h1v3h-1zM1099 590h1v3h-1zM1099 596h1v2h-1zM1099 602h1v3h-1zM1099 608h1v3h-1zM1099 614h1v3h-1zM1099 620h1v3h-1zM1099 626h1v3h-1zM1099 632h1v3h-1zM1099 638h1v3h-1zM1099 644h1v3h-1zM1099 650h1v3h-1zM1099 656h1v3h-1zM1099 662h1v3h-1zM1099 668h1v3h-1zM1099 674h1v3h-1zM1099 680h1v3h-1zM1099 686h1v3h-1zM1099 692h1v3h-1z"/><rect x="3" y="348" width="1221" height="1" fill="#dcdcdc"/><rect x="3" y="344" width="1220" height="1" fill="#ff0000"/><clipPath id="cm"><rect x="3" y="3" width="1220" height="595"/></clipPath><clipPath id="cr"><rect x="3" y="601" width="1220" height="95"/></clipPath><g clip-path="url(#cm)"><path fill="#228b22" d="M3 260h1v39h-1zM1 274h5v15h-5zM11 219h1v58h-1zM9 247h5v26h-5zM27 217h1v74h-1zM25 231h5v46h-5zM35 214h1v44h-1zM33 217h5v17h-5zM43 176h1v52h-1zM41 184h5v38h-5zM59 174h1v52h-1zM57 192h5v5h-5zM67 182h1v38h-1zM65 188h5v7h-5zM75 151h1v60h-1zM73 155h5v36h-5zM83 120h1v36h-1zM81 133h5v21h-5zM91 84h1v54h-1zM89 94h5v44h-5zM99 83h1v36h-1zM97 87h5v6h-5zM139 176h1v31h-1zM137 176h5v3h-5zM147 161h1v36h-1zM145 165h5v14h-5zM187 200h1v26h-1zM185 204h5v22h-5zM235 296h1v22h-1zM233 303h5v15h-5zM243 290h1v22h-1zM241 294h5v7h-5zM267 266h1v85h-1zM265 272h5v75h-5zM307 300h1v42h-1zM305 311h5v9h-5zM315 272h1v46h-1zM313 298h5v12h-5zM323 272h1v34h-1zM321 276h5v25h-5zM331 268h1v15h-1zM329 276h5v3h-5zM347 255h1v57h-1zM345 292h5v7h-5zM355 210h1v94h-1zM353 243h5v52h-5zM379 213h1v48h-1zM377 233h5v23h-5zM395 231h1v46h-1zM393 235h5v23h-5zM411 227h1v21h-1zM409 235h5v3h-5zM419 206h1v36h-1zM417 219h5v15h-5zM427 182h1v38h-1zM425 194h5v24h-5zM435 174h1v29h-1zM433 182h5v11h-5zM459 170h1v68h-1zM457 184h5v50h-5zM491 217h1v58h-1zM489 229h5v21h-5zM507 178h1v70h-1zM505 214h5v22h-5zM523 280h1v40h-1zM521 284h5v22h-5zM531 237h1v62h-1zM529 264h5v19h-5zM563 372h1v20h-1zM561 374h5v7h-5zM579 364h1v21h-1zM577 378h5v3h-5zM587 360h1v46h-1zM585 362h5v15h-5zM611 436h1v38h-1zM609 444h5v28h-5zM627 440h1v23h-1zM625 446h5v15h-5zM651 440h1v68h-1zM649 462h5v32h-5zM675 481h1v27h-1zM673 491h5v9h-5zM715 522h1v38h-1zM713 540h5v11h-5zM723 530h1v19h-1zM721 534h5v5h-5zM747 532h1v50h-1zM745 559h5v15h-5zM755 530h1v32h-1zM753 540h5v18h-5zM763 499h1v40h-1zM761 503h5v36h-5zM771 495h1v17h-1zM769 497h5v5h-5zM779 468h1v40h-1zM777 489h5v11h-5zM787 427h1v71h-1zM785 444h5v48h-5zM795 430h1v50h-1zM793 434h5v13h-5zM803 409h1v30h-1zM801 432h5v5h-5zM827 432h1v25h-1zM825 440h5v7h-5zM835 374h1v67h-1zM833 378h5v61h-5zM843 331h1v52h-1zM841 352h5v29h-5zM867 380h1v34h-1zM865 391h5v7h-5zM875 348h1v64h-1zM873 378h5v12h-5zM883 358h1v50h-1zM881 378h5v3h-5zM915 384h1v28h-1zM913 391h5v13h-5zM923 376h1v40h-1zM921 384h5v10h-5zM931 300h1v90h-1zM929 311h5v77h-5zM979 354h1v31h-1zM977 370h5v7h-5zM987 318h1v72h-1zM985 327h5v42h-5zM1019 241h1v112h-1zM1017 278h5v71h-5zM1027 262h1v42h-1zM1025 270h5v11h-5zM1035 198h1v81h-1zM1033 208h5v61h-5zM1059 214h1v38h-1zM1057 214h5v30h-5zM1075 202h1v93h-1zM1073 235h5v34h-5zM1091 264h1v29h-1zM1089 270h5v13h-5zM1131 309h1v42h-1zM1129 325h5v5h-5zM1155 305h1v33h-1zM1153 317h5v17h-5zM1171 309h1v46h-1zM1169 317h5v17h-5zM1187 339h1v26h-1zM1185 352h5v13h-5zM1203 348h1v21h-1zM1201 348h5v15h-5z"/><path fill="#32cd32" d="M2 275h3v13h-3zM10 248h3v24h-3zM26 232h3v44h-3zM34 218h3v15h-3zM42 185h3v36h-3zM58 193h3v3h-3zM66 189h3v5h-3zM74 156h3v34h-3zM82 134h3v19h-3zM90 95h3v42h-3zM98 88h3v4h-3zM138 177h3v1h-3zM146 166h3v12h-3zM186 205h3v20h-3zM234 304h3v13h-3zM242 295h3v5h-3zM266 273h3v73h-3zM306 312h3v7h-3zM314 299h3v10h-3zM322 277h3v23h-3zM330 277h3v1h-3zM346 293h3v5h-3zM354 244h3v50h-3zM378 234h3v21h-3zM394 236h3v21h-3zM410 236h3v1h-3zM418 220h3v13h-3zM426 195h3v22h-3zM434 183h3v9h-3zM458 185h3v48h-3zM490 230h3v19h-3zM506 215h3v20h-3zM522 285h3v20h-3zM530 265h3v17h-3zM562 375h3v5h-3zM578 379h3v1h-3zM586 363h3v13h-3zM610 445h3v26h-3zM626 447h3v13h-3zM650 463h3v30h-3zM674 492h3v7h-3zM714 541h3v9h-3zM722 535h3v3h-3zM746 560h3v13h-3zM754 541h3v16h-3zM762 504h3v34h-3zM770 498h3v3h-3zM778 490h3v9h-3zM786 445h3v46h-3zM794 435h3v11h-3zM802 433h3v3h-3zM826 441h3v5h-3zM834 379h3v59h-3zM842 353h3v27h-3zM866 392h3v5h-3zM874 379h3v10h-3zM882 379h3v1h-3zM914 392h3v11h-3zM922 385h3v8h-3zM930 312h3v75h-3zM978 371h3v5h-3zM986 328h3v40h-3zM1018 279h3v69h-3zM1026 271h3v9h-3zM1034 209h3v59h-3zM1058 215h3v28h-3zM1074 236h3v32h-3zM1090 271h3v11h-3zM1130 326h3v3h-3zM1154 318h3v15h-3zM1170 318h3v15h-3zM1186 353h3v11h-3zM1202 349h3v13h-3z"/><path fill="#ff4500" d="M19 233h1v52h-1zM17 245h5v34h-5zM51 157h1v42h-1zM49 182h5v17h-5zM107 49h1v76h-1zM105 85h5v28h-5zM115 92h1v85h-1zM113 114h5v42h-5zM123 147h1v50h-1zM121 157h5v11h-5zM131 157h1v52h-1zM129 165h5v44h-5zM155 157h1v46h-1zM153 167h5v18h-5zM163 174h1v48h-1zM161 182h5v21h-5zM171 182h1v38h-1zM169 200h5v11h-5zM179 204h1v30h-1zM177 212h5v16h-5zM195 204h1v44h-1zM193 206h5v34h-5zM203 235h1v52h-1zM201 241h5v28h-5zM211 257h1v53h-1zM209 270h5v21h-5zM219 262h1v56h-1zM217 288h5v7h-5zM227 292h1v24h-1zM225 296h5v18h-5zM251 280h1v54h-1zM249 292h5v28h-5zM259 309h1v53h-1zM257 317h5v32h-5zM275 270h1v34h-1zM273 274h5v17h-5zM283 282h1v36h-1zM281 288h5v18h-5zM291 300h1v32h-1zM289 303h5v13h-5zM299 300h1v32h-1zM297 317h5v5h-5zM339 274h1v27h-1zM337 278h5v19h-5zM363 225h1v52h-1zM361 241h5v20h-5zM387 231h1v40h-1zM385 231h5v30h-5zM403 206h1v42h-1zM401 237h5v3h-5zM443 177h1v45h-1zM441 184h5v13h-5zM451 180h1v81h-1zM449 194h5v38h-5zM467 180h1v29h-1zM465 182h5v23h-5zM475 188h1v32h-1zM473 206h5v12h-5zM483 214h1v44h-1zM481 214h5v34h-5zM499 212h1v44h-1zM497 227h5v11h-5zM515 208h1v151h-1zM513 221h5v87h-5zM539 251h1v48h-1zM537 266h5v13h-5zM547 272h1v150h-1zM545 280h5v75h-5zM555 341h1v57h-1zM553 356h5v27h-5zM571 358h1v25h-1zM569 376h5v3h-5zM595 362h1v95h-1zM593 364h5v75h-5zM603 427h1v47h-1zM601 436h5v33h-5zM619 438h1v36h-1zM617 452h5v11h-5zM635 434h1v59h-1zM633 448h5v40h-5zM643 473h1v33h-1zM641 489h5v7h-5zM659 454h1v32h-1zM657 460h5v18h-5zM667 473h1v50h-1zM665 473h5v25h-5zM683 448h1v71h-1zM681 489h5v28h-5zM691 497h1v69h-1zM689 518h5v17h-5zM699 524h1v50h-1zM697 536h5v15h-5zM707 544h1v26h-1zM705 552h5v3h-5zM731 528h1v27h-1zM729 536h5v13h-5zM739 530h1v44h-1zM737 550h5v22h-5zM811 411h1v34h-1zM809 423h5v16h-5zM819 430h1v21h-1zM817 436h5v13h-5zM851 346h1v58h-1zM849 354h5v31h-5zM859 393h1v40h-1zM857 395h5v5h-5zM891 376h1v59h-1zM889 380h5v14h-5zM899 384h1v22h-1zM897 395h5v11h-5zM907 393h1v29h-1zM905 403h5v3h-5zM939 303h1v29h-1zM937 309h5v15h-5zM947 321h1v32h-1zM945 325h5v22h-5zM955 339h1v26h-1zM953 344h5v21h-5zM971 337h1v40h-1zM969 364h5v11h-5zM995 325h1v22h-1zM993 325h5v3h-5zM1003 323h1v34h-1zM1001 329h5v5h-5zM1011 327h1v28h-1zM1009 331h5v20h-5zM1043 206h1v44h-1zM1041 206h5v40h-5zM1051 229h1v38h-1zM1049 243h5v3h-5zM1067 212h1v61h-1zM1065 217h5v54h-5zM1083 233h1v68h-1zM1081 237h5v48h-5zM1099 262h1v43h-1zM1097 274h5v27h-5zM1107 298h1v22h-1zM1105 298h5v16h-5zM1123 296h1v40h-1zM1121 309h5v23h-5zM1139 323h1v26h-1zM1137 323h5v7h-5zM1147 321h1v24h-1zM1145 321h5v11h-5zM1163 300h1v38h-1zM1161 319h5v17h-5zM1179 296h1v75h-1zM1177 315h5v48h-5zM1195 344h1v19h-1zM1193 356h5v5h-5z"/><path fill="#ff8c00" d="M18 246h3v32h-3zM50 183h3v15h-3zM106 86h3v26h-3zM114 115h3v40h-3zM122 158h3v9h-3zM130 166h3v42h-3zM154 168h3v16h-3zM162 183h3v19h-3zM170 201h3v9h-3zM178 213h3v14h-3zM194 207h3v32h-3zM202 242h3v26h-3zM210 271h3v19h-3zM218 289h3v5h-3zM226 297h3v16h-3zM250 293h3v26h-3zM258 318h3v30h-3zM274 275h3v15h-3zM282 289h3v16h-3zM290 304h3v11h-3zM298 318h3v3h-3zM338 279h3v17h-3zM362 242h3v18h-3zM386 232h3v28h-3zM402 238h3v1h-3zM442 185h3v11h-3zM450 195h3v36h-3zM466 183h3v21h-3zM474 207h3v10h-3zM482 215h3v32h-3zM498 228h3v9h-3zM514 222h3v85h-3zM538 267h3v11h-3zM546 281h3v73h-3zM554 357h3v25h-3zM570 377h3v1h-3zM594 365h3v73h-3zM602 437h3v31h-3zM618 453h3v9h-3zM634 449h3v38h-3zM642 490h3v5h-3zM658 461h3v16h-3zM666 474h3v23h-3zM682 490h3v26h-3zM690 519h3v15h-3zM698 537h3v13h-3zM706 553h3v1h-3zM730 537h3v11h-3zM738 551h3v20h-3zM810 424h3v14h-3zM818 437h3v11h-3zM850 355h3v29h-3zM858 396h3v3h-3zM890 381h3v12h-3zM898 396h3v9h-3zM906 404h3v1h-3zM938 310h3v13h-3zM946 326h3v20h-3zM954 345h3v19h-3zM970 365h3v9h-3zM994 326h3v1h-3zM1002 330h3v3h-3zM1010 332h3v18h-3zM1042 207h3v38h-3zM1050 244h3v1h-3zM1066 218h3v52h-3zM1082 238h3v46h-3zM1098 275h3v25h-3zM1106 299h3v14h-3zM1122 310h3v21h-3zM1138 324h3v5h-3zM1146 322h3v9h-3zM1162 320h3v15h-3zM1178 316h3v46h-3zM1194 357h3v3h-3z"/><path fill="#000" d="M371 239h1v32h-1zM369 257h5v1h-5zM963 350h1v25h-1zM961 362h5v1h-5zM1115 282h1v42h-1zM1113 311h5v1h-5z"/><path fill="#3cb371" d="M3 244h1v1h-1zM4 242h1v2h-1zM5 241h1v1h-1zM6 239h1v2h-1zM7 238h1v1h-1zM8 236h1v2h-1zM9 235h1v1h-1zM10 233h1v2h-1zM11 232h1v1h-1zM12 231h2v1h-2zM14 230h2v1h-2zM16 229h1v1h-1zM17 228h2v1h-2zM19 227h1v1h-1zM20 225h1v2h-1zM21 223h1v2h-1zM22 221h1v2h-1zM23 220h1v1h-1zM24 218h1v2h-1zM25 216h1v2h-1zM26 214h1v2h-1zM27 213h1v1h-1zM28 211h1v2h-1zM29 209h1v2h-1zM30 207h1v2h-1zM31 205h1v2h-1zM32 203h1v2h-1zM33 201h1v2h-1zM34 199h1v2h-1zM35 197h1v2h-1zM36 195h1v2h-1zM37 193h1v2h-1zM38 191h1v2h-1zM39 189h1v2h-1zM40 187h1v2h-1zM41 185h1v2h-1zM42 183h1v2h-1zM43 181h1v2h-1zM44 179h1v2h-1zM45 178h1v1h-1zM46 176h1v2h-1zM47 175h1v1h-1zM48 173h1v2h-1zM49 172h1v1h-1zM50 170h1v2h-1zM51 169h1v1h-1zM52 167h1v2h-1zM53 166h1v1h-1zM54 164h1v2h-1zM55 163h1v1h-1zM56 161h1v2h-1zM57 160h1v1h-1zM58 158h1v2h-1zM59 157h1v1h-1zM60 155h1v2h-1zM61 154h1v1h-1zM62 152h1v2h-1zM63 151h1v1h-1zM64 149h1v2h-1zM65 148h1v1h-1zM66 146h1v2h-1zM67 144h1v2h-1zM68 142h1v2h-1zM69 140h1v2h-1zM70 138h1v2h-1zM71 135h1v3h-1zM72 133h1v2h-1zM73 131h1v2h-1zM74 129h1v2h-1zM75 126h1v3h-1zM76 123h1v3h-1zM77 121h1v2h-1zM78 118h1v3h-1zM79 115h1v3h-1zM80 112h1v3h-1zM81 110h1v2h-1zM82 107h1v3h-1zM83 104h1v3h-1zM84 101h1v3h-1zM85 98h1v3h-1zM86 95h1v3h-1zM87 93h1v2h-1zM88 90h1v3h-1zM89 87h1v3h-1zM90 84h1v3h-1zM91 81h1v3h-1zM92 79h1v2h-1zM93 76h1v3h-1zM94 73h1v3h-1zM95 71h1v2h-1zM96 68h1v3h-1zM97 65h1v3h-1zM98 63h1v2h-1zM99 61h1v2h-1zM100 60h1v1h-1zM101 59h1v1h-1zM102 58h1v1h-1zM103 56h1v2h-1zM104 55h1v1h-1zM105 54h1v1h-1zM106 53h1v1h-1zM107 52h1v1h-1zM108 51h2v1h-2zM110 50h1v1h-1zM111 49h1v1h-1zM112 48h2v1h-2zM114 47h1v1h-1zM115 46h1v1h-1zM116 47h1v1h-1zM117 48h1v1h-1zM118 49h1v1h-1zM119 50h2v1h-2zM121 51h1v1h-1zM122 52h1v1h-1zM123 53h1v2h-1zM124 55h1v2h-1zM125 57h1v2h-1zM126 59h1v2h-1zM127 61h1v3h-1zM128 64h1v2h-1zM129 66h1v2h-1zM130 68h1v2h-1zM131 70h1v1h-1zM131 71h4v1h-4zM135 72h6v1h-6zM141 73h2v1h-2zM143 74h3v1h-3zM146 75h2v1h-2zM148 76h2v1h-2zM150 77h1v1h-1zM151 78h2v1h-2zM153 79h2v1h-2zM155 80h1v1h-1zM156 81h2v1h-2zM158 82h2v1h-2zM160 83h2v1h-2zM162 84h3v1h-3zM165 85h2v1h-2zM167 86h3v1h-3zM170 87h2v1h-2zM172 88h1v1h-1zM173 89h2v1h-2zM175 90h1v1h-1zM176 91h1v1h-1zM177 92h2v1h-2zM179 93h2v1h-2zM181 94h4v1h-4zM185 95h5v1h-5zM190 94h4v1h-4zM194 93h2v1h-2zM196 92h2v1h-2zM198 91h1v1h-1zM199 90h1v1h-1zM200 89h2v1h-2zM202 88h1v1h-1zM203 87h1v1h-1zM204 86h1v1h-1zM205 85h1v1h-1zM206 84h2v1h-2zM208 83h1v1h-1zM209 82h1v1h-1zM210 81h1v1h-1zM211 80h1v1h-1zM212 79h2v1h-2zM214 78h1v1h-1zM215 77h1v1h-1zM216 76h2v1h-2zM218 75h1v1h-1zM219 74h1v1h-1zM220 73h2v1h-2zM222 72h1v1h-1zM223 71h1v1h-1zM224 70h2v1h-2zM226 69h1v1h-1zM227 68h9v1h-9zM236 69h1v1h-1zM237 70h2v1h-2zM239 71h1v1h-1zM240 72h1v1h-1zM241 73h2v1h-2zM243 74h1v1h-1zM244 75h1v2h-1zM245 77h1v2h-1zM246 79h1v2h-1zM247 81h1v1h-1zM248 82h1v2h-1zM249 84h1v2h-1zM250 86h1v2h-1zM251 88h1v2h-1zM252 90h1v2h-1zM253 92h1v2h-1zM254 94h1v2h-1zM255 96h1v2h-1zM256 98h1v2h-1zM257 100h1v2h-1zM258 102h1v2h-1zM259 104h1v3h-1zM260 107h1v2h-1zM261 109h1v3h-1zM262 112h1v3h-1zM263 115h1v2h-1zM264 117h1v3h-1zM265 120h1v3h-1zM266 123h1v2h-1zM267 125h1v2h-1zM268 127h1v2h-1zM269 129h1v1h-1zM270 130h1v2h-1zM271 132h1v1h-1zM272 133h1v2h-1zM273 135h1v1h-1zM274 136h1v2h-1zM275 138h1v1h-1zM276 139h1v2h-1zM277 141h1v1h-1zM278 142h1v1h-1zM279 143h1v2h-1zM280 145h1v1h-1zM281 146h1v1h-1zM282 147h1v2h-1zM283 149h1v1h-1zM284 150h2v1h-2zM286 151h1v1h-1zM287 152h2v1h-2zM289 153h2v1h-2zM291 154h1v1h-1zM292 155h1v1h-1zM293 156h1v2h-1zM294 158h1v1h-1zM295 159h1v1h-1zM296 160h1v1h-1zM297 161h1v2h-1zM298 163h1v1h-1zM299 164h1v2h-1zM300 166h1v2h-1zM301 168h1v2h-1zM302 170h1v2h-1zM303 172h1v3h-1zM304 175h1v2h-1zM305 177h1v2h-1zM306 179h1v2h-1zM307 181h1v2h-1zM308 183h1v2h-1zM309 185h1v2h-1zM310 187h1v2h-1zM311 189h1v2h-1zM312 191h1v2h-1zM313 193h1v2h-1zM314 195h1v2h-1zM315 197h1v2h-1zM316 199h1v2h-1zM317 201h1v1h-1zM318 202h1v2h-1zM319 204h1v1h-1zM320 205h1v2h-1zM321 207h1v1h-1zM322 208h1v2h-1zM323 210h1v1h-1zM324 211h1v2h-1zM325 213h1v1h-1zM326 214h1v1h-1zM327 215h1v2h-1zM328 217h1v1h-1zM329 218h1v1h-1zM330 219h1v2h-1zM331 221h1v1h-1zM332 222h1v1h-1zM333 223h1v2h-1zM334 225h1v1h-1zM335 226h1v1h-1zM336 227h1v1h-1zM337 228h1v2h-1zM338 230h1v1h-1zM339 231h1v2h-1zM340 233h1v2h-1zM341 235h1v2h-1zM342 237h1v3h-1zM343 240h1v2h-1zM344 242h1v3h-1zM345 245h1v2h-1zM346 247h1v2h-1zM347 249h1v1h-1zM347 250h2v1h-2zM349 251h4v1h-4zM353 252h5v1h-5zM358 251h4v1h-4zM362 250h2v1h-2zM364 249h2v1h-2zM366 248h2v1h-2zM368 247h1v1h-1zM369 246h2v1h-2zM371 245h1v1h-1zM372 244h1v1h-1zM373 243h1v1h-1zM374 242h1v1h-1zM375 240h1v2h-1zM376 239h1v1h-1zM377 238h1v1h-1zM378 237h1v1h-1zM379 236h2v1h-2zM381 235h2v1h-2zM383 234h2v1h-2zM385 233h2v1h-2zM387 232h1v1h-1zM388 231h1v1h-1zM389 230h1v1h-1zM390 229h2v1h-2zM392 228h1v1h-1zM393 227h1v1h-1zM394 226h1v1h-1zM395 225h1v1h-1zM396 224h2v1h-2zM398 223h1v1h-1zM399 222h1v1h-1zM400 221h2v1h-2zM402 220h1v1h-1zM403 219h1v1h-1zM404 218h2v1h-2zM406 217h2v1h-2zM408 216h1v1h-1zM409 215h2v1h-2zM411 214h2v1h-2zM413 213h3v1h-3zM416 212h2v1h-2zM418 211h2v1h-2zM420 209h1v2h-1zM421 207h1v2h-1zM422 205h1v2h-1zM423 204h1v1h-1zM424 202h1v2h-1zM425 200h1v2h-1zM426 198h1v2h-1zM427 197h1v1h-1zM428 195h1v2h-1zM429 193h1v2h-1zM430 192h1v1h-1zM431 190h1v2h-1zM432 189h1v1h-1zM433 187h1v2h-1zM434 185h1v2h-1zM435 184h1v1h-1zM436 183h1v1h-1zM437 182h1v1h-1zM438 181h1v1h-1zM439 180h1v1h-1zM440 179h1v1h-1zM441 178h1v1h-1zM442 177h1v1h-1zM443 176h9v1h-9zM452 175h2v1h-2zM454 174h1v1h-1zM455 173h1v1h-1zM456 172h2v1h-2zM458 171h1v1h-1zM459 170h5v1h-5zM464 169h15v1h-15zM479 170h8v1h-8zM487 171h5v1h-5zM492 172h2v1h-2zM494 173h2v1h-2zM496 174h2v1h-2zM498 175h2v1h-2zM500 176h2v1h-2zM502 177h2v1h-2zM504 178h2v1h-2zM506 179h2v1h-2zM508 178h1v1h-1zM509 177h1v1h-1zM510 176h1v1h-1zM511 175h1v1h-1zM512 174h1v1h-1zM513 173h1v1h-1zM514 172h1v1h-1zM515 171h2v1h-2zM517 170h3v1h-3zM520 169h2v1h-2zM522 168h14v1h-14zM536 167h4v1h-4zM540 165h1v2h-1zM541 163h1v2h-1zM542 162h1v1h-1zM543 160h1v2h-1zM544 159h1v1h-1zM545 157h1v2h-1zM546 155h1v2h-1zM547 154h1v1h-1zM548 152h1v2h-1zM549 150h1v2h-1zM550 148h1v2h-1zM551 147h1v1h-1zM552 145h1v2h-1zM553 143h1v2h-1zM554 141h1v2h-1zM555 140h1v1h-1zM556 139h1v1h-1zM557 138h1v1h-1zM558 137h2v1h-2zM560 136h1v1h-1zM561 135h1v1h-1zM562 134h1v1h-1zM563 133h1v1h-1zM564 132h2v1h-2zM566 131h2v1h-2zM568 130h1v1h-1zM569 129h2v1h-2zM571 128h5v1h-5zM576 127h4v1h-4zM580 128h1v1h-1zM581 129h1v1h-1zM582 130h1v1h-1zM583 131h2v1h-2zM585 132h1v1h-1zM586 133h1v1h-1zM587 134h2v1h-2zM589 135h2v1h-2zM591 136h3v1h-3zM594 137h5v1h-5zM599 138h6v1h-6zM605 139h2v1h-2zM607 140h3v1h-3zM610 141h2v1h-2zM612 142h1v2h-1zM613 144h1v1h-1zM614 145h1v2h-1zM615 147h1v1h-1zM616 148h1v2h-1zM617 150h1v1h-1zM618 151h1v2h-1zM619 153h1v1h-1zM620 154h1v2h-1zM621 156h1v2h-1zM622 158h1v2h-1zM623 160h1v1h-1zM624 161h1v2h-1zM625 163h1v2h-1zM626 165h1v2h-1zM627 167h1v1h-1zM628 168h1v2h-1zM629 170h1v1h-1zM630 171h1v2h-1zM631 173h1v1h-1zM632 174h1v2h-1zM633 176h1v1h-1zM634 177h1v2h-1zM635 179h1v1h-1zM636 180h1v1h-1zM637 181h1v1h-1zM638 182h1v1h-1zM639 183h1v1h-1zM640 184h1v1h-1zM641 185h1v1h-1zM642 186h1v1h-1zM643 187h1v2h-1zM644 189h1v2h-1zM645 191h1v2h-1zM646 193h1v3h-1zM647 196h1v2h-1zM648 198h1v3h-1zM649 201h1v2h-1zM650 203h1v2h-1zM651 205h1v3h-1zM652 208h1v2h-1zM653 210h1v2h-1zM654 212h1v3h-1zM655 215h1v2h-1zM656 217h1v3h-1zM657 220h1v2h-1zM658 222h1v2h-1zM659 224h1v3h-1zM660 227h1v4h-1zM661 231h1v3h-1zM662 234h1v4h-1zM663 238h1v3h-1zM664 241h1v4h-1zM665 245h1v3h-1zM666 248h1v4h-1zM667 252h1v2h-1zM668 254h1v2h-1zM669 256h1v1h-1zM670 257h1v1h-1zM671 258h1v2h-1zM672 260h1v1h-1zM673 261h1v1h-1zM674 262h1v2h-1zM675 264h1v2h-1zM676 266h1v2h-1zM677 268h1v2h-1zM678 270h1v2h-1zM679 272h1v2h-1zM680 274h1v2h-1zM681 276h1v2h-1zM682 278h1v2h-1zM683 280h1v3h-1zM684 283h1v3h-1zM685 286h1v3h-1zM686 289h1v3h-1zM687 292h1v4h-1zM688 296h1v3h-1zM689 299h1v3h-1zM690 302h1v3h-1zM691 305h1v3h-1zM692 308h1v4h-1zM693 312h1v3h-1zM694 315h1v3h-1zM695 318h1v4h-1zM696 322h1v3h-1zM697 325h1v3h-1zM698 328h1v4h-1zM699 332h1v2h-1zM700 334h1v2h-1zM701 336h1v1h-1zM702 337h1v1h-1zM703 338h1v2h-1zM704 340h1v1h-1zM705 341h1v1h-1zM706 342h1v2h-1zM707 344h1v1h-1zM708 345h1v1h-1zM709 346h1v1h-1zM710 347h1v1h-1zM711 348h1v1h-1zM712 349h1v1h-1zM713 350h1v1h-1zM714 351h1v1h-1zM715 352h1v1h-1zM716 353h1v2h-1zM717 355h1v2h-1zM718 357h1v1h-1zM719 358h1v2h-1zM720 360h1v1h-1zM721 361h1v2h-1zM722 363h1v2h-1zM723 365h1v1h-1zM724 366h1v2h-1zM725 368h1v2h-1zM726 370h1v2h-1zM727 372h1v1h-1zM728 373h1v2h-1zM729 375h1v2h-1zM730 377h1v2h-1zM731 379h1v1h-1zM732 380h1v2h-1zM733 382h1v2h-1zM734 384h1v2h-1zM735 386h1v2h-1zM736 388h1v2h-1zM737 390h1v2h-1zM738 392h1v2h-1zM739 394h1v3h-1zM740 397h1v3h-1zM741 400h1v3h-1zM742 403h1v3h-1zM743 406h1v4h-1zM744 410h1v3h-1zM745 413h1v3h-1zM746 416h1v3h-1zM747 419h1v2h-1zM748 421h1v1h-1zM749 422h1v2h-1zM750 424h1v1h-1zM751 425h1v1h-1zM752 426h1v1h-1zM753 427h1v2h-1zM754 429h1v1h-1zM755 430h2v1h-2zM757 431h2v1h-2zM759 432h3v1h-3zM762 433h2v1h-2zM764 434h1v1h-1zM765 435h1v1h-1zM766 436h1v1h-1zM767 437h1v2h-1zM768 439h1v1h-1zM769 440h1v1h-1zM770 441h1v1h-1zM771 442h1v1h-1zM772 443h2v1h-2zM774 444h2v1h-2zM776 445h2v1h-2zM778 446h10v1h-10zM788 444h1v2h-1zM789 443h1v1h-1zM790 442h1v1h-1zM791 440h1v2h-1zM792 439h1v1h-1zM793 438h1v1h-1zM794 436h1v2h-1zM795 435h1v1h-1zM796 434h1v1h-1zM797 432h1v2h-1zM798 431h1v1h-1zM799 430h1v1h-1zM800 429h1v1h-1zM801 427h1v2h-1zM802 426h1v1h-1zM803 425h1v1h-1zM804 424h2v1h-2zM806 423h2v1h-2zM808 422h1v1h-1zM809 421h2v1h-2zM811 420h2v1h-2zM813 419h2v1h-2zM815 418h2v1h-2zM817 417h2v1h-2zM819 416h1v1h-1zM820 415h1v1h-1zM821 414h1v1h-1zM822 413h2v1h-2zM824 412h1v1h-1zM825 411h1v1h-1zM826 410h1v1h-1zM827 408h1v2h-1zM828 406h1v2h-1zM829 403h1v3h-1zM830 400h1v3h-1zM831 398h1v2h-1zM832 395h1v3h-1zM833 392h1v3h-1zM834 390h1v2h-1zM835 387h1v3h-1zM836 384h1v3h-1zM837 381h1v3h-1zM838 378h1v3h-1zM839 375h1v3h-1zM840 372h1v3h-1zM841 369h1v3h-1zM842 366h1v3h-1zM843 364h1v2h-1zM844 362h1v2h-1zM845 360h1v2h-1zM846 358h1v2h-1zM847 357h1v1h-1zM848 355h1v2h-1zM849 353h1v2h-1zM850 351h1v2h-1zM851 350h1v1h-1zM852 349h1v1h-1zM853 348h1v1h-1zM854 347h2v1h-2zM856 346h1v1h-1zM857 345h1v1h-1zM858 344h1v1h-1zM859 343h1v1h-1zM860 342h1v1h-1zM861 341h1v1h-1zM862 340h1v1h-1zM863 338h1v2h-1zM864 337h1v1h-1zM865 336h1v1h-1zM866 335h1v1h-1zM867 334h1v1h-1zM868 333h1v1h-1zM869 332h1v1h-1zM870 331h1v1h-1zM871 329h1v2h-1zM872 328h1v1h-1zM873 327h1v1h-1zM874 326h1v1h-1zM875 325h1v1h-1zM876 324h1v1h-1zM877 323h1v1h-1zM878 322h2v1h-2zM880 321h1v1h-1zM881 320h1v1h-1zM882 319h1v1h-1zM883 318h3v1h-3zM886 317h4v1h-4zM890 316h2v1h-2zM892 317h1v1h-1zM893 318h2v1h-2zM895 319h1v1h-1zM896 320h1v1h-1zM897 321h2v1h-2zM899 322h1v1h-1zM900 323h1v1h-1zM901 324h1v1h-1zM902 325h1v1h-1zM903 326h2v1h-2zM905 327h1v1h-1zM906 328h1v1h-1zM907 329h1v1h-1zM908 330h1v1h-1zM909 331h1v1h-1zM910 332h1v1h-1zM911 333h2v1h-2zM913 334h1v1h-1zM914 335h1v1h-1zM915 336h2v1h-2zM917 337h4v1h-4zM921 338h3v1h-3zM924 336h1v2h-1zM925 335h1v1h-1zM926 334h1v1h-1zM927 332h1v2h-1zM928 331h1v1h-1zM929 330h1v1h-1zM930 328h1v2h-1zM931 327h1v1h-1zM932 326h1v1h-1zM933 325h1v1h-1zM934 324h2v1h-2zM936 323h1v1h-1zM937 322h1v1h-1zM938 321h1v1h-1zM939 320h2v1h-2zM941 319h3v1h-3zM944 318h2v1h-2zM946 317h4v1h-4zM950 316h4v1h-4zM954 315h6v1h-6zM960 314h5v1h-5zM965 315h4v1h-4zM969 316h3v1h-3zM972 317h2v1h-2zM974 318h2v1h-2zM976 319h2v1h-2zM978 320h4v1h-4zM982 319h4v1h-4zM986 318h2v1h-2zM988 317h2v1h-2zM990 316h1v1h-1zM991 315h1v1h-1zM992 314h2v1h-2zM994 313h1v1h-1zM995 312h3v1h-3zM998 311h4v1h-4zM1002 310h4v1h-4zM1006 309h4v1h-4zM1010 308h2v1h-2zM1012 306h1v2h-1zM1013 304h1v2h-1zM1014 302h1v2h-1zM1015 300h1v2h-1zM1016 298h1v2h-1zM1017 296h1v2h-1zM1018 294h1v2h-1zM1019 293h1v1h-1zM1020 291h1v2h-1zM1021 289h1v2h-1zM1022 287h1v2h-1zM1023 285h1v2h-1zM1024 283h1v2h-1zM1025 281h1v2h-1zM1026 279h1v2h-1zM1027 276h1v3h-1zM1028 272h1v4h-1zM1029 268h1v4h-1zM1030 265h1v3h-1zM1031 261h1v4h-1zM1032 258h1v3h-1zM1033 254h1v4h-1zM1034 250h1v4h-1zM1035 248h1v2h-1zM1036 246h1v2h-1zM1037 244h1v2h-1zM1038 242h1v2h-1zM1039 240h1v2h-1zM1040 238h1v2h-1zM1041 236h1v2h-1zM1042 234h1v2h-1zM1043 233h1v1h-1zM1044 231h1v2h-1zM1045 230h1v1h-1zM1046 228h1v2h-1zM1047 227h1v1h-1zM1048 225h1v2h-1zM1049 224h1v1h-1zM1050 222h1v2h-1zM1051 221h1v1h-1zM1052 219h1v2h-1zM1053 217h1v2h-1zM1054 215h1v2h-1zM1055 213h1v2h-1zM1056 211h1v2h-1zM1057 209h1v2h-1zM1058 207h1v2h-1zM1059 206h3v1h-3zM1062 205h4v1h-4zM1066 204h2v1h-2zM1068 203h1v1h-1zM1069 202h1v1h-1zM1070 201h2v1h-2zM1072 200h1v1h-1zM1073 199h1v1h-1zM1074 198h1v1h-1zM1075 197h10v1h-10zM1085 196h3v1h-3zM1088 195h2v1h-2zM1090 194h19v1h-19zM1109 195h4v1h-4zM1113 196h4v1h-4zM1117 197h4v1h-4zM1121 198h3v1h-3zM1124 199h2v1h-2zM1126 200h2v1h-2zM1128 201h2v1h-2zM1130 202h3v1h-3zM1133 203h2v1h-2zM1135 204h3v1h-3zM1138 205h27v1h-27zM1165 206h4v1h-4zM1169 207h5v1h-5zM1174 206h4v1h-4zM1178 205h5v1h-5zM1183 206h5v1h-5zM1188 207h1v2h-1zM1189 209h1v2h-1zM1190 211h1v1h-1zM1191 212h1v2h-1zM1192 214h1v1h-1zM1193 215h1v2h-1zM1194 217h1v2h-1zM1195 219h1v1h-1zM1196 220h1v1h-1zM1197 221h2v1h-2zM1199 222h1v1h-1zM1200 223h1v1h-1zM1201 224h2v1h-2z"/><path fill="#3cb371" d="M3 336h1v1h-1zM4 335h1v1h-1zM5 334h1v1h-1zM6 333h2v1h-2zM8 332h1v1h-1zM9 331h1v1h-1zM10 330h1v1h-1zM11 329h2v1h-2zM13 328h2v1h-2zM15 327h2v1h-2zM17 326h2v1h-2zM19 325h1v1h-1zM20 324h2v1h-2zM22 323h1v1h-1zM23 322h1v1h-1zM24 321h2v1h-2zM26 320h1v1h-1zM27 319h1v1h-1zM28 318h1v1h-1zM29 317h1v1h-1zM30 316h1v1h-1zM31 315h1v1h-1zM32 314h1v1h-1zM33 313h1v1h-1zM34 312h1v1h-1zM35 311h1v1h-1zM36 310h2v1h-2zM38 309h1v1h-1zM39 308h1v1h-1zM40 307h2v1h-2zM42 306h1v1h-1zM43 305h2v1h-2zM45 304h3v1h-3zM48 303h2v1h-2zM50 302h3v1h-3zM53 301h2v1h-2zM55 300h2v1h-2zM57 299h2v1h-2zM59 298h1v1h-1zM60 297h2v1h-2zM62 296h2v1h-2zM64 295h1v1h-1zM65 294h2v1h-2zM67 293h1v1h-1zM68 292h1v1h-1zM69 291h1v1h-1zM70 290h1v1h-1zM71 288h1v2h-1zM72 287h1v1h-1zM73 286h1v1h-1zM74 285h1v1h-1zM75 284h1v1h-1zM76 282h1v2h-1zM77 281h1v1h-1zM78 279h1v2h-1zM79 278h1v1h-1zM80 276h1v2h-1zM81 275h1v1h-1zM82 273h1v2h-1zM83 272h1v1h-1zM84 270h1v2h-1zM85 268h1v2h-1zM86 266h1v2h-1zM87 265h1v1h-1zM88 263h1v2h-1zM89 261h1v2h-1zM90 259h1v2h-1zM91 258h1v1h-1zM92 256h1v2h-1zM93 254h1v2h-1zM94 252h1v2h-1zM95 250h1v2h-1zM96 248h1v2h-1zM97 246h1v2h-1zM98 244h1v2h-1zM99 243h1v1h-1zM100 241h1v2h-1zM101 239h1v2h-1zM102 238h1v1h-1zM103 236h1v2h-1zM104 235h1v1h-1zM105 233h1v2h-1zM106 231h1v2h-1zM107 230h1v1h-1zM108 229h1v1h-1zM109 227h1v2h-1zM110 226h1v1h-1zM111 225h1v1h-1zM112 224h1v1h-1zM113 222h1v2h-1zM114 221h1v1h-1zM115 220h1v1h-1zM116 219h1v1h-1zM117 217h1v2h-1zM118 216h1v1h-1zM119 215h1v1h-1zM120 214h1v1h-1zM121 212h1v2h-1zM122 211h1v1h-1zM123 210h1v1h-1zM124 208h1v2h-1zM125 207h1v1h-1zM126 206h1v1h-1zM127 204h1v2h-1zM128 203h1v1h-1zM129 202h1v1h-1zM130 200h1v2h-1zM131 199h1v1h-1zM132 198h2v1h-2zM134 197h2v1h-2zM136 196h1v1h-1zM137 195h2v1h-2zM139 194h1v1h-1zM140 193h2v1h-2zM142 192h2v1h-2zM144 191h1v1h-1zM145 190h2v1h-2zM147 189h1v1h-1zM148 188h1v1h-1zM149 187h1v1h-1zM150 186h2v1h-2zM152 185h1v1h-1zM153 184h1v1h-1zM154 183h1v1h-1zM155 182h2v1h-2zM157 181h3v1h-3zM160 180h2v1h-2zM162 179h4v1h-4zM166 178h4v1h-4zM170 177h3v1h-3zM173 176h3v1h-3zM176 175h2v1h-2zM178 174h6v1h-6zM184 173h7v1h-7zM191 174h5v1h-5zM196 175h2v1h-2zM198 176h2v1h-2zM200 177h2v1h-2zM202 178h2v1h-2zM204 179h2v1h-2zM206 180h1v1h-1zM207 181h2v1h-2zM209 182h2v1h-2zM211 183h1v1h-1zM212 184h2v1h-2zM214 185h1v1h-1zM215 186h2v1h-2zM217 187h2v1h-2zM219 188h1v1h-1zM220 189h1v1h-1zM221 190h2v1h-2zM223 191h1v1h-1zM224 192h1v1h-1zM225 193h2v1h-2zM227 194h1v1h-1zM228 195h1v1h-1zM229 196h1v1h-1zM230 197h1v1h-1zM231 198h1v1h-1zM232 199h1v1h-1zM233 200h1v1h-1zM234 201h1v1h-1zM235 202h1v1h-1zM236 203h1v1h-1zM237 204h1v1h-1zM238 205h1v1h-1zM239 206h1v1h-1zM240 207h1v1h-1zM241 208h1v1h-1zM242 209h1v1h-1zM243 210h1v1h-1zM244 211h1v2h-1zM245 213h1v1h-1zM246 214h1v1h-1zM247 215h1v2h-1zM248 217h1v1h-1zM249 218h1v1h-1zM250 219h1v2h-1zM251 221h1v1h-1zM252 222h1v2h-1zM253 224h1v2h-1zM254 226h1v1h-1zM255 227h1v2h-1zM256 229h1v1h-1zM257 230h1v2h-1zM258 232h1v2h-1zM259 234h1v1h-1zM260 235h1v1h-1zM261 236h1v1h-1zM262 237h1v1h-1zM263 238h1v1h-1zM264 239h1v1h-1zM265 240h1v1h-1zM266 241h1v1h-1zM267 242h1v1h-1zM268 243h1v1h-1zM269 244h1v1h-1zM270 245h1v1h-1zM271 246h2v1h-2zM273 247h1v1h-1zM274 248h1v1h-1zM275 249h1v1h-1zM276 250h1v1h-1zM277 251h1v1h-1zM278 252h1v1h-1zM279 253h2v1h-2zM281 254h1v1h-1zM282 255h1v1h-1zM283 256h1v1h-1zM284 257h2v1h-2zM286 258h1v1h-1zM287 259h2v1h-2zM289 260h2v1h-2zM291 261h1v1h-1zM292 262h1v1h-1zM293 263h1v1h-1zM294 264h1v1h-1zM295 265h2v1h-2zM297 266h1v1h-1zM298 267h1v1h-1zM299 268h1v1h-1zM300 269h1v1h-1zM301 270h1v1h-1zM302 271h1v1h-1zM303 272h2v1h-2zM305 273h1v1h-1zM306 274h1v1h-1zM307 275h1v1h-1zM308 276h1v1h-1zM309 277h2v1h-2zM311 278h1v1h-1zM312 279h1v1h-1zM313 280h2v1h-2zM315 281h2v1h-2zM317 282h2v1h-2zM319 283h3v1h-3zM322 284h2v1h-2zM324 285h2v1h-2zM326 286h2v1h-2zM328 287h2v1h-2zM330 288h2v1h-2zM332 289h2v1h-2zM334 290h2v1h-2zM336 291h2v1h-2zM338 292h2v1h-2zM340 293h2v1h-2zM342 294h2v1h-2zM344 295h2v1h-2zM346 296h20v1h-20zM366 295h4v1h-4zM370 294h3v1h-3zM373 293h3v1h-3zM376 292h2v1h-2zM378 291h3v1h-3zM381 290h3v1h-3zM384 289h2v1h-2zM386 288h3v1h-3zM389 287h3v1h-3zM392 286h2v1h-2zM394 285h3v1h-3zM397 284h3v1h-3zM400 283h2v1h-2zM402 282h3v1h-3zM405 281h2v1h-2zM407 280h2v1h-2zM409 279h2v1h-2zM411 278h1v1h-1zM412 277h2v1h-2zM414 276h1v1h-1zM415 275h1v1h-1zM416 274h2v1h-2zM418 273h1v1h-1zM419 272h2v1h-2zM421 271h2v1h-2zM423 270h2v1h-2zM425 269h2v1h-2zM427 268h1v1h-1zM428 267h2v1h-2zM430 266h1v1h-1zM431 265h1v1h-1zM432 264h2v1h-2zM434 263h1v1h-1zM435 262h1v1h-1zM436 261h2v1h-2zM438 260h2v1h-2zM440 259h1v1h-1zM441 258h2v1h-2zM443 257h1v1h-1zM444 256h2v1h-2zM446 255h2v1h-2zM448 254h1v1h-1zM449 253h2v1h-2zM451 252h1v1h-1zM452 251h2v1h-2zM454 250h1v1h-1zM455 249h1v1h-1zM456 248h2v1h-2zM458 247h1v1h-1zM459 246h1v1h-1zM460 245h2v1h-2zM462 244h1v1h-1zM463 243h1v1h-1zM464 242h2v1h-2zM466 241h1v1h-1zM467 240h2v1h-2zM469 239h2v1h-2zM471 238h2v1h-2zM473 237h2v1h-2zM475 236h5v1h-5zM480 235h6v1h-6zM486 234h4v1h-4zM490 233h3v1h-3zM493 232h3v1h-3zM496 231h2v1h-2zM498 230h3v1h-3zM501 229h2v1h-2zM503 228h2v1h-2zM505 227h2v1h-2zM507 226h2v1h-2zM509 227h2v1h-2zM511 228h3v1h-3zM514 229h5v1h-5zM519 230h14v1h-14zM533 231h2v1h-2zM535 232h3v1h-3zM538 233h2v1h-2zM540 234h2v1h-2zM542 235h2v1h-2zM544 236h2v1h-2zM546 237h2v1h-2zM548 238h1v1h-1zM549 239h1v1h-1zM550 240h1v1h-1zM551 241h2v1h-2zM553 242h1v1h-1zM554 243h1v1h-1zM555 244h1v1h-1zM556 245h1v1h-1zM557 246h1v1h-1zM558 247h1v1h-1zM559 248h2v1h-2zM561 249h1v1h-1zM562 250h1v1h-1zM563 251h1v1h-1zM564 252h1v1h-1zM565 253h1v1h-1zM566 254h1v1h-1zM567 255h1v1h-1zM568 256h1v1h-1zM569 257h1v1h-1zM570 258h1v1h-1zM571 259h1v1h-1zM572 260h1v1h-1zM573 261h1v1h-1zM574 262h1v1h-1zM575 263h1v1h-1zM576 264h1v1h-1zM577 265h1v1h-1zM578 266h1v1h-1zM579 267h1v1h-1zM580 268h1v1h-1zM581 269h1v1h-1zM582 270h1v1h-1zM583 271h1v1h-1zM584 272h1v1h-1zM585 273h1v1h-1zM586 274h1v1h-1zM587 275h1v1h-1zM588 276h1v2h-1zM589 278h1v2h-1zM590 280h1v1h-1zM591 281h1v2h-1zM592 283h1v1h-1zM593 284h1v2h-1zM594 286h1v2h-1zM595 288h1v1h-1zM596 289h1v2h-1zM597 291h1v2h-1zM598 293h1v2h-1zM599 295h1v1h-1zM600 296h1v2h-1zM601 298h1v2h-1zM602 300h1v2h-1zM603 302h1v1h-1zM604 303h1v1h-1zM605 304h1v2h-1zM606 306h1v1h-1zM607 307h1v1h-1zM608 308h1v1h-1zM609 309h1v2h-1zM610 311h1v1h-1zM611 312h1v1h-1zM612 313h1v2h-1zM613 315h1v2h-1zM614 317h1v2h-1zM615 319h1v1h-1zM616 320h1v2h-1zM617 322h1v2h-1zM618 324h1v2h-1zM619 326h1v1h-1zM620 327h1v2h-1zM621 329h1v1h-1zM622 330h1v2h-1zM623 332h1v1h-1zM624 333h1v2h-1zM625 335h1v1h-1zM626 336h1v2h-1zM627 338h1v1h-1zM628 339h1v2h-1zM629 341h1v2h-1zM630 343h1v2h-1zM631 345h1v2h-1zM632 347h1v2h-1zM633 349h1v2h-1zM634 351h1v2h-1zM635 353h1v1h-1zM636 354h1v1h-1zM637 355h1v2h-1zM638 357h1v1h-1zM639 358h1v1h-1zM640 359h1v1h-1zM641 360h1v2h-1zM642 362h1v1h-1zM643 363h1v1h-1zM644 364h1v2h-1zM645 366h1v2h-1zM646 368h1v1h-1zM647 369h1v2h-1zM648 371h1v1h-1zM649 372h1v2h-1zM650 374h1v2h-1zM651 376h1v1h-1zM652 377h1v2h-1zM653 379h1v1h-1zM654 380h1v2h-1zM655 382h1v1h-1zM656 383h1v2h-1zM657 385h1v1h-1zM658 386h1v2h-1zM659 388h1v1h-1zM660 389h1v2h-1zM661 391h1v2h-1zM662 393h1v2h-1zM663 395h1v1h-1zM664 396h1v2h-1zM665 398h1v2h-1zM666 400h1v2h-1zM667 402h1v1h-1zM668 403h1v1h-1zM669 404h1v1h-1zM670 405h1v1h-1zM671 406h1v2h-1zM672 408h1v1h-1zM673 409h1v1h-1zM674 410h1v1h-1zM675 411h1v1h-1zM676 412h1v2h-1zM677 414h1v1h-1zM678 415h1v2h-1zM679 417h1v1h-1zM680 418h1v2h-1zM681 420h1v1h-1zM682 421h1v2h-1zM683 423h1v1h-1zM684 424h1v2h-1zM685 426h1v2h-1zM686 428h1v1h-1zM687 429h1v2h-1zM688 431h1v1h-1zM689 432h1v2h-1zM690 434h1v2h-1zM691 436h1v1h-1zM692 437h1v2h-1zM693 439h1v2h-1zM694 441h1v2h-1zM695 443h1v1h-1zM696 444h1v2h-1zM697 446h1v2h-1zM698 448h1v2h-1zM699 450h1v1h-1zM700 451h1v1h-1zM701 452h1v2h-1zM702 454h1v1h-1zM703 455h1v1h-1zM704 456h1v1h-1zM705 457h1v2h-1zM706 459h1v1h-1zM707 460h1v1h-1zM708 461h1v1h-1zM709 462h1v1h-1zM710 463h1v1h-1zM711 464h1v1h-1zM712 465h1v1h-1zM713 466h1v1h-1zM714 467h1v1h-1zM715 468h1v1h-1zM716 469h1v1h-1zM717 470h1v1h-1zM718 471h1v1h-1zM719 472h1v1h-1zM720 473h1v1h-1zM721 474h1v1h-1zM722 475h1v1h-1zM723 476h1v1h-1zM724 477h1v1h-1zM725 478h1v1h-1zM726 479h1v1h-1zM727 480h1v1h-1zM728 481h1v1h-1zM729 482h1v1h-1zM730 483h1v1h-1zM731 484h1v1h-1zM732 485h1v1h-1zM733 486h1v2h-1zM734 488h1v1h-1zM735 489h1v1h-1zM736 490h1v1h-1zM737 491h1v2h-1zM738 493h1v1h-1zM739 494h1v1h-1zM740 495h1v1h-1zM741 496h1v2h-1zM742 498h1v1h-1zM743 499h1v1h-1zM744 500h1v1h-1zM745 501h1v2h-1zM746 503h1v1h-1zM747 504h1v1h-1zM748 505h2v1h-2zM750 506h1v1h-1zM751 507h2v1h-2zM753 508h2v1h-2zM755 509h2v1h-2zM757 510h4v1h-4zM761 511h4v1h-4zM765 512h4v1h-4zM769 513h4v1h-4zM773 514h4v1h-4zM777 515h7v1h-7zM784 514h6v1h-6zM790 513h4v1h-4zM794 512h3v1h-3zM797 511h3v1h-3zM800 510h2v1h-2zM802 509h4v1h-4zM806 508h4v1h-4zM810 507h6v1h-6zM816 506h5v1h-5zM821 505h3v1h-3zM824 504h2v1h-2zM826 503h2v1h-2zM828 502h2v1h-2zM830 501h1v1h-1zM831 500h1v1h-1zM832 499h2v1h-2zM834 498h1v1h-1zM835 497h1v1h-1zM836 496h1v1h-1zM837 495h1v1h-1zM838 494h1v1h-1zM839 493h1v1h-1zM840 492h1v1h-1zM841 491h1v1h-1zM842 490h1v1h-1zM843 489h1v1h-1zM844 488h1v1h-1zM845 487h1v1h-1zM846 486h2v1h-2zM848 485h1v1h-1zM849 484h1v1h-1zM850 483h1v1h-1zM851 482h1v1h-1zM852 481h1v1h-1zM853 480h1v1h-1zM854 479h1v1h-1zM855 478h1v1h-1zM856 477h1v1h-1zM857 476h1v1h-1zM858 475h1v1h-1zM859 474h1v1h-1zM860 473h1v1h-1zM861 472h1v1h-1zM862 471h1v1h-1zM863 470h1v1h-1zM864 469h1v1h-1zM865 468h1v1h-1zM866 467h1v1h-1zM867 466h1v1h-1zM868 465h1v1h-1zM869 464h1v1h-1zM870 463h1v1h-1zM871 462h1v1h-1zM872 461h1v1h-1zM873 460h1v1h-1zM874 459h1v1h-1zM875 458h1v1h-1zM876 457h1v1h-1zM877 456h1v1h-1zM878 455h1v1h-1zM879 454h1v1h-1zM880 453h1v1h-1zM881 452h1v1h-1zM882 451h1v1h-1zM883 450h1v1h-1zM884 449h1v1h-1zM885 448h1v1h-1zM886 447h1v1h-1zM887 446h1v1h-1zM888 445h1v1h-1zM889 444h1v1h-1zM890 443h1v1h-1zM891 442h1v1h-1zM892 441h1v1h-1zM893 440h1v1h-1zM894 439h1v1h-1zM895 438h1v1h-1zM896 437h1v1h-1zM897 436h1v1h-1zM898 435h1v1h-1zM899 434h1v1h-1zM900 433h1v1h-1zM901 432h1v1h-1zM902 431h2v1h-2zM904 430h1v1h-1zM905 429h1v1h-1zM906 428h1v1h-1zM907 427h1v1h-1zM908 426h1v1h-1zM909 425h1v1h-1zM910 424h2v1h-2zM912 423h1v1h-1zM913 422h1v1h-1zM914 421h1v1h-1zM915 420h1v1h-1zM916 419h1v1h-1zM917 418h1v1h-1zM918 417h2v1h-2zM920 416h1v1h-1zM921 415h1v1h-1zM922 414h1v1h-1zM923 413h1v1h-1zM924 412h1v1h-1zM925 411h1v1h-1zM926 410h1v1h-1zM927 408h1v2h-1zM928 407h1v1h-1zM929 406h1v1h-1zM930 405h1v1h-1zM931 404h1v1h-1zM932 403h1v1h-1zM933 402h1v1h-1zM934 401h1v1h-1zM935 399h1v2h-1zM936 398h1v1h-1zM937 397h1v1h-1zM938 396h1v1h-1zM939 395h2v1h-2zM941 394h2v1h-2zM943 393h2v1h-2zM945 392h2v1h-2zM947 391h2v1h-2zM949 390h2v1h-2zM951 389h2v1h-2zM953 388h2v1h-2zM955 387h2v1h-2zM957 386h3v1h-3zM960 385h2v1h-2zM962 384h3v1h-3zM965 383h2v1h-2zM967 382h2v1h-2zM969 381h2v1h-2zM971 380h2v1h-2zM973 379h2v1h-2zM975 378h2v1h-2zM977 377h2v1h-2zM979 376h1v1h-1zM980 375h2v1h-2zM982 374h2v1h-2zM984 373h1v1h-1zM985 372h2v1h-2zM987 371h2v1h-2zM989 370h3v1h-3zM992 369h2v1h-2zM994 368h6v1h-6zM1000 367h8v1h-8zM1008 366h4v1h-4zM1012 365h1v1h-1zM1013 364h1v1h-1zM1014 363h2v1h-2zM1016 362h1v1h-1zM1017 361h1v1h-1zM1018 360h1v1h-1zM1019 359h1v1h-1zM1020 358h2v1h-2zM1022 357h1v1h-1zM1023 356h1v1h-1zM1024 355h2v1h-2zM1026 354h1v1h-1zM1027 353h1v1h-1zM1028 352h1v1h-1zM1029 351h1v1h-1zM1030 350h1v1h-1zM1031 349h1v1h-1zM1032 348h1v1h-1zM1033 347h1v1h-1zM1034 346h1v1h-1zM1035 345h1v1h-1zM1036 344h2v1h-2zM1038 343h1v1h-1zM1039 342h1v1h-1zM1040 341h2v1h-2zM1042 340h1v1h-1zM1043 339h1v1h-1zM1044 338h1v1h-1zM1045 337h1v1h-1zM1046 336h1v1h-1zM1047 335h1v1h-1zM1048 334h1v1h-1zM1049 333h1v1h-1zM1050 332h1v1h-1zM1051 331h1v1h-1zM1052 330h1v1h-1zM1053 328h1v2h-1zM1054 327h1v1h-1zM1055 326h1v1h-1zM1056 325h1v1h-1zM1057 323h1v2h-1zM1058 322h1v1h-1zM1059 321h1v1h-1zM1060 320h2v1h-2zM1062 319h1v1h-1zM1063 318h1v1h-1zM1064 317h2v1h-2zM1066 316h1v1h-1zM1067 315h1v1h-1zM1068 314h1v1h-1zM1069 313h1v1h-1zM1070 312h1v1h-1zM1071 311h1v1h-1zM1072 310h1v1h-1zM1073 309h1v1h-1zM1074 308h1v1h-1zM1075 307h1v1h-1zM1076 306h2v1h-2zM1078 305h2v1h-2zM1080 304h1v1h-1zM1081 303h2v1h-2zM1083 302h3v1h-3zM1086 301h4v1h-4zM1090 300h6v1h-6zM1096 299h6v1h-6zM1102 298h4v1h-4zM1106 297h3v1h-3zM1109 296h3v1h-3zM1112 295h2v1h-2zM1114 294h6v1h-6zM1120 293h5v1h-5zM1125 292h3v1h-3zM1128 291h2v1h-2zM1130 290h4v1h-4zM1134 289h4v1h-4zM1138 288h5v1h-5zM1143 289h9v1h-9zM1152 288h14v1h-14zM1166 287h4v1h-4zM1170 286h2v1h-2zM1172 287h2v1h-2zM1174 288h1v1h-1zM1175 289h2v1h-2zM1177 290h2v1h-2zM1179 291h1v1h-1zM1180 292h2v1h-2zM1182 293h2v1h-2zM1184 294h2v1h-2zM1186 295h2v1h-2zM1188 296h1v1h-1zM1189 297h1v1h-1zM1190 298h1v1h-1zM1191 299h2v1h-2zM1193 300h1v1h-1zM1194 301h1v1h-1zM1195 302h1v1h-1zM1196 303h2v1h-2zM1198 304h1v1h-1zM1199 305h2v1h-2zM1201 306h2v1h-2z"/><path fill="#3cb371" d="M3 428h5v1h-5zM8 427h5v1h-5zM13 426h2v1h-2zM15 425h2v1h-2zM17 424h2v1h-2zM19 423h4v1h-4zM23 424h9v1h-9zM32 423h4v1h-4zM36 424h1v1h-1zM37 425h1v1h-1zM38 426h1v1h-1zM39 427h2v1h-2zM41 428h1v1h-1zM42 429h1v1h-1zM43 430h1v1h-1zM44 431h2v1h-2zM46 432h2v1h-2zM48 433h2v1h-2zM50 434h2v1h-2zM52 435h2v1h-2zM54 436h2v1h-2zM56 437h2v1h-2zM58 438h3v1h-3zM61 439h2v1h-2zM63 440h3v1h-3zM66 441h5v1h-5zM71 442h5v1h-5zM76 441h2v1h-2zM78 440h2v1h-2zM80 439h1v1h-1zM81 438h2v1h-2zM83 437h3v1h-3zM86 436h4v1h-4zM90 435h2v1h-2zM92 434h1v1h-1zM93 433h1v1h-1zM94 432h1v1h-1zM95 430h1v2h-1zM96 429h1v1h-1zM97 428h1v1h-1zM98 427h1v1h-1zM99 425h1v2h-1zM100 423h1v2h-1zM101 421h1v2h-1zM102 419h1v2h-1zM103 416h1v3h-1zM104 414h1v2h-1zM105 412h1v2h-1zM106 410h1v2h-1zM107 408h1v2h-1zM108 406h1v2h-1zM109 404h1v2h-1zM110 403h1v1h-1zM111 401h1v2h-1zM112 400h1v1h-1zM113 398h1v2h-1zM114 396h1v2h-1zM115 394h1v2h-1zM116 390h1v4h-1zM117 386h1v4h-1zM118 383h1v3h-1zM119 379h1v4h-1zM120 376h1v3h-1zM121 372h1v4h-1zM122 368h1v4h-1zM123 364h1v4h-1zM124 360h1v4h-1zM125 355h1v5h-1zM126 350h1v5h-1zM127 346h1v4h-1zM128 341h1v5h-1zM129 336h1v5h-1zM130 332h1v4h-1zM131 329h1v3h-1zM132 327h1v2h-1zM133 325h1v2h-1zM134 323h1v2h-1zM135 322h1v1h-1zM136 320h1v2h-1zM137 318h1v2h-1zM138 316h1v2h-1zM139 314h1v2h-1zM140 312h1v2h-1zM141 310h1v2h-1zM142 308h1v2h-1zM143 306h1v2h-1zM144 304h1v2h-1zM145 302h1v2h-1zM146 300h1v2h-1zM147 298h1v2h-1zM148 296h1v2h-1zM149 294h1v2h-1zM150 292h1v2h-1zM151 291h1v1h-1zM152 289h1v2h-1zM153 287h1v2h-1zM154 285h1v2h-1zM155 284h1v1h-1zM156 283h1v1h-1zM157 281h1v2h-1zM158 280h1v1h-1zM159 279h1v1h-1zM160 278h1v1h-1zM161 276h1v2h-1zM162 275h1v1h-1zM163 274h1v1h-1zM164 273h1v1h-1zM165 272h1v1h-1zM166 271h2v1h-2zM168 270h1v1h-1zM169 269h1v1h-1zM170 268h1v1h-1zM171 267h1v1h-1zM172 265h1v2h-1zM173 264h1v1h-1zM174 262h1v2h-1zM175 261h1v1h-1zM176 259h1v2h-1zM177 258h1v1h-1zM178 256h1v2h-1zM179 255h2v1h-2zM181 254h2v1h-2zM183 253h2v1h-2zM185 252h2v1h-2zM187 251h1v1h-1zM188 252h2v1h-2zM190 253h2v1h-2zM192 254h2v1h-2zM194 255h2v1h-2zM196 256h1v2h-1zM197 258h1v2h-1zM198 260h1v2h-1zM199 262h1v1h-1zM200 263h1v2h-1zM201 265h1v2h-1zM202 267h1v2h-1zM203 269h1v2h-1zM204 271h1v2h-1zM205 273h1v2h-1zM206 275h1v2h-1zM207 277h1v2h-1zM208 279h1v2h-1zM209 281h1v2h-1zM210 283h1v2h-1zM211 285h1v2h-1zM212 287h1v2h-1zM213 289h1v2h-1zM214 291h1v2h-1zM215 293h1v2h-1zM216 295h1v2h-1zM217 297h1v2h-1zM218 299h1v2h-1zM219 301h1v3h-1zM220 304h1v2h-1zM221 306h1v2h-1zM222 308h1v2h-1zM223 310h1v2h-1zM224 312h1v2h-1zM225 314h1v2h-1zM226 316h1v2h-1zM227 318h1v2h-1zM228 320h1v2h-1zM229 322h1v2h-1zM230 324h1v2h-1zM231 326h1v2h-1zM232 328h1v2h-1zM233 330h1v2h-1zM234 332h1v2h-1zM235 334h1v2h-1zM236 336h1v1h-1zM237 337h1v2h-1zM238 339h1v1h-1zM239 340h1v1h-1zM240 341h1v1h-1zM241 342h1v2h-1zM242 344h1v1h-1zM243 345h1v1h-1zM244 346h1v1h-1zM245 347h1v1h-1zM246 348h1v1h-1zM247 349h1v1h-1zM248 350h1v1h-1zM249 351h1v1h-1zM250 352h1v1h-1zM251 353h1v1h-1zM252 354h1v1h-1zM253 355h1v1h-1zM254 356h1v1h-1zM255 357h1v2h-1zM256 359h1v1h-1zM257 360h1v1h-1zM258 361h1v1h-1zM259 362h2v1h-2zM261 361h2v1h-2zM263 360h2v1h-2zM265 359h2v1h-2zM267 358h4v1h-4zM271 359h6v1h-6zM277 360h2v1h-2zM279 361h3v1h-3zM282 362h2v1h-2zM284 363h1v1h-1zM285 364h2v1h-2zM287 365h1v1h-1zM288 366h1v1h-1zM289 367h2v1h-2zM291 368h2v1h-2zM293 369h2v1h-2zM295 370h3v1h-3zM298 371h3v1h-3zM301 370h3v1h-3zM304 369h2v1h-2zM306 368h2v1h-2zM308 367h2v1h-2zM310 366h2v1h-2zM312 365h1v1h-1zM313 364h2v1h-2zM315 363h2v1h-2zM317 362h3v1h-3zM320 361h2v1h-2zM322 360h2v1h-2zM324 359h2v1h-2zM326 358h2v1h-2zM328 357h1v1h-1zM329 356h2v1h-2zM331 355h2v1h-2zM333 354h3v1h-3zM336 353h2v1h-2zM338 352h2v1h-2zM340 350h1v2h-1zM341 349h1v1h-1zM342 348h1v1h-1zM343 346h1v2h-1zM344 345h1v1h-1zM345 344h1v1h-1zM346 342h1v2h-1zM347 341h18v1h-18zM365 342h4v1h-4zM369 343h4v1h-4zM373 344h2v1h-2zM375 345h3v1h-3zM378 346h4v1h-4zM382 345h4v1h-4zM386 344h5v1h-5zM391 345h8v1h-8zM399 346h6v1h-6zM405 345h2v1h-2zM407 344h2v1h-2zM409 343h2v1h-2zM411 342h1v1h-1zM412 341h1v1h-1zM413 339h1v2h-1zM414 338h1v1h-1zM415 337h1v1h-1zM416 336h1v1h-1zM417 334h1v2h-1zM418 333h1v1h-1zM419 332h1v1h-1zM420 333h2v1h-2zM422 334h1v1h-1zM423 335h2v1h-2zM425 336h2v1h-2zM427 337h2v1h-2zM429 338h2v1h-2zM431 339h3v1h-3zM434 340h3v1h-3zM437 339h3v1h-3zM440 338h2v1h-2zM442 337h2v1h-2zM444 336h1v1h-1zM445 335h1v1h-1zM446 334h1v1h-1zM447 333h1v1h-1zM448 332h1v1h-1zM449 331h1v1h-1zM450 330h1v1h-1zM451 329h1v1h-1zM452 328h1v1h-1zM453 327h1v1h-1zM454 326h1v1h-1zM455 325h1v1h-1zM456 324h1v1h-1zM457 323h1v1h-1zM458 322h1v1h-1zM459 321h1v1h-1zM460 320h1v1h-1zM461 318h1v2h-1zM462 317h1v1h-1zM463 316h1v1h-1zM464 315h1v1h-1zM465 313h1v2h-1zM466 312h1v1h-1zM467 311h1v1h-1zM468 310h1v1h-1zM469 309h1v1h-1zM470 308h1v1h-1zM471 307h1v1h-1zM472 306h1v1h-1zM473 305h1v1h-1zM474 304h1v1h-1zM475 303h2v1h-2zM477 302h3v1h-3zM480 301h2v1h-2zM482 300h2v1h-2zM484 299h2v1h-2zM486 298h2v1h-2zM488 297h1v1h-1zM489 296h2v1h-2zM491 295h1v1h-1zM492 294h1v1h-1zM493 292h1v2h-1zM494 291h1v1h-1zM495 290h1v1h-1zM496 289h1v1h-1zM497 287h1v2h-1zM498 286h1v1h-1zM499 285h1v1h-1zM500 283h1v2h-1zM501 282h1v1h-1zM502 280h1v2h-1zM503 279h1v1h-1zM504 277h1v2h-1zM505 276h1v1h-1zM506 274h1v2h-1zM507 273h1v1h-1zM508 274h1v2h-1zM509 276h1v2h-1zM510 278h1v2h-1zM511 280h1v1h-1zM512 281h1v2h-1zM513 283h1v2h-1zM514 285h1v2h-1zM515 287h1v1h-1zM516 288h2v1h-2zM518 289h1v1h-1zM519 290h2v1h-2zM521 291h2v1h-2zM523 292h4v1h-4zM527 293h5v1h-5zM532 294h2v1h-2zM534 295h1v1h-1zM535 296h2v1h-2zM537 297h2v1h-2zM539 298h1v2h-1zM540 300h1v3h-1zM541 303h1v3h-1zM542 306h1v3h-1zM543 309h1v2h-1zM544 311h1v3h-1zM545 314h1v3h-1zM546 317h1v3h-1zM547 320h1v3h-1zM548 323h1v4h-1zM549 327h1v3h-1zM550 330h1v4h-1zM551 334h1v3h-1zM552 337h1v4h-1zM553 341h1v3h-1zM554 344h1v4h-1zM555 348h1v3h-1zM556 351h1v2h-1zM557 353h1v3h-1zM558 356h1v3h-1zM559 359h1v2h-1zM560 361h1v3h-1zM561 364h1v3h-1zM562 367h1v2h-1zM563 369h1v3h-1zM564 372h1v2h-1zM565 374h1v2h-1zM566 376h1v3h-1zM567 379h1v2h-1zM568 381h1v3h-1zM569 384h1v2h-1zM570 386h1v2h-1zM571 388h1v3h-1zM572 391h1v2h-1zM573 393h1v2h-1zM574 395h1v2h-1zM575 397h1v2h-1zM576 399h1v2h-1zM577 401h1v2h-1zM578 403h1v2h-1zM579 405h1v2h-1zM580 407h1v1h-1zM581 408h1v2h-1zM582 410h1v1h-1zM583 411h1v1h-1zM584 412h1v1h-1zM585 413h1v2h-1zM586 415h1v1h-1zM587 416h1v2h-1zM588 418h1v3h-1zM589 421h1v2h-1zM590 423h1v3h-1zM591 426h1v3h-1zM592 429h1v3h-1zM593 432h1v2h-1zM594 434h1v3h-1zM595 437h1v3h-1zM596 440h1v3h-1zM597 443h1v4h-1zM598 447h1v3h-1zM599 450h1v3h-1zM600 453h1v3h-1zM601 456h1v4h-1zM602 460h1v3h-1zM603 463h1v3h-1zM604 466h1v2h-1zM605 468h1v2h-1zM606 470h1v3h-1zM607 473h1v2h-1zM608 475h1v3h-1zM609 478h1v2h-1zM610 480h1v2h-1zM611 482h1v2h-1zM612 484h1v2h-1zM613 486h1v2h-1zM614 488h1v2h-1zM615 490h1v1h-1zM616 491h1v2h-1zM617 493h1v2h-1zM618 495h1v2h-1zM619 497h1v1h-1zM620 498h1v2h-1zM621 500h1v1h-1zM622 501h1v2h-1zM623 503h1v1h-1zM624 504h1v2h-1zM625 506h1v1h-1zM626 507h1v2h-1zM627 509h1v2h-1zM628 511h1v2h-1zM629 513h1v2h-1zM630 515h1v2h-1zM631 517h1v3h-1zM632 520h1v2h-1zM633 522h1v2h-1zM634 524h1v2h-1zM635 526h1v2h-1zM636 528h1v2h-1zM637 530h1v2h-1zM638 532h1v2h-1zM639 534h1v1h-1zM640 535h1v2h-1zM641 537h1v2h-1zM642 539h1v2h-1zM643 541h1v1h-1zM644 542h2v1h-2zM646 543h1v1h-1zM647 544h2v1h-2zM649 545h2v1h-2zM651 546h1v1h-1zM652 547h2v1h-2zM654 548h1v1h-1zM655 549h2v1h-2zM657 550h2v1h-2zM659 551h9v1h-9zM668 552h1v1h-1zM669 553h1v1h-1zM670 554h1v1h-1zM671 555h2v1h-2zM673 556h1v1h-1zM674 557h1v1h-1zM675 558h1v1h-1zM676 559h1v1h-1zM677 560h2v1h-2zM679 561h1v1h-1zM680 562h1v1h-1zM681 563h2v1h-2zM683 564h4v1h-4zM687 565h8v1h-8zM695 566h5v1h-5zM700 567h1v1h-1zM701 568h1v2h-1zM702 570h1v1h-1zM703 571h1v1h-1zM704 572h1v1h-1zM705 573h1v2h-1zM706 575h1v1h-1zM707 576h1v1h-1zM708 577h1v1h-1zM709 578h1v1h-1zM710 579h1v1h-1zM711 580h2v1h-2zM713 581h1v1h-1zM714 582h1v1h-1zM715 583h2v1h-2zM717 584h2v1h-2zM719 585h3v1h-3zM722 586h3v1h-3zM725 587h2v1h-2zM727 588h3v1h-3zM730 589h2v1h-2zM732 590h2v1h-2zM734 591h1v1h-1zM735 592h2v1h-2zM737 593h2v1h-2zM739 594h1v1h-1zM740 593h1v1h-1zM741 592h1v1h-1zM742 591h2v1h-2zM744 590h1v1h-1zM745 589h1v1h-1zM746 588h1v1h-1zM747 587h4v1h-4zM751 588h14v1h-14zM765 587h2v1h-2zM767 586h2v1h-2zM769 585h2v1h-2zM771 584h5v1h-5zM776 583h12v1h-12zM788 584h2v1h-2zM790 585h1v1h-1zM791 586h2v1h-2zM793 587h2v1h-2zM795 588h1v1h-1zM796 589h2v1h-2zM798 590h2v1h-2zM800 591h2v1h-2zM802 592h3v1h-3zM805 593h4v1h-4zM809 594h4v1h-4zM813 595h4v1h-4zM817 596h6v1h-6zM823 597h5v1h-5zM867 597h1v1h-1zM868 596h1v1h-1zM869 595h1v1h-1zM870 594h2v1h-2zM872 593h1v1h-1zM873 592h1v1h-1zM874 591h1v1h-1zM875 590h1v1h-1zM876 589h1v1h-1zM877 588h1v1h-1zM878 587h1v1h-1zM879 586h1v1h-1zM880 585h1v1h-1zM881 584h1v1h-1zM882 583h1v1h-1zM883 582h1v1h-1zM884 580h1v2h-1zM885 578h1v2h-1zM886 576h1v2h-1zM887 575h1v1h-1zM888 573h1v2h-1zM889 571h1v2h-1zM890 569h1v2h-1zM891 567h1v2h-1zM892 564h1v3h-1zM893 562h1v2h-1zM894 559h1v3h-1zM895 556h1v3h-1zM896 553h1v3h-1zM897 551h1v2h-1zM898 548h1v3h-1zM899 545h1v3h-1zM900 543h1v2h-1zM901 540h1v3h-1zM902 537h1v3h-1zM903 535h1v2h-1zM904 532h1v3h-1zM905 529h1v3h-1zM906 527h1v2h-1zM907 524h1v3h-1zM908 521h1v3h-1zM909 518h1v3h-1zM910 515h1v3h-1zM911 513h1v2h-1zM912 510h1v3h-1zM913 507h1v3h-1zM914 504h1v3h-1zM915 502h1v2h-1zM916 500h1v2h-1zM917 498h1v2h-1zM918 496h1v2h-1zM919 495h1v1h-1zM920 493h1v2h-1zM921 491h1v2h-1zM922 489h1v2h-1zM923 488h1v1h-1zM924 487h1v1h-1zM925 486h1v1h-1zM926 485h1v1h-1zM927 484h1v1h-1zM928 483h1v1h-1zM929 482h1v1h-1zM930 481h1v1h-1zM931 480h1v1h-1zM932 478h1v2h-1zM933 477h1v1h-1zM934 476h1v1h-1zM935 474h1v2h-1zM936 473h1v1h-1zM937 472h1v1h-1zM938 470h1v2h-1zM939 469h1v1h-1zM940 468h2v1h-2zM942 467h2v1h-2zM944 466h1v1h-1zM945 465h2v1h-2zM947 464h1v1h-1zM948 463h2v1h-2zM950 462h1v1h-1zM951 461h1v1h-1zM952 460h2v1h-2zM954 459h1v1h-1zM955 458h1v1h-1zM956 457h2v1h-2zM958 456h2v1h-2zM960 455h1v1h-1zM961 454h2v1h-2zM963 453h1v1h-1zM964 452h1v1h-1zM965 451h1v1h-1zM966 450h1v1h-1zM967 449h1v1h-1zM968 448h1v1h-1zM969 447h1v1h-1zM970 446h1v1h-1zM971 445h1v1h-1zM972 443h1v2h-1zM973 442h1v1h-1zM974 440h1v2h-1zM975 439h1v1h-1zM976 437h1v2h-1zM977 436h1v1h-1zM978 434h1v2h-1zM979 433h1v1h-1zM980 432h1v1h-1zM981 430h1v2h-1zM982 429h1v1h-1zM983 428h1v1h-1zM984 427h1v1h-1zM985 425h1v2h-1zM986 424h1v1h-1zM987 423h4v1h-4zM991 424h8v1h-8zM999 425h7v1h-7zM1006 424h4v1h-4zM1010 423h3v1h-3zM1013 424h2v1h-2zM1015 425h3v1h-3zM1018 426h3v1h-3zM1021 427h2v1h-2zM1023 428h3v1h-3zM1026 429h2v1h-2zM1028 430h1v2h-1zM1029 432h1v2h-1zM1030 434h1v2h-1zM1031 436h1v1h-1zM1032 437h1v2h-1zM1033 439h1v2h-1zM1034 441h1v2h-1zM1035 443h4v1h-4zM1039 444h6v1h-6zM1045 443h3v1h-3zM1048 442h2v1h-2zM1050 441h3v1h-3zM1053 440h2v1h-2zM1055 439h2v1h-2zM1057 438h2v1h-2zM1059 437h1v1h-1zM1060 435h1v2h-1zM1061 434h1v1h-1zM1062 432h1v2h-1zM1063 431h1v1h-1zM1064 429h1v2h-1zM1065 428h1v1h-1zM1066 426h1v2h-1zM1067 425h1v1h-1zM1068 424h1v1h-1zM1069 423h1v1h-1zM1070 422h1v1h-1zM1071 420h1v2h-1zM1072 419h1v1h-1zM1073 418h1v1h-1zM1074 417h1v1h-1zM1075 416h1v1h-1zM1076 415h1v1h-1zM1077 413h1v2h-1zM1078 412h1v1h-1zM1079 411h1v1h-1zM1080 410h1v1h-1zM1081 408h1v2h-1zM1082 407h1v1h-1zM1083 406h5v1h-5zM1088 405h6v1h-6zM1094 404h4v1h-4zM1098 403h3v1h-3zM1101 402h3v1h-3zM1104 401h2v1h-2zM1106 400h2v1h-2zM1108 399h1v1h-1zM1109 398h1v1h-1zM1110 397h2v1h-2zM1112 396h1v1h-1zM1113 395h1v1h-1zM1114 394h1v1h-1zM1115 393h1v1h-1zM1116 392h2v1h-2zM1118 391h2v1h-2zM1120 390h1v1h-1zM1121 389h2v1h-2zM1123 388h1v1h-1zM1124 387h1v1h-1zM1125 386h1v1h-1zM1126 385h1v1h-1zM1127 383h1v2h-1zM1128 382h1v1h-1zM1129 381h1v1h-1zM1130 380h1v1h-1zM1131 379h1v1h-1zM1132 378h1v1h-1zM1133 377h1v1h-1zM1134 376h1v1h-1zM1135 375h1v1h-1zM1136 374h1v1h-1zM1137 373h1v1h-1zM1138 372h1v1h-1zM1139 371h4v1h-4zM1143 372h9v1h-9zM1152 371h12v1h-12zM1164 370h2v1h-2zM1166 369h2v1h-2zM1168 368h1v1h-1zM1169 367h2v1h-2zM1171 366h1v1h-1zM1172 367h1v1h-1zM1173 368h1v2h-1zM1174 370h1v1h-1zM1175 371h1v1h-1zM1176 372h1v1h-1zM1177 373h1v2h-1zM1178 375h1v1h-1zM1179 376h1v1h-1zM1180 377h1v1h-1zM1181 378h1v1h-1zM1182 379h1v1h-1zM1183 380h1v1h-1zM1184 381h1v1h-1zM1185 382h1v1h-1zM1186 383h1v1h-1zM1187 384h2v1h-2zM1189 385h4v1h-4zM1193 386h4v1h-4zM1197 387h2v1h-2zM1199 388h3v1h-3zM1202 389h1v1h-1z"/></g><path fill="#1e90ff" d="M3 645h2v1h-2zM5 644h3v1h-3zM8 643h2v1h-2zM10 642h2v1h-2zM12 643h2v1h-2zM14 644h2v1h-2zM16 645h2v1h-2zM18 646h2v1h-2zM20 645h2v1h-2zM22 644h2v1h-2zM24 643h1v1h-1zM25 642h2v1h-2zM27 641h5v1h-5zM32 640h5v1h-5zM37 639h3v1h-3zM40 638h2v1h-2zM42 637h3v1h-3zM45 638h4v1h-4zM49 639h15v1h-15zM64 638h5v1h-5zM69 637h3v1h-3zM72 636h2v1h-2zM74 635h4v1h-4zM78 634h4v1h-4zM82 633h3v1h-3zM85 632h3v1h-3zM88 631h2v1h-2zM90 630h6v1h-6zM96 629h4v1h-4zM100 630h2v1h-2zM102 631h1v1h-1zM103 632h2v1h-2zM105 633h2v1h-2zM107 634h1v1h-1zM108 635h1v1h-1zM109 636h1v1h-1zM110 637h1v1h-1zM111 638h2v1h-2zM113 639h1v1h-1zM114 640h1v1h-1zM115 641h4v1h-4zM119 642h5v1h-5zM124 643h1v1h-1zM125 644h2v1h-2zM127 645h1v1h-1zM128 646h1v1h-1zM129 647h2v1h-2zM131 648h2v1h-2zM133 647h2v1h-2zM135 646h2v1h-2zM137 645h2v1h-2zM139 644h5v1h-5zM144 643h5v1h-5zM149 644h2v1h-2zM151 645h3v1h-3zM154 646h3v1h-3zM157 647h4v1h-4zM161 648h4v1h-4zM165 649h4v1h-4zM169 650h4v1h-4zM173 651h4v1h-4zM177 652h4v1h-4zM181 651h2v1h-2zM183 650h2v1h-2zM185 649h2v1h-2zM187 648h1v1h-1zM188 649h2v1h-2zM190 650h1v1h-1zM191 651h2v1h-2zM193 652h2v1h-2zM195 653h1v1h-1zM196 654h2v1h-2zM198 655h2v1h-2zM200 656h2v1h-2zM202 657h3v1h-3zM205 658h4v1h-4zM209 659h6v1h-6zM215 660h6v1h-6zM221 661h4v1h-4zM225 662h5v1h-5zM230 661h4v1h-4zM234 660h4v1h-4zM238 659h4v1h-4zM242 658h3v1h-3zM245 659h2v1h-2zM247 660h3v1h-3zM250 661h3v1h-3zM253 662h2v1h-2zM255 663h3v1h-3zM258 664h2v1h-2zM260 662h1v2h-1zM261 660h1v2h-1zM262 659h1v1h-1zM263 657h1v2h-1zM264 656h1v1h-1zM265 654h1v2h-1zM266 652h1v2h-1zM267 651h2v1h-2zM269 652h4v1h-4zM273 653h4v1h-4zM277 654h4v1h-4zM281 655h4v1h-4zM285 656h4v1h-4zM289 657h13v1h-13zM302 656h4v1h-4zM306 655h4v1h-4zM310 654h4v1h-4zM314 653h3v1h-3zM317 652h2v1h-2zM319 651h2v1h-2zM321 650h2v1h-2zM323 649h9v1h-9zM332 650h2v1h-2zM334 651h2v1h-2zM336 652h2v1h-2zM338 653h6v1h-6zM344 652h4v1h-4zM348 651h1v1h-1zM349 650h1v1h-1zM350 649h1v1h-1zM351 647h1v2h-1zM352 646h1v1h-1zM353 645h1v1h-1zM354 644h1v1h-1zM355 643h2v1h-2zM357 644h2v1h-2zM359 645h3v1h-3zM362 646h11v1h-11zM373 645h2v1h-2zM375 644h2v1h-2zM377 643h2v1h-2zM379 642h1v1h-1zM380 643h2v1h-2zM382 644h1v1h-1zM383 645h2v1h-2zM385 646h2v1h-2zM387 647h2v1h-2zM389 646h2v1h-2zM391 645h2v1h-2zM393 644h2v1h-2zM395 643h4v1h-4zM399 644h9v1h-9zM408 643h5v1h-5zM413 642h3v1h-3zM416 641h2v1h-2zM418 640h3v1h-3zM421 639h3v1h-3zM424 638h2v1h-2zM426 637h4v1h-4zM430 636h4v1h-4zM434 635h3v1h-3zM437 636h2v1h-2zM439 637h3v1h-3zM442 638h2v1h-2zM444 639h1v1h-1zM445 640h1v1h-1zM446 641h1v1h-1zM447 642h1v1h-1zM448 643h1v1h-1zM449 644h1v1h-1zM450 645h1v1h-1zM451 646h1v1h-1zM452 645h1v1h-1zM453 644h1v1h-1zM454 643h2v1h-2zM456 642h1v1h-1zM457 641h1v1h-1zM458 640h1v1h-1zM459 639h1v1h-1zM460 640h2v1h-2zM462 641h2v1h-2zM464 642h2v1h-2zM466 643h3v1h-3zM469 644h4v1h-4zM473 645h3v1h-3zM476 646h2v1h-2zM478 647h1v1h-1zM479 648h2v1h-2zM481 649h2v1h-2zM483 650h2v1h-2zM485 649h3v1h-3zM488 648h2v1h-2zM490 647h3v1h-3zM493 648h4v1h-4zM497 649h4v1h-4zM501 648h2v1h-2zM503 647h2v1h-2zM505 646h2v1h-2zM507 645h1v1h-1zM508 646h1v2h-1zM509 648h1v2h-1zM510 650h1v1h-1zM511 651h1v2h-1zM512 653h1v1h-1zM513 654h1v2h-1zM514 656h1v2h-1zM515 658h2v1h-2zM517 657h2v1h-2zM519 656h2v1h-2zM521 655h2v1h-2zM523 654h2v1h-2zM525 653h3v1h-3zM528 652h2v1h-2zM530 651h3v1h-3zM533 652h4v1h-4zM537 653h3v1h-3zM540 654h1v1h-1zM541 655h1v1h-1zM542 656h1v1h-1zM543 657h1v1h-1zM544 658h1v1h-1zM545 659h1v1h-1zM546 660h1v1h-1zM547 661h2v1h-2zM549 662h2v1h-2zM551 663h3v1h-3zM554 664h6v1h-6zM560 663h21v1h-21zM581 662h3v1h-3zM584 661h2v1h-2zM586 660h2v1h-2zM588 661h1v1h-1zM589 662h1v1h-1zM590 663h1v1h-1zM591 664h2v1h-2zM593 665h1v1h-1zM594 666h1v1h-1zM595 667h2v1h-2zM597 668h4v1h-4zM601 669h4v1h-4zM605 668h2v1h-2zM607 667h2v1h-2zM609 666h2v1h-2zM611 665h2v1h-2zM613 666h4v1h-4zM617 667h4v1h-4zM621 666h3v1h-3zM624 665h2v1h-2zM626 664h3v1h-3zM629 665h2v1h-2zM631 666h3v1h-3zM634 667h5v1h-5zM639 668h5v1h-5zM644 667h2v1h-2zM646 666h1v1h-1zM647 665h1v1h-1zM648 664h2v1h-2zM650 663h1v1h-1zM651 662h4v1h-4zM655 663h6v1h-6zM661 664h4v1h-4zM665 665h7v1h-7zM672 664h5v1h-5zM677 665h4v1h-4zM681 666h4v1h-4zM685 667h4v1h-4zM689 668h6v1h-6zM695 669h8v1h-8zM703 670h6v1h-6zM709 669h2v1h-2zM711 668h2v1h-2zM713 667h2v1h-2zM715 666h5v1h-5zM720 665h7v1h-7zM727 666h6v1h-6zM733 667h2v1h-2zM735 668h3v1h-3zM738 669h3v1h-3zM741 668h3v1h-3zM744 667h2v1h-2zM746 666h2v1h-2zM748 665h2v1h-2zM750 664h2v1h-2zM752 663h1v1h-1zM753 662h2v1h-2zM755 661h1v1h-1zM756 660h1v1h-1zM757 659h1v1h-1zM758 658h2v1h-2zM760 657h1v1h-1zM761 656h1v1h-1zM762 655h1v1h-1zM763 654h3v1h-3zM766 653h4v1h-4zM770 652h6v1h-6zM776 651h4v1h-4zM780 650h1v1h-1zM781 649h1v1h-1zM782 648h1v1h-1zM783 647h1v1h-1zM784 646h1v1h-1zM785 645h1v1h-1zM786 644h1v1h-1zM787 643h3v1h-3zM790 642h4v1h-4zM794 641h13v1h-13zM807 642h6v1h-6zM813 643h2v1h-2zM815 644h3v1h-3zM818 645h4v1h-4zM822 644h4v1h-4zM826 643h2v1h-2zM828 642h1v1h-1zM829 641h1v1h-1zM830 640h1v1h-1zM831 638h1v2h-1zM832 637h1v1h-1zM833 636h1v1h-1zM834 635h1v1h-1zM835 634h2v1h-2zM837 633h3v1h-3zM840 632h2v1h-2zM842 631h2v1h-2zM844 632h1v1h-1zM845 633h1v1h-1zM846 634h1v1h-1zM847 635h2v1h-2zM849 636h1v1h-1zM850 637h1v1h-1zM851 638h2v1h-2zM853 639h2v1h-2zM855 640h3v1h-3zM858 641h6v1h-6zM864 640h6v1h-6zM870 639h4v1h-4zM874 638h11v1h-11zM885 639h2v1h-2zM887 640h3v1h-3zM890 641h3v1h-3zM893 642h2v1h-2zM895 643h3v1h-3zM898 644h11v1h-11zM909 643h3v1h-3zM912 642h2v1h-2zM914 641h6v1h-6zM920 640h4v1h-4zM924 639h1v1h-1zM925 637h1v2h-1zM926 636h1v1h-1zM927 635h1v1h-1zM928 634h1v1h-1zM929 632h1v2h-1zM930 631h1v1h-1zM931 630h2v1h-2zM933 631h2v1h-2zM935 632h3v1h-3zM938 633h2v1h-2zM940 634h2v1h-2zM942 635h1v1h-1zM943 636h2v1h-2zM945 637h2v1h-2zM947 638h1v1h-1zM948 639h2v1h-2zM950 640h2v1h-2zM952 641h2v1h-2zM954 642h11v1h-11zM965 643h4v1h-4zM969 644h11v1h-11zM980 643h1v1h-1zM981 642h1v1h-1zM982 641h2v1h-2zM984 640h1v1h-1zM985 639h1v1h-1zM986 638h1v1h-1zM987 637h12v1h-12zM999 638h5v1h-5zM1004 639h2v1h-2zM1006 640h2v1h-2zM1008 641h2v1h-2zM1010 642h2v1h-2zM1012 641h1v1h-1zM1013 639h1v2h-1zM1014 638h1v1h-1zM1015 637h1v1h-1zM1016 636h1v1h-1zM1017 634h1v2h-1zM1018 633h1v1h-1zM1019 632h5v1h-5zM1024 631h4v1h-4zM1028 630h2v1h-2zM1030 629h1v1h-1zM1031 628h1v1h-1zM1032 627h2v1h-2zM1034 626h1v1h-1zM1035 625h1v1h-1zM1036 626h1v1h-1zM1037 627h1v1h-1zM1038 628h1v1h-1zM1039 629h1v1h-1zM1040 630h1v1h-1zM1041 631h1v1h-1zM1042 632h1v1h-1zM1043 633h10v1h-10zM1053 632h3v1h-3zM1056 631h2v1h-2zM1058 630h2v1h-2zM1060 631h1v1h-1zM1061 632h1v2h-1zM1062 634h1v1h-1zM1063 635h1v1h-1zM1064 636h1v1h-1zM1065 637h1v2h-1zM1066 639h1v1h-1zM1067 640h2v1h-2zM1069 639h3v1h-3zM1072 638h2v1h-2zM1074 637h2v1h-2zM1076 638h1v1h-1zM1077 639h1v1h-1zM1078 640h1v1h-1zM1079 641h2v1h-2zM1081 642h1v1h-1zM1082 643h1v1h-1zM1083 644h5v1h-5zM1088 643h5v1h-5zM1093 644h2v1h-2zM1095 645h3v1h-3zM1098 646h3v1h-3zM1101 647h2v1h-2zM1103 648h3v1h-3zM1106 649h6v1h-6zM1112 648h5v1h-5zM1117 649h2v1h-2zM1119 650h3v1h-3zM1122 651h6v1h-6zM1128 650h7v1h-7zM1135 651h15v1h-15zM1150 650h4v1h-4zM1154 649h3v1h-3zM1157 650h2v1h-2zM1159 651h3v1h-3zM1162 652h3v1h-3zM1165 651h2v1h-2zM1167 650h2v1h-2zM1169 649h2v1h-2zM1171 648h1v1h-1zM1172 649h1v1h-1zM1173 650h1v1h-1zM1174 651h1v1h-1zM1175 652h1v1h-1zM1176 653h1v1h-1zM1177 654h1v1h-1zM1178 655h1v1h-1zM1179 656h3v1h-3zM1182 655h4v1h-4zM1186 654h5v1h-5zM1191 655h6v1h-6zM1197 654h3v1h-3zM1200 653h2v1h-2zM1202 652h1v1h-1z"/><path fill="#000080" d="M2 2h1222v1h-1222zM2 598h1222v1h-1222zM2 2h1v597h-1zM1223 2h1v597h-1zM2 600h1222v1h-1222zM2 696h1222v1h-1222zM2 600h1v97h-1zM1223 600h1v97h-1zM1224 14h2v1h-2zM1224 65h2v1h-2zM1224 116h2v1h-2zM1224 167h2v1h-2zM1224 219h2v1h-2zM1224 270h2v1h-2zM1224 321h2v1h-2zM1224 372h2v1h-2zM1224 423h2v1h-2zM1224 475h2v1h-2zM1224 526h2v1h-2zM1224 577h2v1h-2zM1224 602h1v1h-1zM1224 630h1v1h-1zM1224 667h1v1h-1zM1224 695h1v1h-1zM3 697h1v3h-1zM99 697h1v3h-1zM195 697h1v3h-1zM291 697h1v3h-1zM387 697h1v3h-1zM483 697h1v3h-1zM579 697h1v3h-1zM675 697h1v3h-1zM771 697h1v3h-1zM867 697h1v3h-1zM963 697h1v3h-1zM1059 697h1v3h-1zM1155 697h1v3h-1z"/><rect x="1223" y="348" width="1" height="1" fill="#dcdcdc"/><path fill="#000080" d="M6 10h9v1h-1v1h-1v1h-1v1h-1v1h-1v-1h-1v-1h-1v-1h-1v-1h-1z"/><g font-family='"DejaVu Sans Condensed","Liberation Sans",sans-serif' font-size="12px" stroke-width="0.1" style="white-space:pre" xml:space="preserve"><text x="21 28 36 43 51 58 66 70 78" y="17" fill="#000080" stroke="#000080">EURUSD,H4</text><text x="93 100 104 111 118 125 132 136 143 147 154 161 168 175 179 186 190 197 204 211 218 222 229 233 240 247 254" y="17" fill="#000080" stroke="#000080">1.1575 1.1582 1.1572 1.1582</text><text x="7 14 21 25 30 37 44 49 53 60 67 71 78 85 92" y="616" fill="#000080" stroke="#000080">RSI(14) 45.8298</text><text x="1230 1237 1241 1248 1255 1262" y="19" fill="#000080" stroke="#000080">1.1745</text><text x="1230 1237 1241 1248 1255 1262" y="70" fill="#000080" stroke="#000080">1.1720</text><text x="1230 1237 1241 1248 1255 1262" y="121" fill="#000080" stroke="#000080">1.1695</text><text x="1230 1237 1241 1248 1255 1262" y="172" fill="#000080" stroke="#000080">1.1670</text><text x="1230 1237 1241 1248 1255 1262" y="224" fill="#000080" stroke="#000080">1.1645</text><text x="1230 1237 1241 1248 1255 1262" y="275" fill="#000080" stroke="#000080">1.1620</text><text x="1230 1237 1241 1248 1255 1262" y="326" fill="#000080" stroke="#000080">1.1595</text><text x="1230 1237 1241 1248 1255 1262" y="377" fill="#000080" stroke="#000080">1.1570</text><text x="1230 1237 1241 1248 1255 1262" y="428" fill="#000080" stroke="#000080">1.1545</text><text x="1230 1237 1241 1248 1255 1262" y="480" fill="#000080" stroke="#000080">1.1520</text><text x="1230 1237 1241 1248 1255 1262" y="531" fill="#000080" stroke="#000080">1.1495</text><text x="1230 1237 1241 1248 1255 1262" y="582" fill="#000080" stroke="#000080">1.1470</text><text x="1227 1234 1241" y="614" fill="#000080" stroke="#000080">100</text><text x="1226 1233" y="635" fill="#000080" stroke="#000080">70</text><text x="1226 1233" y="672" fill="#000080" stroke="#000080">30</text><text x="1227" y="693" fill="#000080" stroke="#000080">0</text><text x="2 9 16 20 29 35 40 44 51 58 65" y="712" fill="#000080" stroke="#000080">15 Oct 2025</text><text x="98 105 112 116 125 131 136 140 147 154 158 165" y="712" fill="#000080" stroke="#000080">17 Oct 04:00</text><text x="194 201 208 212 221 227 232 236 243 250 254 261" y="712" fill="#000080" stroke="#000080">21 Oct 04:00</text><text x="290 297 304 308 317 323 328 332 339 346 350 357" y="712" fill="#000080" stroke="#000080">23 Oct 04:00</text><text x="386 393 400 404 413 419 424 428 435 442 446 453" y="712" fill="#000080" stroke="#000080">27 Oct 04:00</text><text x="482 489 496 500 509 515 520 524 531 538 542 549" y="712" fill="#000080" stroke="#000080">29 Oct 04:00</text><text x="578 585 592 596 605 611 616 620 627 634 638 645" y="712" fill="#000080" stroke="#000080">31 Oct 04:00</text><text x="674 681 685 693 700 706 710 717 724 728 735" y="712" fill="#000080" stroke="#000080">4 Nov 04:00</text><text x="770 777 781 789 796 802 806 813 820 824 831" y="712" fill="#000080" stroke="#000080">6 Nov 04:00</text><text x="866 873 880 884 892 899 905 909 916 923 927 934" y="712" fill="#000080" stroke="#000080">10 Nov 04:00</text><text x="962 969 976 980 988 995 1001 1005 1012 1019 1023 1030" y="712" fill="#000080" stroke="#000080">12 Nov 04:00</text><text x="1058 1065 1072 1076 1084 1091 1097 1101 1108 1115 1119 1126" y="712" fill="#000080" stroke="#000080">14 Nov 04:00</text><text x="1154 1161 1168 1172 1180 1187 1193 1197 1204 1211 1215 1222" y="712" fill="#000080" stroke="#000080">18 Nov 04:00</text><rect x="1225" y="337" width="49" height="14" fill="#ff0000"/><text x="1230 1237 1241 1248 1255 1262" y="349" fill="#fff" stroke="#fff">1.1584</text><rect x="1225" y="341" width="49" height="14" fill="#000080"/><text x="1230 1237 1241 1248 1255 1262" y="353" fill="#fff" stroke="#fff">1.1582</text></g></svg></body></html>
